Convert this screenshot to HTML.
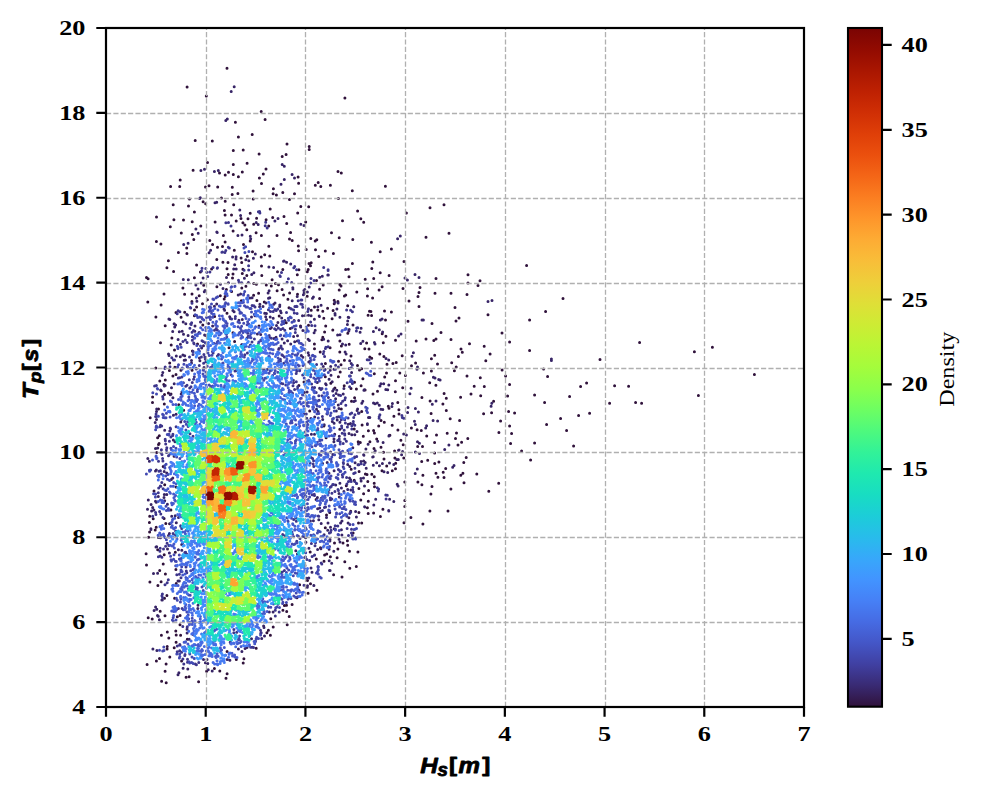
<!DOCTYPE html><html><head><meta charset="utf-8"><style>html,body{margin:0;padding:0;background:#fff;width:1000px;height:800px;overflow:hidden}</style></head><body><svg width="1000" height="800" viewBox="0 0 1000 800" style="position:absolute;left:0;top:0"><rect width="1000" height="800" fill="#fff"/><path d="M227 68.2h0M754.4 374.6h0" stroke="#30123b" stroke-width="3.0" stroke-linecap="round" fill="none"/><path d="M147.1 664.6h0M148.2 617.8h0M149.9 582h0M146.5 565h0M146.1 553.7h0M148.6 537.3h0M149.6 532.1h0M149.4 522.5h0M149.7 516.2h0M150.2 417.7h0M147.8 302.1h0M148.1 278.7h0M146.5 277.4h0M156.4 661h0M152.2 619.1h0M157.9 585.4h0M157.7 549.7h0M155.2 529.9h0M156.2 527.2h0M153.2 518.8h0M154 491h0M157.9 475.7h0M156.7 452.5h0M157.6 437.7h0M152.5 402.4h0M152.6 397.1h0M155.8 368.1h0M155.9 316.9h0M156.4 241.4h0M156.5 216.9h0M161.6 681.3h0M159.5 658.6h0M161.4 635.2h0M160.2 611.2h0M161.1 581.7h0M159.7 570.5h0M163.2 564.1h0M164.1 518.6h0M163.2 466.6h0M158.5 444.6h0M159.1 443.5h0M159.3 435.7h0M158.5 409.1h0M163.8 384.6h0M159.8 381h0M160.5 342.7h0M161.1 305h0M164 294h0M160.9 244.1h0M166.2 682.7h0M165.1 671.2h0M166.1 664h0M169.8 657h0M167.1 649h0M167.2 646.6h0M168.8 637.9h0M167.3 632h0M165 615.7h0M164.5 598.2h0M166.9 595.5h0M165.4 574.1h0M164.2 554.8h0M169.6 523.7h0M165.8 523.6h0M164.7 484.8h0M164.3 404h0M164.5 394.5h0M168.4 393h0M165.3 380.1h0M169.4 370.6h0M169.7 363h0M165.2 325.7h0M166.9 267.8h0M168.4 260.8h0M174.2 647.7h0M176.1 642.2h0M176.2 634.9h0M175.8 631h0M174.6 598.3h0M176.2 583.6h0M175.9 569.5h0M175.3 552.2h0M170.9 510.1h0M176.1 487.1h0M174.1 456.3h0M171 394.1h0M172.9 376.1h0M176 374.6h0M174.9 367.2h0M174.5 349.9h0M171.2 345.1h0M171.9 338h0M176 312.5h0M173.6 271.5h0M170.3 226.8h0M173.9 219.7h0M173.2 204.8h0M170.6 186.5h0M181.6 660.9h0M180.6 635.2h0M180 624.7h0M177.3 616.7h0M180.1 615.6h0M178.8 404.7h0M180.9 370.3h0M181.1 317.2h0M178.4 252.5h0M181.3 233.1h0M179.7 186.4h0M186.1 677.3h0M187.3 639.3h0M183.7 410.2h0M184.7 312.3h0M184.6 294.2h0M182.9 288.1h0M186.9 253.5h0M186.7 247.9h0M183.5 220h0M189.1 676.8h0M192.1 370.3h0M192.4 351.1h0M194.4 315.8h0M194.5 310.1h0M191.9 301.4h0M192 294.1h0M194.4 277.8h0M193.8 239.4h0M192.3 234.4h0M192.2 221.8h0M194.4 212h0M188.5 206.1h0M189.5 198.9h0M198.6 681.7h0M197.5 344.1h0M196.6 306.9h0M199.2 295.7h0M200.4 272h0M196.6 265h0M206.6 671.3h0M202.8 324.9h0M202.5 303.8h0M203.7 285.3h0M200.8 226h0M205.7 203.7h0M203.1 201.8h0M205.5 186.9h0M207.4 299.7h0M211.6 268.9h0M212.6 244.4h0M209.8 240.5h0M209 185.7h0M214.4 668.4h0M214.6 316.6h0M216.9 286.7h0M216.8 259.4h0M217.5 247.2h0M215.1 222h0M217.7 187h0M219.8 671.1h0M224.2 299.1h0M220.3 295.7h0M222.9 262.2h0M222.5 246.6h0M223.4 235.5h0M224.4 210.6h0M221.4 198.1h0M226 678.3h0M227.1 673.8h0M227.1 651.6h0M229 347.7h0M227 313.2h0M225.1 296.6h0M226.4 289.5h0M228.2 274.5h0M227 268.7h0M228 262.6h0M225.1 242h0M225.1 215.1h0M225.2 201.2h0M236.3 659.5h0M234.6 341.4h0M233 332.8h0M231.6 291.4h0M232.5 278.1h0M233 273.9h0M234.3 250.3h0M233.1 231h0M236.2 221.1h0M231.5 215.1h0M233.7 204.7h0M232.2 194.6h0M232.3 187.3h0M241.3 300.7h0M241.8 287.9h0M242.3 273.6h0M242.9 269.3h0M241.7 262.6h0M241.1 258.1h0M242.9 222.8h0M241 218.5h0M237.9 193.5h0M243.2 663.1h0M243.9 658.8h0M245.9 286.2h0M246.8 275.4h0M247.3 256.3h0M243.5 244.6h0M246.8 229.7h0M244.9 224.9h0M248 218.7h0M253.6 295.2h0M253.8 283.4h0M252.5 251.7h0M250.2 240.9h0M253.7 224.2h0M250.2 213.3h0M253.2 199.1h0M253.1 191.1h0M256.2 648.2h0M255.4 641.3h0M259 326h0M256.9 300.4h0M258.6 293.2h0M256.4 284.2h0M261.2 257.1h0M261.4 235.6h0M256.1 232.7h0M256.6 218.2h0M266.9 632.8h0M264.3 302.1h0M266.3 285.1h0M261.8 275.5h0M261.5 265.9h0M264.7 254.8h0M266.1 219.7h0M261.5 183.5h0M270.4 635.2h0M268.4 630.3h0M273.2 627.1h0M270.8 618.8h0M271.3 286.1h0M272.1 279.7h0M269.8 256h0M268.8 246.3h0M268.7 226h0M272.7 217.4h0M270.2 209h0M273.1 193.7h0M273.4 188.8h0M279.2 316h0M277.1 290.8h0M278.5 284.8h0M275.5 283.5h0M277.5 271.8h0M277 235.5h0M276.4 195h0M282.9 610.3h0M284.4 605.6h0M283.6 295h0M282.1 289.4h0M282.8 269.4h0M284 216.5h0M282.8 192.6h0M287.2 624.8h0M289.2 616.6h0M286.7 611.5h0M286.5 605.2h0M290.3 328.4h0M286.2 322.7h0M289 307.7h0M287.9 299.3h0M289.6 293.1h0M289.5 239h0M290.6 232.6h0M286.7 223.4h0M289.5 199.4h0M292.1 604.6h0M296.9 597.7h0M294.1 320.5h0M297.5 294.3h0M297.3 274.8h0M292.2 240.4h0M297.7 213h0M294.5 193.7h0M299.6 584.7h0M298.9 385.6h0M304 381.9h0M300.5 326.1h0M298.9 269.7h0M298.6 250.7h0M298.3 245.9h0M300.8 206.6h0M298.6 183.3h0M308.1 593.3h0M307.5 580.5h0M309.7 411h0M304.8 349.4h0M308.5 325.2h0M307.2 296.3h0M307.3 271.8h0M308.2 269.4h0M309 263.5h0M306.2 249.5h0M305.7 222.1h0M308.7 206.7h0M310.5 583.8h0M310.2 552h0M316.1 499.6h0M314.5 348.8h0M314.4 344h0M311.2 310.3h0M314.5 307.1h0M310.5 265.8h0M311.2 262.8h0M315.5 249.7h0M315.2 241h0M310.8 238.6h0M315.3 185.2h0M316.9 590.2h0M316.3 558.9h0M320.5 547.7h0M320.2 352.1h0M321.9 339.8h0M317.8 309.9h0M319.6 298.5h0M319.6 289.3h0M316.5 280.6h0M318.7 256.4h0M316.8 239.8h0M320.8 186.4h0M318.2 182.5h0M324 561.3h0M324.6 555.1h0M326.7 553.9h0M325.3 527.7h0M326.5 515.1h0M326.1 437.7h0M323.9 426.1h0M325.3 376.8h0M325.4 363.5h0M322.8 337.2h0M324.6 332h0M325.7 326.1h0M323.8 318.3h0M322.8 311.2h0M327.6 308.2h0M323.2 285.1h0M325.3 250.9h0M333.6 574.7h0M330.4 556.8h0M329.7 512.5h0M330.8 383.3h0M330.1 347.7h0M332.8 330.1h0M332.1 318.8h0M333.1 310.4h0M334.2 303.7h0M334.2 300.3h0M333.4 253.5h0M331.5 232.8h0M330.4 185.2h0M337.1 557.7h0M337.9 549h0M334.5 543h0M340.1 457.5h0M339.8 429.3h0M334.9 387.9h0M338.4 376.7h0M340.2 371.9h0M338.5 361.3h0M339.8 352h0M339.9 341.1h0M337.9 301.5h0M339.2 290.1h0M339.9 284.4h0M339.2 237.7h0M338.4 198.5h0M342 577h0M344.8 561.8h0M343 543.1h0M346.3 485.7h0M341.3 408.9h0M344.2 385.7h0M341 364.7h0M344.4 360.3h0M341.4 346h0M344.4 296.1h0M345.7 294.9h0M341 286.1h0M345.7 269.4h0M342.5 220.8h0M349.8 568.2h0M349.5 551.3h0M347.7 545.3h0M347.4 540.7h0M350.7 511.2h0M351.2 469.2h0M351.5 401.2h0M351 388.5h0M351 355.9h0M349.2 344.2h0M347.8 333.3h0M347.7 305.7h0M349 276.7h0M348.3 269.3h0M352.4 263.5h0M352.3 190.8h0M356.3 566.4h0M357.9 552h0M353.1 533.1h0M358.5 523h0M354.2 480.2h0M358.2 441.8h0M354.2 429h0M354.6 397.8h0M356.4 389.1h0M354.5 382.3h0M357.5 365.5h0M353 325h0M356.8 291.9h0M352.8 239.4h0M357.6 211h0M361.7 522.9h0M358.9 512.5h0M360.8 500h0M363.6 493.8h0M358.9 488.4h0M359.1 471.4h0M360.3 442.6h0M363.3 436.3h0M362.1 424.9h0M359 413h0M361.7 411.4h0M361.1 385.7h0M362.9 378.8h0M359.5 369.9h0M361.6 368.7h0M364.8 348.8h0M363.7 222.3h0M360.8 218.7h0M368.2 513.6h0M367.4 507.8h0M368.3 501.2h0M368.6 490.4h0M367.8 481.6h0M367 474.5h0M365.4 473.9h0M369.9 441.7h0M368.4 430.8h0M365.1 389.9h0M369.8 357h0M369 349h0M366.6 342.9h0M368.1 315.2h0M369.5 311.2h0M367.4 296.1h0M367.6 288.8h0M365.2 279.3h0M373.6 512.9h0M374.5 486.8h0M374.2 483.3h0M374.3 476.8h0M371.8 474.3h0M374 448.6h0M376.7 438.9h0M374.4 433.1h0M373.6 430.5h0M373 394.1h0M374.3 373.8h0M371.7 358.2h0M371.6 315.6h0M370.9 311.5h0M372.6 297.9h0M373.7 278.4h0M371.8 268.5h0M372.8 261.9h0M371.4 242.2h0M380.4 516.6h0M382.9 509.3h0M382 470.7h0M381 447.3h0M378.7 425.9h0M381 420.4h0M377.5 391.2h0M379.8 354h0M382.2 333.8h0M379.1 290.1h0M382.1 286.7h0M380.2 272.7h0M380.2 251.8h0M386.7 465.9h0M384 459h0M383.5 452.2h0M384.3 422.3h0M389 408.2h0M388.3 406.2h0M384.7 377h0M386.5 373h0M387 364.2h0M383.9 356.6h0M383.3 342.7h0M385.9 336.3h0M385.5 320.1h0M384.5 310.9h0M389.1 275.6h0M385.4 186.3h0M392.3 470.7h0M394.9 458.1h0M394.6 450.9h0M389.9 435.2h0M392.2 425.3h0M393.9 416.3h0M395.3 391.8h0M392.9 363.5h0M391.4 312h0M391.4 248.9h0M395.5 468.8h0M395.7 463.3h0M400.9 440.3h0M397.9 430h0M399 413.9h0M398.9 409.7h0M397.8 402.4h0M395.5 380.7h0M399.8 373h0M396.2 362.5h0M395.5 340.2h0M403.8 458.1h0M403.2 444.7h0M402.7 387.8h0M405.4 375.4h0M402.2 355.8h0M411.4 427.9h0M411.5 365.7h0M417.7 446.5h0M417.1 429.7h0M415.6 362.9h0M416.2 340.9h0M421.7 461.5h0M422.5 446.4h0M421.3 430.5h0M421.9 397.4h0M423.4 373.1h0M427.7 460.2h0M426.7 436h0M431.1 413.5h0M430.1 401.1h0M429.7 382.8h0M431.4 371.1h0M431.4 358.8h0M434.7 463.4h0M434.6 453.1h0M434.6 442.6h0M436.5 434.9h0M435.9 385.2h0M437.5 364.1h0M434.7 355.2h0M433.8 340.4h0M438.9 462h0M442.9 404h0M445.7 468.6h0M447.2 433.2h0M446.3 410.4h0M446.3 398.2h0M444.1 393.5h0M455.5 438.5h0M450.2 418.8h0M454.4 370.7h0M451.7 362.7h0M458 445.1h0M461.6 442.3h0M456.5 432.9h0M459.6 420.4h0M460.6 397.2h0M456.2 367h0M458.4 356.4h0M461 349h0M463.8 462.4h0M466.2 457.5h0M467.8 438.6h0M467 375.9h0M462.3 352.3h0M471 393.9h0M474.2 386.3h0M469.5 343.8h0M480.3 377.7h0M483.6 413.8h0M480.7 395.8h0M484.3 386.4h0M485.8 360.8h0M484.2 346.2h0M491.6 412.8h0M490.1 353.9h0M493.6 401.2h0M498.9 432.6h0M500.6 421.1h0M502.1 370.1h0M187.1 87.1h0M206.3 96.1h0M344.9 97.9h0M261.2 111.4h0M265.1 119.5h0M235.4 122.2h0M195.2 140.5h0M212.3 141.1h0M238.4 136.9h0M252.2 134.5h0M287 144.1h0M309.2 146.5h0M309.2 149.5h0M233.3 150.4h0M243.2 150.1h0M259.1 154h0M282.2 156.4h0M286.1 154.6h0M207.5 162.4h0M233.3 164.5h0M247.1 163.3h0M266 169h0M193.1 170.2h0M219.5 172.9h0M228.5 172.3h0M225.2 175h0M233.3 174.4h0M238.4 176.8h0M242.3 172h0M259.4 178h0M263.3 174.1h0M298.1 177.1h0M338 171.4h0M341.3 172.9h0M180.2 180.1h0M430 207.8h0M444 204.8h0M406.4 213h0M426 237.2h0M449 233.2h0M404 261.6h0M526.6 265.6h0M436 278.6h0M468 274.8h0M480 280.8h0M478 285.4h0M468 283h0M403 288.4h0M420 287.6h0M419 292.4h0M418 296.4h0M435 293.2h0M451 293.2h0M467 294.4h0M409 301h0M419 306.6h0M455 307.4h0M563 298.6h0M545.6 311.4h0M488 314.8h0M459 318h0M456 321h0M408 321.2h0M432 323.6h0M529.6 320h0M441 332.6h0M502 333h0M426 339h0M436 339h0M451 339.6h0M509.6 342h0M529.6 350.4h0M600 359.4h0M543.6 369h0M547.6 376.4h0M505.6 376h0M509.6 384.4h0M580.6 386.4h0M586.6 383h0M534.6 395h0M507.6 396h0M569.6 396.6h0M544.6 402.6h0M508.6 411.4h0M514.6 413h0M578.6 415.6h0M589.6 413.2h0M560.6 418.4h0M546.6 424.6h0M509.6 426h0M511.6 433.6h0M566.6 430.6h0M510.6 443.4h0M534.6 443h0M573.6 446h0M521.6 451h0M530.6 460h0M639.6 342.4h0M694.4 351.8h0M712.4 347.2h0M614.6 385.8h0M628.6 386.2h0M609.6 403.2h0M635.6 402.4h0M641.6 403.2h0M698.4 395.4h0M422.9 475.3h0M436 473.2h0M437.9 477.2h0M443.2 472.2h0M444 477.4h0M460.8 475.3h0M462.9 473.2h0M476.8 474h0M417.9 482h0M421.9 484.7h0M432 486.6h0M464 482.8h0M498.7 483.3h0M450.9 488.9h0M488.8 491.3h0M430.9 494h0M404.8 482h0M404.8 500.4h0M404.8 506.5h0M429.9 511h0M448 511h0M410.9 517.4h0M404 522.8h0M422.9 524.1h0" stroke="#30123b" stroke-width="3.0" stroke-linecap="round" fill="none"/><path d="M150.9 528.7h0M151 529.6h0M147.5 509.3h0M151.6 511h0M148.3 499.9h0M151.1 504.5h0M147.8 458.4h0M149.4 461.3h0M152.9 649.1h0M156.9 650.5h0M154.1 610.5h0M157.5 615.6h0M156.8 609.3h0M155.6 607h0M153.5 573.6h0M157.6 573.3h0M156.7 546.7h0M156 547.1h0M153.9 510.1h0M152.7 507.6h0M156.3 502.3h0M155.5 501.2h0M155.5 470.9h0M156.3 470h0M155.5 448.4h0M157.7 447.9h0M155.2 422.6h0M156.5 419.4h0M156.5 411.5h0M156.7 409.1h0M159.4 619.8h0M158.3 616.3h0M161.9 600.1h0M162.3 599.9h0M160.5 537.7h0M158.4 537.5h0M158.3 496.6h0M164 497.5h0M160.6 390h0M161.2 390.7h0M162.1 375.2h0M162.8 372.5h0M169.4 553.1h0M167.5 549h0M168.5 535.6h0M169.4 533.5h0M164.7 500.8h0M167.4 504.3h0M166.8 494.4h0M164.3 494.4h0M166.8 473.1h0M164.2 471.6h0M164.7 430.3h0M169.8 430.9h0M164.4 386h0M165.2 385.6h0M169 355.5h0M168.5 353.9h0M168.9 318.9h0M169.8 319.4h0M171.7 516.3h0M175.2 515.8h0M172.8 478.1h0M171.3 479.5h0M175 441.7h0M173.3 439.9h0M176.1 414.3h0M173.4 415.3h0M172.9 397.7h0M170.2 394.8h0M171.5 387.8h0M174.2 383.8h0M172.7 331.5h0M174.7 327.1h0M175.6 325h0M174.1 323.8h0M178 674.8h0M178.9 672.8h0M178 581.1h0M179.3 580.9h0M178.4 549.8h0M181.8 550.2h0M182.4 543.4h0M181.7 544.5h0M176.3 522.8h0M178.5 517.6h0M180.8 422h0M181.7 419.3h0M181.2 394h0M181.9 391.9h0M176.3 356h0M180.3 356.8h0M178.1 339.6h0M180.4 344.3h0M179.3 331.8h0M182.2 331.2h0M183.1 668.2h0M187.8 668.9h0M187.1 633.1h0M187 629.3h0M184.2 360.3h0M185.5 359.9h0M182.9 354.9h0M184.7 355.8h0M183.5 334.3h0M188.1 335.4h0M183.2 322h0M185.8 323.8h0M187.4 315.1h0M186.9 314.6h0M183.3 279.6h0M188.3 279.8h0M183.7 244.4h0M188.1 243.3h0M189.2 639.3h0M193.3 634.4h0M191.5 363h0M191.5 360.4h0M197.8 608.6h0M198 605.3h0M199.9 360.8h0M199.4 357.9h0M194.8 331.3h0M199.1 332.5h0M195 326.1h0M200.5 321.9h0M196.9 301.3h0M196.4 298.1h0M195.9 285.1h0M198 289h0M195.9 229h0M198.2 233.2h0M200.3 197.7h0M199.7 198.6h0M203.5 659.5h0M205.4 662.7h0M203.4 369h0M204 367.4h0M203.5 345.7h0M201.6 348.1h0M205.6 335.5h0M204.6 335.1h0M204.3 291.7h0M205 290.5h0M201.2 282.9h0M203.1 277.9h0M208.2 669.7h0M212.2 671.1h0M207.8 663.5h0M207 659.5h0M208.6 323.5h0M212.6 326h0M209.1 252.7h0M210.6 250.3h0M214.4 306.3h0M216.7 303.9h0M217.2 232.5h0M216.8 232.1h0M215 202.7h0M216.7 202.2h0M224.6 310.2h0M224 309.1h0M220.4 284.2h0M223 288.4h0M227.2 659.4h0M229.9 660.3h0M230.3 318.6h0M229.7 316.8h0M226.5 277.6h0M228.4 282.7h0M232.9 310.5h0M234.1 311.8h0M233.7 269.1h0M236.2 268.9h0M234.7 264.8h0M236 259.1h0M232.6 256.9h0M236.1 256.7h0M238.4 649h0M241.9 651.5h0M241.6 344.7h0M242 344.5h0M238.9 320.2h0M242.3 319.5h0M238.2 295h0M240.6 294.1h0M237.9 235.5h0M242 235.1h0M239.8 209.9h0M240.6 215.5h0M245.1 648.4h0M247 647.6h0M244.4 278.2h0M248.4 282.4h0M245.8 259.8h0M248.8 260.7h0M251.5 638.7h0M249.8 635.3h0M251.5 317.1h0M255 315.7h0M249.8 298h0M252.1 297.7h0M251.7 274.5h0M253.9 272.7h0M253.4 258.2h0M255.3 254h0M250.7 238.7h0M250.3 236.3h0M257.4 334.1h0M260.7 334.6h0M259.6 306.7h0M259.9 304.2h0M258.2 224.5h0M256.2 222.6h0M261.7 638.5h0M264.5 636h0M263.6 626.1h0M264 627.4h0M263.6 369.4h0M267.3 369.4h0M266.5 319.6h0M265.7 316.7h0M264.7 313.3h0M266.4 313.4h0M263 306.6h0M266 302.9h0M269.3 611.9h0M273.1 611.9h0M270.4 328.6h0M271.4 327.4h0M270.2 317.1h0M273.2 318.2h0M268.5 298.3h0M269.8 297.7h0M268.1 293.1h0M269.1 290.8h0M268.9 267.1h0M273.6 267.4h0M279 348.4h0M278.7 349.2h0M276.1 337.3h0M274 338.5h0M276.5 325.4h0M277.9 322.4h0M273.7 304.3h0M275 303.1h0M274.9 221.1h0M278 218.6h0M282.1 339.1h0M284.3 343h0M281.7 317.9h0M284.9 320.5h0M281.1 312.7h0M280.5 311h0M279.7 306.5h0M279.8 304.9h0M284.1 261h0M283.5 261.2h0M281 184.2h0M287.6 340.7h0M290.7 344.1h0M286.6 262.3h0M290.7 264.1h0M297.4 554h0M295.8 550.7h0M294.7 341.7h0M297.4 341.1h0M293.6 336.5h0M297.5 335.7h0M292.2 300.7h0M297.2 296.6h0M292.8 287.8h0M292.9 288.9h0M301.3 355.5h0M302.9 357.2h0M300.7 327h0M302.9 330.5h0M298.7 320.4h0M302.5 315.8h0M303.4 294.8h0M303.9 290.5h0M300.8 224.2h0M304 225.4h0M307.5 585.7h0M307.3 587.2h0M306.8 578.3h0M308.8 578.1h0M305.9 542.2h0M308.9 548.2h0M304.9 536.4h0M305.6 537.7h0M304.4 392.4h0M307.1 392h0M308.8 361.9h0M309.8 361.2h0M308.8 355.2h0M308.2 352.7h0M309.4 340.5h0M308.1 339.2h0M305.2 315.6h0M308.5 315.3h0M304.1 292.9h0M307.4 291.9h0M304.8 289.6h0M309.2 287h0M313.8 585.6h0M313.9 585.4h0M312 572.3h0M311 568.1h0M310.4 521h0M313.4 520.7h0M311.4 434.2h0M314.5 434.2h0M310.9 418.4h0M314.7 417.1h0M314.1 332.8h0M315.2 330.2h0M311.1 315.7h0M314.4 319.2h0M312.5 298.3h0M313.4 296.9h0M317.6 549.4h0M320.9 548.8h0M318.8 519.8h0M321.2 523.5h0M317.6 508.7h0M319.7 508h0M317.4 497.5h0M321.3 498.3h0M318.1 411.4h0M316.5 409.2h0M317.3 382.5h0M319.6 388.3h0M319.2 315.9h0M319.4 316.4h0M317.8 306.8h0M321.1 305.3h0M319.7 277.3h0M322.3 276.3h0M324.1 534.7h0M327.7 530.3h0M328 523.1h0M326.5 517.6h0M322.6 463.6h0M327.2 462.4h0M324.2 424.8h0M322.7 419.4h0M325.6 383.7h0M326.2 384.8h0M325.1 369.4h0M323.3 366.6h0M323.7 339.3h0M328.2 341h0M328.3 275h0M327.8 274.9h0M330.1 570.5h0M329.5 570.6h0M329.2 560.8h0M331.7 563.3h0M329.1 549.3h0M333.8 551.3h0M330 539.6h0M329.9 541.1h0M330.5 527.3h0M334.2 528.7h0M330.5 499.7h0M330.8 499.6h0M329 473.2h0M334.1 470.8h0M330.6 452h0M332.9 454.6h0M333.9 441.7h0M334 439.1h0M334.1 423.3h0M332.3 421.4h0M333.7 389.2h0M332.7 391.1h0M329.1 379.2h0M332.2 381.8h0M331 375.3h0M330.2 370.2h0M330.7 366.4h0M334 369.3h0M340 542h0M339 539.2h0M339.3 497.1h0M339 493.4h0M335.7 484.9h0M339.9 483.3h0M334.7 434.2h0M339.3 436.3h0M337.2 420.1h0M339.9 422.3h0M336.3 410.9h0M338.9 408.5h0M335.2 401.4h0M338.3 405.1h0M335.6 398.8h0M338.7 394.9h0M336.1 393.5h0M336.8 390.3h0M337.6 335h0M340 334.8h0M335.1 315.1h0M339.9 317.2h0M335 313.4h0M336.9 309h0M334.9 302.2h0M338.1 303h0M341.9 534.9h0M341.4 529.8h0M342 521.1h0M340.6 523h0M341.4 487.9h0M343.9 491.4h0M343.2 393.9h0M343.9 388.6h0M346.1 354h0M345.1 352.1h0M342.5 344.1h0M345.7 344.9h0M348.1 522.9h0M348.9 517.8h0M347.7 489.6h0M350.9 490h0M349.5 478h0M350.6 479.8h0M347.7 464.6h0M349.8 466.6h0M349 433.6h0M351.8 434.8h0M348.2 424.3h0M350.5 423.6h0M350.3 375.9h0M351.6 372.4h0M349.7 360.7h0M351.2 363.5h0M348.8 331h0M349.2 329.5h0M347.4 324.5h0M347.7 320.9h0M348.8 317.4h0M348.2 317.3h0M355.6 511.4h0M356.4 517h0M355.1 462.7h0M358 464.8h0M352.8 447.7h0M358.5 444h0M354.8 434.7h0M357 431.4h0M357.1 410.5h0M357.6 409.1h0M355.3 400.7h0M353.8 401.6h0M353.7 306.8h0M353.8 306.8h0M364.6 506.7h0M364.7 507.1h0M361.1 481h0M364.5 485.9h0M360.9 478.6h0M363.5 478h0M361 461.5h0M363.7 461h0M363.9 455.2h0M363.6 454.8h0M361.8 403.2h0M362.8 401.2h0M364.3 389.8h0M363.9 390.3h0M360.7 343.6h0M362.9 341.3h0M360.1 332.2h0M361.1 328.2h0M366.2 468.2h0M365.2 462.6h0M365.9 449h0M368.1 444.2h0M367.4 424.6h0M367.4 423.8h0M368.5 417.6h0M369.8 417.6h0M373.8 505.1h0M375.7 499.2h0M373.3 465.3h0M376.7 462.8h0M373.2 456.8h0M372.7 457h0M375.2 450.7h0M374.8 452.1h0M373.5 403h0M375 403.7h0M374.4 342.5h0M375 344h0M373.4 331.5h0M376.1 327.8h0M379.4 465.8h0M382.4 463.4h0M377.7 441.3h0M383.1 442.6h0M382.8 409.4h0M380.9 409.3h0M379.3 405.3h0M377.3 403h0M380 386.1h0M380.9 383.7h0M379.3 329.8h0M382.6 332.1h0M380.4 319.9h0M382.1 319h0M388.7 510.5h0M388.8 511.1h0M384 471.7h0M387.7 472.5h0M389.1 435.6h0M388.9 435.9h0M385.8 389.5h0M387.7 389.8h0M383.7 383.7h0M388.8 385.1h0M386 358.6h0M388.7 360h0M389.6 499.3h0M393.8 501.6h0M389.5 463h0M393.8 464.5h0M391.9 406.4h0M392.4 403.4h0M397.2 484.3h0M398.1 486.1h0M398.3 459.5h0M396.8 459.5h0M398.5 450.3h0M399 450.1h0M398.6 335.9h0M397.6 238.8h0M400.3 236.1h0M401.6 454.8h0M402.6 451.5h0M403.7 434h0M406.4 435.1h0M407.6 412.4h0M408 407.4h0M409.9 393.7h0M411.1 388.3h0M412 356.2h0M413.4 352.7h0M417.3 469h0M415.4 451.9h0M419.5 453.4h0M417.5 441.8h0M419.4 443.3h0M415.3 424.5h0M414.5 421.2h0M415.4 408.6h0M418.4 412h0M417.5 366.9h0M417 369.2h0M426.6 425.8h0M425.7 427.9h0M433.1 420.6h0M437.6 420.9h0M432.3 404.3h0M436 401h0M433.4 377.2h0M435 377.9h0M440.1 380h0M438.7 379.5h0M444.7 449.4h0M448.9 445.1h0M452.7 467.3h0M454 465.4h0M491.1 406.3h0M491.8 403.3h0M234.2 86.8h0M231.2 91.6h0M225.8 120.4h0M227.3 119h0M282.2 164.5h0M284.3 166.3h0M200.9 170.5h0M204.5 169.3h0M214.4 171.4h0M218.3 170.5h0M292.1 174.4h0M294.5 178h0M284.3 179.5h0M415 274.4h0M419 277.4h0M405 278h0M407.4 280h0M488 301.4h0M492 300.4h0M422 320h0M423.4 320h0M401 334h0M551.4 359h0M551.4 360.6h0M415.2 473.5h0" stroke="#372466" stroke-width="3.0" stroke-linecap="round" fill="none"/><path d="M152.7 516.3h0M155.6 512.5h0M155.9 514.4h0M156.3 416.4h0M155.6 416.5h0M156.1 413.9h0M154.6 385.9h0M156.4 385.5h0M156.4 385.6h0M161.9 595.8h0M162.5 597.4h0M162.4 594.1h0M160.2 555.9h0M158.4 556.8h0M161.9 557.3h0M159.9 551.2h0M160.2 548.3h0M163.5 549.1h0M159.6 511.5h0M160.8 514.1h0M162.9 517.5h0M158.3 492.8h0M158.7 488.1h0M163.1 488.7h0M160.8 486.3h0M160.4 486h0M161.8 482.6h0M159 471.3h0M160.4 470.8h0M161.4 474.1h0M158.5 461.2h0M162.9 460.9h0M162.6 458.6h0M162 454.6h0M161.1 452.9h0M161.4 449.8h0M160 426.7h0M160.5 425.3h0M161.7 426.1h0M163 398.9h0M162.8 397.1h0M162.7 396.6h0M165 584.8h0M167.2 582.8h0M168.3 579.7h0M165.6 546.3h0M167.1 543.3h0M168.8 545.5h0M166.6 452.5h0M168.5 455.8h0M170 454h0M166.5 449.7h0M166.8 447.8h0M165.7 444.1h0M165.4 440.8h0M165.2 439.2h0M169.4 441.3h0M165.2 367h0M164.9 368.6h0M170 366.8h0M173.1 533.6h0M175.5 535.1h0M175.6 531.1h0M170.9 437.1h0M172.7 435.4h0M172.9 434.3h0M170.6 428.9h0M170.2 427.9h0M176.1 426.8h0M171.8 357.7h0M174.5 359.9h0M173.4 359.9h0M177.2 651.8h0M181.6 652.2h0M179.7 650.7h0M177.3 646.1h0M180.1 645.2h0M179.8 644.4h0M176.8 609.2h0M178.4 608.6h0M182.1 608.5h0M176.8 574.8h0M181 577.8h0M179.4 574.3h0M181.7 528.5h0M180.7 526.2h0M180.7 525.8h0M178.3 378h0M179.6 377.8h0M181.9 377.1h0M177.2 313.7h0M178.1 310.8h0M179.9 311.8h0M183.8 664.1h0M187.5 662.2h0M187.5 659.3h0M182.9 658.9h0M184.8 655.6h0M185 654.6h0M182.8 626.6h0M187.2 627.2h0M187.3 626.7h0M186.8 572.7h0M186.3 571h0M186 567h0M184.8 552.6h0M186.6 554h0M185.6 552.3h0M183.4 382.7h0M187 385.3h0M185.7 386.2h0M182.9 341.6h0M187.1 342.6h0M185.4 340.1h0M189 436.9h0M190 433.8h0M193 436.3h0M191 386.7h0M189.7 388h0M192.3 382.5h0M189.3 379.7h0M193.6 379.3h0M194.3 376.7h0M189.5 357.1h0M193 354.6h0M193.1 351.4h0M194 343.8h0M193.7 343.1h0M192.3 340.3h0M192.4 336.8h0M194.2 338h0M192.6 336.8h0M189.9 328.3h0M193.5 330.4h0M192.1 332.2h0M190.7 324.1h0M191.2 324.4h0M191.6 322.7h0M190.3 307.4h0M190.7 307.9h0M192 303.3h0M196.4 664.7h0M195.4 664h0M198.8 662.5h0M196.1 368.2h0M196.3 369h0M199.3 365.5h0M203.6 363.3h0M205.9 361.7h0M205.3 359h0M201.4 356.9h0M204.8 356.9h0M203.9 354.5h0M202 340.8h0M203.2 341.4h0M205.4 342.8h0M202 268.3h0M201.5 270.9h0M205.8 268.4h0M207.7 276.5h0M206.8 272.2h0M209.9 272h0M213.1 353h0M217.4 355.9h0M218.5 354.4h0M214.5 330.3h0M217.3 330.1h0M216.2 328.6h0M213 267.6h0M217.5 267.8h0M217.3 268.2h0M221.9 252.3h0M224.9 252.4h0M222.4 251.9h0M230.4 642.1h0M230.8 643.5h0M230.2 642.2h0M225.8 250.5h0M229.3 248h0M228.3 247.2h0M225.9 222.7h0M231 225.9h0M228.5 222.4h0M233.8 632.8h0M233.9 629.4h0M236.8 632.2h0M231.1 374.7h0M236.3 370.6h0M235 371.1h0M231.6 319.1h0M235.2 318.4h0M235.4 316.4h0M239.1 282.3h0M238.5 280.2h0M241.7 282.7h0M244.8 354.7h0M244.3 356.9h0M247.4 353h0M248.2 336.2h0M247.1 338h0M247.7 333.2h0M244.1 270.2h0M248.7 270.1h0M248.6 265.8h0M250.7 647.3h0M253.5 647.5h0M252.4 647.3h0M250.4 345h0M252 341.9h0M254.4 339.1h0M252.1 305.6h0M255 307.1h0M253.9 305.8h0M260.7 633.2h0M261.2 632.7h0M260.5 630.3h0M259.9 213h0M258.4 211.7h0M259.6 211.4h0M265.2 225.7h0M267.2 228.1h0M265.7 222.3h0M269.5 337.3h0M269.2 335.6h0M271.4 338.2h0M270.5 311.4h0M268.4 309.8h0M273.2 311.5h0M275.3 615.9h0M275.3 610.3h0M279.2 611.9h0M274.6 328.8h0M276 329.8h0M278.3 328.1h0M276.2 310.4h0M274.9 309.5h0M277.8 309.1h0M282.2 572h0M281 572.7h0M284.4 570.5h0M282.7 534.6h0M285 535.7h0M284.2 529.9h0M280.9 383.2h0M285.8 385.1h0M282.8 383.7h0M280.5 360.9h0M280.4 359.2h0M283.8 363.3h0M281.9 354.7h0M282.7 355.6h0M284.4 357.1h0M282.4 349h0M281.1 347.5h0M281 346h0M280.7 329.6h0M284.8 330.3h0M282.9 328.6h0M279.9 275.7h0M280.3 276.6h0M281.5 272.5h0M286.5 312.5h0M290.7 308.4h0M291.4 309.1h0M287.1 282.3h0M288.4 278.8h0M291.7 282.4h0M293.7 536.8h0M296.8 541.2h0M296.7 541.8h0M293.7 519.6h0M296.3 521.3h0M296.1 517.9h0M292.5 393.3h0M294.6 389.6h0M297.6 388.9h0M293 385.7h0M293.6 382.8h0M297.7 386.8h0M292.3 379.7h0M293.4 380.3h0M296.3 381.7h0M296.2 373.4h0M296.3 370.1h0M296.7 371.3h0M292.1 327.7h0M295.3 332.4h0M295.4 329.2h0M294.3 313h0M293.6 310.1h0M297.1 313.6h0M297 306.4h0M294.9 306.5h0M296.3 306.2h0M294.7 266.5h0M293.8 267.8h0M296.6 269.8h0M299.2 590.7h0M298.7 590h0M304 585.3h0M300 538.5h0M298.4 536.3h0M302.8 536.5h0M299.7 370.1h0M299.6 370.8h0M302.7 375h0M300.8 303.9h0M302.7 307.2h0M302.3 304.5h0M298.2 300.8h0M301.8 300h0M301 300h0M304.5 564.5h0M305 565.6h0M309.7 560.6h0M304.7 557.6h0M306.9 559.5h0M305.5 557h0M306.8 418.2h0M304 414h0M306.3 414.1h0M308.5 308.7h0M307.8 311.4h0M308.3 309.2h0M312.1 556.6h0M314.4 555.3h0M314.6 555.1h0M311.4 543.5h0M315 545.7h0M315.5 542.7h0M312.1 494.8h0M314.3 494.2h0M314.5 495.4h0M313.1 463.9h0M310.1 462.9h0M313.8 466.4h0M311 457.6h0M312.6 458.6h0M313.6 460.8h0M312.4 387.5h0M311.6 384h0M314.6 387.4h0M311.7 325.6h0M310.6 321.9h0M315 325.7h0M310.6 283.1h0M311 278.5h0M314.1 280.6h0M318 566.5h0M321.8 563.9h0M321.2 562.9h0M318.3 515.9h0M318.8 516.2h0M320.5 511.4h0M319.1 400.2h0M318.8 395.7h0M322 395.8h0M316.2 392.4h0M321 389.6h0M322 388.6h0M316.6 364.5h0M321 369h0M321.7 364.1h0M322.5 510.5h0M324.4 507.5h0M325.6 507h0M322.4 416.6h0M326.9 413.8h0M327.2 414.1h0M324.6 356.4h0M323.3 353.8h0M323.8 351.5h0M325.4 348.6h0M328.1 346.7h0M325.9 347.2h0M323.7 267.4h0M328.1 270.4h0M328.1 269.8h0M329.4 533h0M330.6 532.3h0M331.1 530.2h0M330.3 498h0M331.8 499h0M331.9 493.2h0M328.4 492.8h0M328.9 490.1h0M330.3 487.3h0M331.2 486.6h0M333.5 484.5h0M332.7 484.5h0M330.5 400.3h0M328.4 397.6h0M333.6 395.5h0M335.4 529.2h0M335.2 525.8h0M337.8 525.9h0M334.9 491.4h0M338.4 490.4h0M338 489.5h0M340 471.4h0M338.4 469.6h0M340.2 471h0M340.2 441.8h0M339.2 438.9h0M337.7 440.4h0M336.9 417.3h0M340.2 417.1h0M338.5 416.7h0M335.4 369.3h0M335.6 365.3h0M338.4 366.9h0M342.6 477h0M342.3 474.7h0M346.6 477.5h0M343.2 466.7h0M343.3 462.6h0M343.5 463.4h0M343.2 443.6h0M346.4 441.2h0M344.8 439.1h0M342.2 433.2h0M344.8 434.9h0M344.7 433.8h0M341.7 428h0M341.6 426.1h0M344.2 430.3h0M341.3 419.7h0M345.4 423h0M344.7 419.8h0M341 403.6h0M342.6 401.2h0M345.8 405.2h0M340.6 395.4h0M345.3 397.7h0M344.8 399.7h0M348.5 535.5h0M351.4 533.1h0M352.3 535.6h0M347.1 528.4h0M351.5 529.3h0M349.9 524.4h0M346.8 516.2h0M349.7 513.6h0M350.7 512.2h0M346.9 484h0M348.5 481.6h0M351.2 481.5h0M347.4 426.9h0M351.8 428.9h0M351.8 425.7h0M348.1 418.1h0M351.7 413h0M350.2 413.9h0M349.6 386.7h0M347.2 382.8h0M352.4 383.4h0M349.2 368.6h0M351.3 367.7h0M352.4 365h0M346.6 310h0M352.4 311.8h0M350.6 310.2h0M352.7 490.1h0M353.3 492h0M352.8 487.4h0M354.8 481.4h0M356.4 483.5h0M356.7 483.4h0M355.2 472.7h0M353.7 473.5h0M354.9 468.3h0M354.6 457h0M354.4 457.7h0M356.7 456.4h0M353.3 423.7h0M354.8 425.2h0M353.3 421.4h0M353.7 417.4h0M354.9 414.8h0M358.4 413.3h0M356.4 331h0M357.7 327.8h0M356.7 327.9h0M361.1 463.8h0M358.8 464.8h0M364.1 464.4h0M367.2 359.7h0M370.6 363.3h0M369.2 359.8h0M378.3 490.9h0M377.3 487.8h0M378.6 489.1h0M379.2 416.6h0M379.1 418.3h0M379.9 414.7h0M386.1 498.9h0M385.8 495h0M387.3 495.3h0M402.3 417.6h0M403.8 418.3h0M401.9 415.4h0" stroke="#3d358b" stroke-width="3.0" stroke-linecap="round" fill="none"/><path d="M146.4 474h0M150.7 470h0M149.6 471.2h0M149.4 470.3h0M153.6 493.8h0M154.1 493.8h0M155.4 496.9h0M155.6 494h0M155.6 429.8h0M157.3 427.3h0M156.1 426.9h0M156.4 425.9h0M152.8 392.7h0M156.5 394h0M157.3 388.4h0M157.6 388.9h0M159.5 650.2h0M164 650.5h0M162.7 651h0M163.8 646.9h0M158.4 416.2h0M163.2 417.5h0M162.6 414.2h0M163.4 414.9h0M166.4 539.8h0M164.9 537.4h0M169.1 536.9h0M169.2 536.6h0M166.4 510.6h0M166 506.3h0M168.8 510.2h0M168.4 508.6h0M165.7 475.9h0M169.6 480.4h0M167.4 479.3h0M168.1 474.5h0M164.8 465.4h0M164.9 468h0M166.1 464.3h0M169.7 467.5h0M167.3 434.6h0M168.7 434.5h0M169 435.1h0M169 434.3h0M164.7 417.7h0M166 417.7h0M166.4 413.3h0M170.1 417h0M172.4 620h0M173.2 621h0M173.2 617.6h0M176 619.9h0M171.4 560.9h0M175.7 565.7h0M176.2 561.5h0M175.4 561.2h0M171 559.7h0M170.6 556.3h0M173.6 559.2h0M174 554.7h0M170.9 448.2h0M171.5 449.8h0M176 448.3h0M173.5 446.5h0M176.8 654.1h0M179.9 656.6h0M179.4 658.1h0M179.7 653.9h0M177.3 600.2h0M176.4 598.2h0M180.4 602h0M181 599h0M181 570.1h0M182.1 571.6h0M181 571.7h0M181.7 566.8h0M179.3 555.1h0M181.5 558.2h0M180.9 560.5h0M179.4 559.1h0M176.7 457h0M181.8 461.8h0M179.9 458.5h0M182 456.2h0M177.6 366.9h0M178.5 364.7h0M182.3 368.1h0M182.1 369h0M177.9 348.4h0M178.1 347.3h0M177.3 346.2h0M181.2 347.2h0M183.4 609.8h0M188.2 615h0M186.9 612.1h0M187.5 612h0M183.1 426.2h0M185.9 429.9h0M188.1 426.5h0M188.3 425.7h0M184.7 421.4h0M186.2 424.3h0M188.1 421.7h0M187.7 421.8h0M183.9 364.3h0M187.2 366.8h0M187.6 366.9h0M186.9 365.6h0M189.7 662.9h0M189 661.7h0M193.2 663.5h0M191.7 662.6h0M189.7 653.5h0M189.8 653.9h0M194.3 658.4h0M192 657h0M188.6 618.8h0M192.4 622h0M191.9 621.2h0M192.2 618.3h0M188.7 595.1h0M190.2 595.3h0M193.5 591.6h0M191.5 591.8h0M190.7 570.8h0M193.9 572.8h0M193 569.4h0M194.2 569h0M189.1 399.8h0M188.8 397h0M188.8 396.9h0M191.9 400.5h0M196 589.6h0M197.3 590.4h0M195.1 586.7h0M197.4 588h0M197.3 391.5h0M197.4 389.9h0M197.4 391.4h0M197.8 388.9h0M196.8 345.6h0M198.5 349.2h0M199.5 351.2h0M200.5 345.9h0M195.2 314.8h0M196.8 315.6h0M197.7 317.6h0M199.8 317h0M203.2 590.5h0M202 587h0M206.5 588h0M203.7 585.4h0M203 374h0M203.4 370.2h0M205.6 375.9h0M205.9 372.1h0M201.7 317.6h0M202.4 319.1h0M203.8 320.1h0M206.5 317.4h0M209.2 384.9h0M212.7 386h0M210.9 387.6h0M210.8 386.5h0M207.3 366.3h0M210.5 367.5h0M211.6 367.3h0M212.7 365.3h0M209.3 355.5h0M208 353h0M212 355.3h0M212.4 351.6h0M209 317.2h0M210.4 319.4h0M210 316.7h0M212.7 317.3h0M209.1 311.3h0M211.6 313.3h0M210 309.1h0M210.8 310.8h0M209.3 306.9h0M209.8 306.7h0M210.9 307.4h0M211.5 303.9h0M213.9 343.3h0M216.7 343.4h0M217.3 341.9h0M218.1 341.3h0M213.7 299.6h0M212.9 298.9h0M216.1 297.7h0M217.6 296.8h0M219.1 363.6h0M221.6 358.9h0M222.6 363.3h0M223.1 362.9h0M226.5 338.9h0M226.8 337h0M226.5 334.2h0M226 333.9h0M226.9 325.9h0M227.1 323.6h0M225.8 322.5h0M225.8 321.4h0M225.6 302.8h0M225 304.3h0M228.2 304.3h0M228.1 303.8h0M231.1 287.2h0M231.6 286.7h0M234.8 286.4h0M235 286.2h0M238.7 638.5h0M238.5 639.8h0M239.4 639.4h0M239.6 635.9h0M239.7 332.6h0M243 332.5h0M241.5 330.5h0M240.5 328.3h0M238.1 326.7h0M238 322.1h0M239.5 322.8h0M241.6 326.3h0M240 313.2h0M240 311.8h0M238.8 309.6h0M241.5 312.9h0M243.7 323.3h0M248.7 324h0M247.1 324.8h0M247.6 321.7h0M244.5 305.7h0M246 306.9h0M243.4 302.3h0M247.5 307.1h0M243.5 294.9h0M243.7 294h0M244.7 291.5h0M248.1 295.4h0M244.9 252.5h0M245.6 246.8h0M244 247.9h0M248.9 251.6h0M251 337.7h0M249.4 337.3h0M250.8 333.7h0M250.1 335.8h0M251.5 312h0M251.1 308.5h0M249.9 308.5h0M254.3 314.3h0M256.1 638.9h0M256.6 637.2h0M258.5 638.4h0M260.6 635h0M258.5 343.4h0M260.8 340.8h0M258.8 341.9h0M260.8 340.1h0M263.8 380.2h0M262 378h0M266.2 378.1h0M265 378.2h0M268.3 607.2h0M268.2 606.6h0M270.8 607.3h0M273.5 603.9h0M269 373.2h0M270.1 371.1h0M272.6 375.6h0M271.4 370.2h0M275.7 607.8h0M276.8 607h0M279.5 607.4h0M278.1 604.3h0M274.7 373.5h0M274.4 373.1h0M275.2 370.5h0M277.8 372.2h0M278.8 360.8h0M277.4 363.1h0M278.5 362h0M278.1 357.9h0M282.6 603.6h0M280.3 597.9h0M282 599.2h0M282.9 602.2h0M280.3 335.8h0M280.7 335h0M284.2 335.7h0M285.6 335.8h0M281.5 324.6h0M282.1 321.5h0M283.8 323.5h0M283.8 321.5h0M286.4 602.5h0M288.1 598.9h0M288.5 597.6h0M290.9 598.6h0M286.4 572.6h0M288.7 569.9h0M286.9 567.9h0M291.7 572h0M288 555.1h0M285.9 557h0M290.1 559.2h0M289.7 557.5h0M288.1 521.5h0M287.8 520.7h0M286.8 517.8h0M291.5 518.3h0M286.3 423.9h0M290.5 423h0M291 421.3h0M291.8 420.4h0M288.9 392.6h0M291.1 391.4h0M290.1 391.3h0M289.2 390.2h0M288.6 320.2h0M288.3 318.3h0M291.2 317.8h0M290.2 317h0M293.8 596.1h0M295.6 597.2h0M297.7 596.7h0M296.2 592.9h0M293.3 575.8h0M297.6 573.4h0M295.3 573h0M297.8 575.8h0M294.9 544h0M293.8 544.5h0M292.1 543.9h0M297.1 542.7h0M292.6 534.3h0M294.8 530h0M292 532h0M297.2 535.4h0M295.4 441.1h0M295.3 443.3h0M295.7 441h0M296.3 439.8h0M292 422.8h0M294.8 419.2h0M295.8 424.7h0M295.5 419.9h0M292.4 353.9h0M295.2 354.9h0M296.9 355.5h0M297.9 353.4h0M294 326.3h0M292 322.3h0M294.2 321.3h0M296.1 325.7h0M300.5 398.4h0M301.3 398.2h0M302.5 394.7h0M302.9 395h0M298 364.9h0M299.2 365.7h0M303 365.6h0M303.8 364.6h0M299.4 343h0M298.7 340.7h0M303 345.1h0M301.3 343.5h0M305.7 552.7h0M304.8 551.9h0M304.7 548.5h0M304.9 548.7h0M306.3 529.3h0M305.6 527.7h0M310.1 527h0M309.8 525.5h0M306.5 510.7h0M305.2 507.9h0M308.4 508.9h0M308.1 507.6h0M304.4 504.7h0M305.3 500h0M307.4 503.8h0M308.1 499.4h0M306.1 496.5h0M305.1 495.4h0M309.6 497h0M309.1 493.5h0M306.3 435.1h0M305.2 436h0M305 431.9h0M307.6 435.2h0M304.4 425.2h0M306.8 421.9h0M307.9 424.5h0M308.6 420.8h0M306.9 403h0M307.1 405.6h0M308.5 406.2h0M308 402.4h0M306.6 381.4h0M304.2 378.1h0M308.7 380.3h0M309.4 381.7h0M310.9 535.3h0M312.8 535.8h0M314.4 535.4h0M313.6 534.8h0M312 446.8h0M310.2 444.7h0M315.2 445.4h0M315.6 445.8h0M310.6 376.7h0M315.6 381.7h0M315.5 379.3h0M313.8 377.9h0M310.8 374.6h0M315.3 374.1h0M313.3 370.3h0M315.4 371.6h0M310.4 363.6h0M310.4 357.9h0M311 360.2h0M314.1 359.5h0M312.8 355.2h0M312.3 355.4h0M315.1 356.5h0M313.7 356.1h0M316.4 573h0M318.3 574h0M321.2 578.1h0M319.8 577.1h0M317.4 571.7h0M318.3 570.1h0M318.3 566.9h0M318.2 567.4h0M317.4 532.9h0M318.1 530.8h0M319.1 531.2h0M320.2 531.8h0M319.1 454h0M321 455.2h0M319.4 455.3h0M321.7 451.3h0M317.2 442.3h0M319.7 440.8h0M321.8 440.1h0M319.7 439.7h0M317.9 430.6h0M316.6 430.2h0M317.8 428.5h0M321.7 426.8h0M318.3 418h0M317.5 413.4h0M317 413.7h0M318.8 413.5h0M317.3 406h0M316.5 404.4h0M317.6 401.1h0M319.7 406.6h0M319 378.4h0M317.7 378h0M319.4 380.9h0M321.2 377.1h0M324.4 374.8h0M322.3 374.8h0M324.2 370.5h0M328.3 372.5h0M329.2 547h0M329.6 546.4h0M328.8 547.1h0M328.7 547h0M329.6 510.8h0M328.7 510h0M328.8 511.1h0M329.2 506.1h0M330.3 478.7h0M328.7 477.9h0M331 476.1h0M330.4 476.4h0M331 459.5h0M329.9 459.3h0M331.4 461.8h0M331.8 457.1h0M330.4 415.5h0M333.5 418.2h0M332.5 419h0M333.3 418.8h0M331 412.9h0M329 408.9h0M334.3 410.9h0M334.2 407.6h0M335.3 530h0M338.6 534.7h0M338 534.5h0M339.2 530.4h0M335.6 516.9h0M336.5 514h0M336.5 513.1h0M339.7 513.7h0M335.1 509h0M334.6 505.6h0M339.6 507.1h0M339.6 506.2h0M336.2 477.4h0M337.5 477.9h0M338 479.1h0M338.1 474.5h0M334.6 454.8h0M339.6 452.9h0M339.1 453h0M340 452.6h0M335 445.6h0M334.6 446.3h0M339 449.8h0M340.2 444h0M342.1 508.5h0M345.9 509.5h0M344.1 508.5h0M344.3 506.7h0M343.4 474h0M340.8 471.2h0M345.1 472.3h0M343.9 468.4h0M340.5 454.8h0M342.2 451.7h0M340.8 452.7h0M342.6 451.2h0M349.5 499.2h0M349.3 499.6h0M350.2 501.1h0M350.2 499.1h0M349 453.3h0M347.8 450.6h0M351.4 453.8h0M349.8 449.9h0M349.4 376.1h0M351 379.5h0M350.2 381.5h0M352.4 381.6h0M353 539.1h0M355.6 539.1h0M352.8 538.8h0M355.7 538.1h0M355 529.2h0M354.1 529.6h0M353.1 524.5h0M356.5 528.5h0M355.6 504.5h0M354.5 503.9h0M355.4 501.9h0M353.1 501.3h0M366.5 410.6h0M367.5 412.5h0M365.7 407.3h0M367.2 408.3h0" stroke="#4249b1" stroke-width="3.0" stroke-linecap="round" fill="none"/><path d="M152.5 460h0M156 456.6h0M156.7 458.8h0M156.1 456.1h0M157 457.9h0M158.1 535.2h0M159.7 533h0M163.5 533.9h0M161.1 535.1h0M164 535.7h0M158.2 501.5h0M160.4 500.1h0M163.8 502.4h0M162 502.6h0M162.4 500.5h0M166.4 490.6h0M164.8 490h0M165.3 490.3h0M169.5 492.1h0M167.9 488.7h0M171.7 611.1h0M173.6 615.5h0M175.5 611.3h0M175.9 610.3h0M173.8 611.6h0M172.3 545.9h0M173.1 545.6h0M170.3 545.3h0M174.4 547.9h0M173.9 544.1h0M171.3 527.2h0M172.3 525.8h0M175.6 527.6h0M173.8 528.8h0M173.5 528.4h0M171 523h0M172.1 521.7h0M173 518.9h0M172.5 519.7h0M174.7 518.2h0M171.6 503.1h0M172.1 504.7h0M173.4 503.5h0M175.4 500.9h0M174.7 500h0M170.4 493.2h0M173.9 497.7h0M174.2 497.5h0M175.6 495.6h0M173.6 494.1h0M173.1 486.2h0M170.7 486.3h0M173.4 486.3h0M176 483.7h0M173.7 482.4h0M173 404.6h0M171.5 401.8h0M170.4 401.1h0M175.9 404.6h0M175.9 404.7h0M178.1 585.6h0M180.7 588.8h0M182.2 590h0M181.5 589.6h0M181.9 587.1h0M177 539.1h0M176.5 537.1h0M181.2 540.2h0M181.7 538.5h0M182.3 536.7h0M178.5 399.6h0M181.2 400.3h0M182.2 395.9h0M180.7 397.3h0M181.1 397.5h0M184.5 646.7h0M184.1 642.2h0M185.2 642.3h0M187.9 643.9h0M185.6 641.7h0M185.1 606.8h0M185.1 609.8h0M185.4 608.6h0M185.8 608.3h0M185.8 604.6h0M182.5 587.1h0M184 587.2h0M188.3 588.7h0M187.3 585.7h0M185.7 586.1h0M185.1 574h0M182.7 575h0M185.9 577.6h0M186.7 578.7h0M187.4 578.5h0M185.4 533.7h0M182.5 532h0M184.7 531.8h0M187.8 531.1h0M186.5 530.1h0M189.4 624.8h0M189.7 622.5h0M191.5 622.5h0M188.9 622.2h0M192.3 624.4h0M189.6 581.3h0M192.8 582.7h0M193.9 582.8h0M192.2 579.3h0M192.2 579.7h0M189.2 393.9h0M189.3 392h0M191.9 392.3h0M194.4 393.3h0M193 389.7h0M195 644.7h0M199.5 646h0M197.7 645.3h0M198.2 645.9h0M198.3 644.5h0M194.6 620.4h0M195.1 620.9h0M200.3 619.1h0M200.2 621.9h0M200.4 616.6h0M195.6 576.5h0M196 577.5h0M197.9 578.1h0M199 578.8h0M198.9 575.1h0M197.3 559.9h0M194.9 556.9h0M195.3 557.3h0M199.4 558.9h0M198 559.5h0M195.5 422.9h0M196.3 422.2h0M195.3 424.9h0M195.6 419.5h0M199.9 424.3h0M194.6 405.7h0M194.7 400.8h0M196.6 401.4h0M199.1 404.2h0M198.3 405.9h0M197 399.2h0M195.9 400.3h0M197.5 399.8h0M195.1 396.1h0M195.6 397.4h0M194.8 338h0M197.3 335.7h0M195.3 334.7h0M200.1 333.3h0M197.7 333.9h0M202.5 650.4h0M200.9 651.1h0M201.3 651.6h0M201.9 649.6h0M206.3 651h0M205.2 380.1h0M205.6 381.6h0M206.7 376.2h0M205.3 377.6h0M203.8 376.3h0M202.7 329.7h0M200.7 327.7h0M205.9 330.4h0M206.5 328.1h0M205.7 327.5h0M215.5 656.4h0M216.1 657.4h0M218.2 656.3h0M217.1 653.8h0M216.4 655.8h0M214 630.9h0M213.3 630.9h0M214.9 630.2h0M218.5 633.9h0M216.6 629.2h0M215.6 325.3h0M215.7 324.1h0M212.9 322.3h0M217.4 326.3h0M216.5 321.4h0M213.2 314.4h0M214.1 314.2h0M214.9 308.5h0M212.9 310.5h0M217.9 310h0M221.6 650.1h0M220.5 651.9h0M220.3 647.7h0M220.6 649.7h0M224.3 647.6h0M221.1 386.5h0M221 385.2h0M224.9 386.6h0M224.7 385.4h0M223.9 387.4h0M221.2 333.2h0M219 334.9h0M220 334.5h0M220.2 333.5h0M224.6 338.4h0M219 331.5h0M219.3 332.5h0M224 330.5h0M224.2 331.5h0M224.6 327.7h0M223 326.1h0M223.7 326.1h0M224.8 325.6h0M224.3 326.5h0M224.6 320.8h0M219.9 318.9h0M219.4 315.8h0M223.2 318.7h0M223.4 319.8h0M222.3 316.1h0M220.8 306.8h0M219.3 306h0M224.8 306.3h0M224.8 305.9h0M223.1 306.4h0M225.8 379.1h0M226.4 380.1h0M226.6 380.5h0M226.3 377h0M229.1 380.7h0M228 366.8h0M229.6 367.5h0M229.4 368.9h0M228.3 367h0M228.1 364.7h0M225.1 293.6h0M226.8 293.8h0M227.2 295.4h0M225.8 291.3h0M230.8 290.7h0M232.5 656.1h0M232 653.2h0M235 657h0M237 657.4h0M234.6 654.9h0M237.4 643.7h0M239.9 642.8h0M237.6 642.7h0M241.1 646.4h0M241.1 641.5h0M240.4 356.8h0M241.8 354.6h0M243.1 356.5h0M240.8 353.9h0M241 351.7h0M238.3 335.1h0M239 333.6h0M241 338.2h0M242.7 337.3h0M241.5 335.4h0M237.6 306.2h0M240.1 305.8h0M238.3 302.8h0M241.8 302.7h0M240.2 302.6h0M244.3 349.5h0M244.7 346.5h0M243.5 346.7h0M246.2 346.3h0M249.1 346.8h0M245.9 330.5h0M246.2 332.1h0M244.3 331.1h0M247.8 330.7h0M248.8 329.9h0M246 318.6h0M245 316h0M243.5 315.3h0M244.8 315.8h0M249.1 319.4h0M249.5 645.9h0M249.4 644.8h0M254.7 643.8h0M255.2 641.5h0M254.1 641.5h0M252 361h0M250.4 363.1h0M254.6 363.3h0M252.5 358.8h0M253.3 359.6h0M255.6 326.8h0M261.2 329.9h0M259.3 332.6h0M261.3 329.6h0M258.8 327.5h0M264.5 613.4h0M262.1 614h0M264 611.7h0M263.9 610.8h0M267.1 611.5h0M262.3 601.1h0M263.1 602.6h0M262.8 598.7h0M264.7 601.8h0M267.5 601.8h0M270.3 422.7h0M268.2 425h0M269 421.3h0M271.2 423.2h0M272.7 423.7h0M269.7 357.2h0M268.9 356.1h0M268.3 357.5h0M270.1 353.1h0M272.8 353.7h0M269.5 349h0M268.7 348.2h0M269.3 345.4h0M271.2 349.3h0M273.1 349.7h0M276.3 343.9h0M273.9 344.6h0M275.6 339.4h0M278.1 342.4h0M276.9 339.2h0M280.8 590h0M281.5 587.1h0M283.2 590h0M283.4 587.4h0M283.2 586.3h0M280.6 577.2h0M281.4 577.5h0M282.1 574.7h0M284.9 577.2h0M282.9 577.3h0M281.3 559.6h0M283.5 560.5h0M284.7 558.4h0M282.8 560.4h0M282.8 556.8h0M281.4 450.7h0M280.7 451.3h0M281 450.7h0M285.3 453.1h0M283.5 455.2h0M282.6 399.3h0M280.4 397.6h0M284.7 399.8h0M284.5 395.5h0M285.7 395.8h0M287.7 590.3h0M286.5 587h0M290.5 590.3h0M290.8 591.3h0M291.8 589.8h0M287.4 442.6h0M287.7 439.8h0M290.6 442.3h0M291.6 443.1h0M290.1 438.8h0M288.2 387.8h0M288.5 384h0M287.2 385h0M288.7 382.7h0M290.9 382.2h0M285.8 361.5h0M286.7 361.1h0M287.6 363.3h0M286.9 359h0M290.1 360.9h0M292.7 523.8h0M292.9 524.5h0M294.9 526.3h0M297.9 529.4h0M295 529.5h0M292.2 495.4h0M294.8 495.5h0M297.3 498.1h0M297.6 496.7h0M296.5 494.5h0M298.8 508.5h0M299 506.7h0M301.3 510.2h0M302 505.3h0M301.6 507.7h0M300.7 494.7h0M302.5 496.2h0M303.2 497.4h0M301.9 494.1h0M303.3 493.4h0M300.1 430.8h0M299.7 426h0M298.7 427.6h0M303.5 425.2h0M303.8 425.7h0M299.9 401.7h0M298.2 403h0M301.3 403.9h0M303.6 406.3h0M303.5 402.6h0M306.3 515.8h0M304.8 511.7h0M306.6 514.4h0M307.8 515.8h0M308.4 514.3h0M305.6 492.7h0M304.5 489.8h0M307.9 491.1h0M309.9 490.9h0M307.2 488.5h0M306.7 429.7h0M307.1 428h0M306 425.6h0M308 431.1h0M307.5 427.6h0M305.7 332.2h0M305.8 330.4h0M306.3 327.1h0M307 329.6h0M308.3 331.3h0M310.2 516.9h0M312.8 515.4h0M311.7 515.4h0M313.8 517.3h0M315.3 515.7h0M313.1 485.3h0M310.5 486.6h0M310.1 485.4h0M310.6 481.3h0M314 485.7h0M310.7 472.6h0M310.5 474.4h0M310.6 470.2h0M313.2 473.5h0M316.1 470.7h0M312.9 409.1h0M312.7 407.1h0M314.7 411.2h0M314.6 411.7h0M313.6 407.3h0M312.9 398.4h0M315.4 399.9h0M313.6 399.9h0M313.5 397h0M314.1 397.2h0M312.5 389.6h0M312.1 389.2h0M314.5 392.8h0M313.8 391.4h0M314.2 390.7h0M317.6 539.1h0M316.3 539.4h0M320.2 541.5h0M321.8 540.9h0M321 536.6h0M317.1 500.6h0M319.8 504.8h0M320.5 502.9h0M321 499.1h0M319.8 500.7h0M317.6 478.8h0M317.2 477.7h0M317.8 478h0M319.2 477.3h0M322.2 477h0M317.1 444.2h0M319.7 444.2h0M321.9 445.9h0M320.6 443.8h0M320.3 445.5h0M323.8 542h0M323.1 536.1h0M328.3 541.1h0M325.4 539.5h0M327 536.8h0M325.3 503.9h0M322.7 500.6h0M325.6 502.1h0M326.1 502h0M326.8 500.5h0M322.6 496.6h0M324.5 498.3h0M324.9 496h0M325.2 497.4h0M327.9 494.9h0M324.5 485.2h0M324.6 482.8h0M326.4 485.5h0M326.1 485.5h0M328 482.1h0M327.6 472h0M326.2 472.7h0M326.3 471.7h0M326 470.4h0M326.4 468.7h0M323.3 451.9h0M328 455.5h0M325.7 454.1h0M327.6 453.9h0M325.5 452.7h0M325.3 409.1h0M327.7 412h0M327.5 410.9h0M327.6 412.9h0M328 408.6h0M323.9 392.8h0M324.2 392.9h0M327.5 394h0M327.3 392.5h0M326.1 389h0M329 436.1h0M330 431.4h0M331.7 435.6h0M334.1 435.7h0M333.3 435.9h0M329 429.9h0M331.1 430.3h0M329.2 425.9h0M330.5 427.9h0M334 427.8h0M330.6 360.9h0M330.5 360.3h0M332.7 362.3h0M332.6 361.2h0M333.9 361.6h0M336.9 466h0M336.5 462.6h0M336.5 463.4h0M337.6 465.8h0M338 464.7h0M341.4 517.3h0M343.4 515.4h0M341.9 512.5h0M346.5 514.7h0M345.4 514.1h0M340.6 457.3h0M343 456.3h0M340.9 456.7h0M343.7 460h0M344.3 456.2h0M342.2 330.4h0M341.9 331.3h0M346.3 329.1h0M344.9 329.6h0M345.9 328.6h0M367.5 373.8h0M366.2 373h0M370.9 375.4h0M369.3 375.2h0M370.7 371.3h0" stroke="#4559cb" stroke-width="3.0" stroke-linecap="round" fill="none"/><path d="M159.9 526.8h0M160.1 526.4h0M161.3 529.2h0M161.3 527.5h0M163.8 528.4h0M162.4 525.5h0M158.3 479.9h0M158.1 475.7h0M158.9 477.1h0M159 475.3h0M163 478.8h0M163.2 475.5h0M164.7 410h0M169.7 411.2h0M168.3 411.6h0M170 411.9h0M167.5 407.2h0M167.4 406.9h0M173 607.2h0M176.1 608.6h0M173.7 609.6h0M175.4 608.2h0M174.9 609.1h0M174.7 606.4h0M172.9 591.2h0M171.8 589.2h0M172.7 588.4h0M172.6 585.5h0M175.9 585.6h0M173.6 585.3h0M171.1 471.8h0M170.6 473.7h0M171.2 470.9h0M170.4 469.3h0M176 471.4h0M174.4 473.7h0M177.3 593.5h0M178.9 591.7h0M180.5 597.2h0M180.7 596.3h0M179.8 591.5h0M180.9 591.5h0M177.4 565.2h0M176.7 566h0M182.3 563.7h0M180.4 564.7h0M181.9 564.2h0M181 561.1h0M177.7 514.5h0M180.1 516.7h0M181.9 515.3h0M179.5 515h0M181.3 516.7h0M179.6 514.4h0M177.8 384h0M182.2 385.4h0M182.3 383h0M180.5 383.9h0M180 383.1h0M181.4 382.3h0M183.4 621.2h0M187.5 619.5h0M187.9 621.2h0M185.5 618h0M187.6 617.9h0M187.2 616.2h0M183.6 597.5h0M184.3 592.3h0M185.5 597.4h0M187.4 593.8h0M185.4 592h0M186.3 592h0M182.9 585h0M183.5 583.3h0M184.3 582.2h0M185.7 583.1h0M188.1 580.9h0M186.2 579.4h0M184.2 564.5h0M185.6 564.2h0M187.1 565h0M187 564.8h0M188.4 562.2h0M186.3 563.1h0M182.6 404.5h0M185.3 403.4h0M183.3 402.1h0M188.3 405.6h0M186.2 405.1h0M188 400.7h0M189.3 646.2h0M189 646.6h0M191.1 640.9h0M193.1 646.6h0M194 644.4h0M192.2 645.7h0M188.7 631.3h0M191.8 634.1h0M191.9 633.7h0M193.4 632.9h0M193.5 628.6h0M194 630.9h0M189.4 610.1h0M188.9 611.9h0M192.4 615.3h0M192.2 613h0M191.7 612.8h0M194.2 610.5h0M189.3 608.2h0M191 609.5h0M189.2 605h0M188.9 606.6h0M189.9 605.9h0M193.1 608.4h0M188.9 601.5h0M191.1 599.6h0M189.5 600.4h0M189.4 599.2h0M193.1 603.3h0M193.8 597.7h0M190.3 368.2h0M190.5 364.5h0M190.2 364.3h0M189.3 364.5h0M193.2 367.3h0M194.5 365.2h0M196.7 651.1h0M196 652h0M197.5 648.3h0M198.9 651.3h0M198.1 649h0M198.5 648.6h0M194.7 626.5h0M194.9 625.7h0M195 625.9h0M194.8 623.2h0M199.7 628.1h0M199.4 622.4h0M197.6 552.3h0M196.8 554h0M195.6 552.4h0M199.9 553.9h0M198.9 554.3h0M198.8 550.5h0M194.6 373.9h0M199 375.5h0M197.9 372.3h0M200 370.5h0M199.7 372.7h0M198.3 372.9h0M201.3 658h0M200.7 656.5h0M200.8 654.5h0M202.6 654.9h0M202.6 655.6h0M205.1 654.4h0M200.8 645h0M201.1 643.9h0M200.6 642.4h0M202.2 642.6h0M201.9 641.7h0M204.3 646.5h0M202 634.2h0M201.6 634h0M206.3 633.7h0M204.9 632.4h0M204.4 633.1h0M206.6 630.5h0M202.8 577.8h0M200.8 575.3h0M205.9 577.1h0M205.3 573.9h0M205 574.3h0M203.9 574.1h0M203 496.7h0M203.3 493.9h0M203.1 493.3h0M205.6 497h0M203.9 497.4h0M206 492.9h0M200.7 419.8h0M203.7 420h0M201.1 421.4h0M203.8 422.4h0M204.9 419.3h0M203.8 421.7h0M202.6 406.7h0M201 404.9h0M203.1 402.4h0M202.9 400.8h0M206.1 406.5h0M204.1 402h0M201.8 395.2h0M202.6 395.7h0M201.9 397.3h0M203 397.3h0M205 398.2h0M205 397h0M203.7 387.8h0M201 386h0M201.2 383.9h0M203.5 383.6h0M206.5 386.9h0M206.1 384.9h0M203.5 312.2h0M202.2 312.7h0M202.3 312.8h0M202.5 312.8h0M202.6 309.3h0M204.2 309.7h0M208.9 655.8h0M212.2 656.6h0M212.1 654.7h0M209.8 653.3h0M210 655.8h0M211 653.6h0M208.8 651.8h0M207.5 651.1h0M208.4 650.9h0M208.1 648h0M209 647h0M211.7 647.9h0M208.1 349.8h0M208.1 349.4h0M208.3 346.5h0M207.8 346.6h0M208.4 347.8h0M210.6 345.6h0M213.1 662.6h0M214.6 664.1h0M217 663.9h0M217.7 664h0M217.6 664.8h0M217 660.7h0M213.6 644.5h0M215.6 644.2h0M215.7 645h0M213.1 643.1h0M213.2 642.1h0M214.9 641h0M213.2 387.2h0M214.8 385.5h0M214.7 382.9h0M214.3 382.8h0M218.2 385.7h0M216.2 384.8h0M220.9 355.8h0M221.7 356.6h0M221.2 355.2h0M222.7 357.5h0M223.1 357h0M223 352.4h0M219 342.9h0M220.2 342.9h0M221 339.4h0M224.6 343.2h0M222 339.3h0M224 339.3h0M225.3 655.3h0M225.6 655.3h0M228.5 657.2h0M229 653.3h0M229.1 654.2h0M230.1 653.1h0M231.3 643.9h0M233.7 643h0M231.3 643.3h0M234.1 643.6h0M235.7 646.7h0M236.7 642.1h0M232.9 380.5h0M233.7 381.4h0M232.5 376.1h0M232.4 376.2h0M234.4 381.5h0M235.7 381.3h0M234.3 357.5h0M236.1 357.3h0M236.6 356h0M235.5 351.7h0M235.4 351.9h0M235.3 351.8h0M234 326.4h0M231.5 324.3h0M233.9 326.4h0M231.8 323.7h0M232.9 323.4h0M234.8 326.4h0M243.4 300.2h0M247.7 302h0M247.7 299.7h0M246.8 297.9h0M247.3 297.8h0M246.6 298.7h0M250.6 373.3h0M253.3 374.8h0M254.4 375.7h0M253 372.7h0M255.3 372.7h0M253.6 370.6h0M249.6 331h0M251.8 332.9h0M251 327.1h0M254.5 332.9h0M252.7 330.3h0M254.7 328.2h0M256.6 626.8h0M257.8 627.2h0M255.8 626.5h0M257.4 624.6h0M256.8 622.7h0M258.9 627.9h0M257.6 608.4h0M258.3 604h0M256.6 606.1h0M258.6 608.1h0M259 609.5h0M259.2 606.3h0M258.1 557.7h0M257.8 555.7h0M255.9 556.7h0M258.1 555h0M256.5 554.8h0M260.2 557.1h0M255.9 386.9h0M256.1 387.1h0M257.1 382.9h0M259.7 387.7h0M258.7 382.9h0M260.1 383h0M255.9 313h0M257.9 310.7h0M255.4 311.2h0M260.7 312.5h0M258.9 310.9h0M260.6 308.7h0M262.4 374.3h0M264 372.9h0M263.2 371.5h0M266.5 372.8h0M266.2 370.5h0M264.6 371.7h0M262.8 352.2h0M263.8 352.4h0M261.9 351.4h0M265.3 352.6h0M265.5 353.3h0M267.4 353.2h0M268.5 515.2h0M270.6 516.1h0M268.3 515.2h0M270.9 512.5h0M273.3 513.2h0M273.2 514.3h0M268.5 344.3h0M269.9 345.1h0M268.5 340h0M272.9 343h0M272.1 344.1h0M270.8 343.2h0M269.4 307.8h0M269.9 304.8h0M268.7 302.3h0M272.4 307.5h0M272.3 306.7h0M271.2 305.2h0M274.5 549.6h0M275.2 549.1h0M273.8 548.5h0M273.7 549.5h0M278.5 550.2h0M279.6 549.1h0M275.3 378h0M278.1 379.9h0M279.5 379.5h0M276.9 377.7h0M277 376.6h0M278.5 377.8h0M275.5 356.4h0M276.4 354.3h0M277.7 352.1h0M277.9 353.3h0M277.9 354.4h0M279.3 353.1h0M281.9 393.5h0M280.4 391h0M280.1 390.5h0M281 390.8h0M282.5 388.4h0M283.4 389.6h0M286.3 566.2h0M288.6 560.9h0M291.1 564.4h0M289.9 565h0M291.1 566.2h0M289 560.8h0M287 431.1h0M286.8 429.8h0M288 428.5h0M287.8 429.9h0M288.5 426.8h0M286.2 425.6h0M286.2 403.1h0M287.3 403.4h0M287.4 403.5h0M290.3 403.6h0M289.6 401.1h0M291.3 403.4h0M286.6 356.2h0M287.1 352.3h0M287.9 351.4h0M290.5 355.8h0M288.9 355.2h0M291.6 357.1h0M293.8 590.7h0M294.6 590h0M297.7 590.9h0M295.6 589.1h0M297.9 588h0M297.6 586.8h0M294.7 583.7h0M293.9 584.3h0M294.3 583h0M292.1 583.3h0M296.1 584.2h0M297.3 583.9h0M292.8 571.3h0M291.9 571.1h0M292.8 569.1h0M293 567.4h0M294.1 568.9h0M295 569.7h0M294.7 561h0M295.1 566.5h0M296.8 565.8h0M295.9 561.1h0M296.6 562.6h0M296.3 561.3h0M293.1 369.6h0M294.5 369.4h0M292.8 364.7h0M297.9 368.8h0M295.4 365.4h0M295.5 366.7h0M299.4 596.3h0M300 596.5h0M299.6 592.3h0M302.2 594.9h0M303.4 592.3h0M302.3 592.5h0M299 530.4h0M303.7 534.4h0M302 531.1h0M302.2 532.4h0M303.3 530.5h0M301.1 531.8h0M300.6 490.1h0M300.9 490h0M299.8 491.6h0M302.2 487.9h0M302.9 489.7h0M303.9 487.5h0M299 423.7h0M299.5 423.3h0M300.9 419.8h0M299.2 421.7h0M303 421.9h0M301 422.1h0M299.6 351.2h0M302.9 348.5h0M301.4 350.8h0M303.8 349h0M302.6 349.3h0M301.1 347.2h0M304.4 571.3h0M306.1 572.9h0M306.8 570.9h0M304.6 568.4h0M307.2 571.4h0M307.5 568.5h0M311.1 508h0M311.5 508.2h0M312.1 507h0M311 507.3h0M313 506.7h0M314.6 506.3h0M312.8 490.7h0M311 491.4h0M311.1 492.5h0M315.4 488.5h0M314.5 489.6h0M313.9 488.1h0M311.7 402.4h0M310.2 402.5h0M313.5 404.6h0M315.9 402.4h0M313.5 401.9h0M315.8 402.1h0M316.4 485.7h0M317.6 481.1h0M316.9 481.9h0M320.7 484.3h0M321.4 485.6h0M320 483.1h0M318.4 473.3h0M318 474.1h0M320.9 472.1h0M321.1 471.2h0M321 468.9h0M319.4 470.2h0M317.8 425h0M318.2 423.3h0M317.1 423.5h0M319.3 422.7h0M322.1 425.1h0M319.8 421.3h0M323.4 546.9h0M324 545.7h0M328.3 547.5h0M327.1 547.6h0M327.6 543.8h0M326.3 543.8h0M324.6 479.4h0M322.7 474.8h0M322.9 474.5h0M326.2 477.6h0M326.1 479.7h0M327.8 475.8h0M323.7 459.3h0M323.7 457.7h0M323.9 457.5h0M324.4 458.3h0M327.8 457h0M325.6 456.9h0M324.6 449h0M322.5 446.1h0M325.6 448.4h0M325.4 449.6h0M326.1 448.4h0M325.7 445.5h0M323.4 400.4h0M324.9 400.5h0M324.9 399.4h0M323.2 397.4h0M324.6 396.7h0M326.6 395.6h0M341.6 504.4h0M340.8 501.6h0M344.6 503.6h0M345.2 502.9h0M345.1 501.9h0M344.7 501.6h0M341 498.2h0M341.3 494.4h0M345.9 497.4h0M345.5 498.3h0M344.2 493h0M346.2 495.9h0M342 417.7h0M342.3 414.9h0M341 415.9h0M342.1 413h0M343.9 418.8h0M346.1 417.4h0M347.8 461h0M349.6 459.7h0M350.9 460.2h0M352.2 461.2h0M350.1 459.5h0M352.5 458.5h0" stroke="#466be3" stroke-width="3.0" stroke-linecap="round" fill="none"/><path d="M160.9 506.6h0M160.5 507.7h0M160.7 507.1h0M160.9 507.3h0M159.3 506.7h0M162.6 508.7h0M163.8 509.1h0M170.9 466.3h0M171.7 466h0M170.9 462.2h0M172.4 462.9h0M173 463.7h0M174.8 466.5h0M173.7 464.2h0M172.4 453.9h0M170.7 453.3h0M172.8 450.4h0M175.9 455.6h0M174.8 454.9h0M175.1 453h0M175.5 450.5h0M176.3 474.8h0M177.9 475.4h0M177.6 476.9h0M181.5 480.3h0M182 479.7h0M181.3 479.3h0M181.5 478.8h0M178.9 449.6h0M180.7 449.5h0M181 443.8h0M182.1 445.9h0M180.7 445.7h0M179.8 444h0M180.4 446.3h0M178.8 430.9h0M178.2 427.4h0M181.4 431.4h0M181 428.8h0M180.1 430.2h0M180.5 429.8h0M182 429h0M176.6 417.7h0M179 417.2h0M180.6 419h0M179.4 416.5h0M182.2 414.6h0M180.2 415.3h0M181.6 414.5h0M183.8 650.7h0M183.4 649.9h0M182.4 647.3h0M184.6 647.6h0M185.4 651.3h0M186.3 648.7h0M185.5 649.1h0M183.7 461.8h0M182.6 462.1h0M184.6 461.1h0M187.1 456.2h0M188.3 458.3h0M187.6 459h0M188.1 458.8h0M183.9 375.6h0M183.8 374.6h0M184.5 374.9h0M187.9 373.9h0M188.4 373.2h0M188.2 371.5h0M186.3 372.1h0M189.6 576.6h0M190.6 575.7h0M193.8 577.6h0M193.4 573.4h0M193.1 574.4h0M191.8 574h0M193.1 573.1h0M190.1 565.2h0M190.4 566.4h0M191.3 561.2h0M190.9 561.8h0M194.5 566.7h0M194.5 564.5h0M194.1 563.5h0M190.8 545.4h0M189 543.5h0M190.1 545.1h0M191.4 543.1h0M192.6 548.1h0M193.7 547.5h0M191.9 544.4h0M191.4 541h0M188.6 536.2h0M192.7 541.6h0M192 541.6h0M194 541.4h0M194.4 540.8h0M193.3 537.5h0M188.9 410.6h0M190.2 410.5h0M190.2 410.4h0M190.6 409.2h0M194.4 412.2h0M193.9 408.1h0M192.3 407.6h0M191.5 405.3h0M190.8 406.3h0M191.4 400.8h0M190.7 403.3h0M194.5 402.8h0M192.7 401.2h0M193.9 401.1h0M196.4 632.8h0M196.1 633.5h0M195.7 633.6h0M196.5 629.3h0M195.7 630.7h0M197.1 631.2h0M198.3 629.9h0M195 565.4h0M195 565h0M196 562.5h0M198.5 565.2h0M200.5 565h0M199.8 564.3h0M199.6 566.7h0M196.9 546.3h0M195.1 543h0M196.6 543.5h0M200 545.7h0M200.6 542.3h0M198.7 542.3h0M198.9 544.3h0M196.5 410.8h0M196.7 410.9h0M199.2 412.2h0M198.4 410h0M198.9 408.3h0M198.4 408.4h0M199.2 407.7h0M194.9 387.4h0M196.2 387h0M195.1 385.7h0M200.1 387.8h0M199.8 386.5h0M199.3 388.1h0M200.4 384.9h0M196.9 379.7h0M196.9 381.8h0M199.2 380.7h0M199.7 376.1h0M199.6 377.3h0M199 378.5h0M199.3 377.3h0M202.7 628.2h0M201.6 625.8h0M201.4 626.4h0M202.3 622.2h0M201.9 622.9h0M200.8 625h0M204.1 627.7h0M202.5 621.6h0M205.3 619.5h0M204.1 620.6h0M206.4 619.8h0M204.6 616.8h0M205.5 616.5h0M205.8 618.6h0M203.4 430h0M201.8 429.2h0M201.2 426.6h0M204.9 429.5h0M205.5 428.7h0M205.4 430.3h0M206.1 428.1h0M208.3 344.7h0M208.4 342.6h0M208.5 342.6h0M206.9 343.7h0M212.8 343.7h0M210.4 339.3h0M211.6 341.1h0M209.1 331.3h0M209.4 331.1h0M208.7 327.3h0M209.3 327.9h0M211.3 332.5h0M211.6 330.6h0M211.1 329.4h0M213.8 380h0M213.4 381.6h0M213.4 380.5h0M215 381.7h0M215 376.2h0M216.9 381.2h0M217.1 379h0M215.2 349.4h0M213.7 350.7h0M212.8 349h0M214.8 347.3h0M214.8 347.2h0M216 348.6h0M216 345.6h0M214.4 336.2h0M215 335.8h0M215.6 335.8h0M215.1 335.7h0M218.1 338h0M218.6 333.5h0M216.6 333.1h0M220.2 663.4h0M221.6 661h0M220.2 661.7h0M224.3 662.6h0M223.9 661.1h0M222.6 660.6h0M224 659.9h0M221.2 644.8h0M220.6 643.1h0M221.8 641.9h0M220.4 640.9h0M222.6 641.9h0M223.9 643.1h0M223.5 641.8h0M227.7 596h0M225.7 593.6h0M231 591.9h0M229.9 594.4h0M230.9 593.5h0M230.2 591.4h0M229.3 592.6h0M227.3 375.7h0M226.9 373.8h0M227.1 373.8h0M230.8 371.5h0M230.5 370.3h0M229.6 372.2h0M228.5 370.1h0M233.8 613.9h0M233.7 615.2h0M231.2 610.3h0M231.1 610.8h0M235.4 615.9h0M235.6 614.6h0M236.4 610.3h0M232.1 553.6h0M233.1 553.7h0M237 551.9h0M234.9 551.8h0M234.2 552.2h0M234.9 550.6h0M236.4 548.9h0M232.4 361.8h0M232.3 362.6h0M232.8 361.7h0M232.4 357.8h0M232.6 358.3h0M235.8 358.2h0M234.6 359h0M233.2 336.9h0M233.5 336h0M233.1 334.6h0M234 334.9h0M234.3 333.2h0M235.2 334.6h0M235.7 335.3h0M238.3 630.2h0M239.1 630.7h0M238.6 630h0M240.2 631.5h0M242.7 632.5h0M240.8 629.7h0M240.4 630h0M244.6 646h0M243.5 645.6h0M244.2 642h0M246.9 645.4h0M246.8 641.8h0M247.3 642.6h0M248.4 641.9h0M249.4 626.2h0M252 627.6h0M250.7 623h0M250.2 624.5h0M252 622.6h0M252.2 623.1h0M253 625.3h0M256 619.5h0M256.4 619.8h0M258.2 617.7h0M256 616.9h0M256.6 618.2h0M260 621.2h0M261.4 619.5h0M257.6 576.2h0M257.3 577.9h0M255.6 576.6h0M256.1 577.9h0M258 579h0M260.7 578.2h0M258.9 575.5h0M257.8 410.4h0M258.4 410.2h0M257.3 412.4h0M256 411.7h0M256.1 409.5h0M260 408.8h0M260 408.1h0M256 362.5h0M256.2 359h0M257.2 360.5h0M255.5 359.1h0M261.4 361.3h0M260.2 358.4h0M260.6 359.8h0M258.3 356.8h0M255.4 357.1h0M258 354.2h0M255.9 354.3h0M261.2 352.6h0M258.8 351.6h0M259.4 354.1h0M256.8 316.1h0M257.7 315.2h0M257.7 315.5h0M255.5 314.7h0M260.9 318.5h0M260.7 316.8h0M259.6 317.1h0M263.6 424h0M261.8 424h0M261.5 423.3h0M262.9 425h0M262.9 423.4h0M264.1 419.4h0M266.3 425h0M262.8 347.7h0M265.6 350.4h0M265.5 350.8h0M264.9 349.6h0M266 347h0M266.7 346.2h0M264.6 345.8h0M262.2 338.1h0M266.8 336.7h0M265.7 337.8h0M267.4 339.1h0M267.4 337.5h0M267 335.9h0M265.5 334.2h0M270.2 591.5h0M269.9 594h0M269.4 592.1h0M268 593.2h0M271.4 594.5h0M271.8 593.5h0M271.7 594h0M270.4 576.7h0M269.1 575.7h0M272.5 579h0M272.3 575h0M272.3 575.7h0M273.4 573.2h0M272.4 574.9h0M269.6 559.6h0M268 557.1h0M267.6 556.8h0M269.8 556.8h0M272.3 557.8h0M271.3 557.4h0M270.6 555h0M268.2 415.1h0M268.3 413.6h0M268.2 415h0M268.3 413.9h0M268.8 414.5h0M271.7 417.3h0M272.6 417.5h0M268.6 384.8h0M268.7 384.4h0M271.3 387.6h0M270.6 386.5h0M272.6 387.7h0M273.5 383.3h0M272.4 382.5h0M269.9 325.9h0M268.7 324.5h0M271.9 324.1h0M272.9 324.7h0M271.7 323.4h0M271.2 321.7h0M270.6 321.5h0M276.4 594.5h0M276.5 596.3h0M273.8 594.3h0M275.8 593.3h0M274.9 592.1h0M278.7 595.8h0M279.5 595.6h0M276.3 537.1h0M275.6 537.6h0M277.5 541.7h0M278.7 541.7h0M277.8 539h0M278.3 536.8h0M279.4 537.7h0M274.2 529h0M275.1 524.8h0M274.7 525.7h0M277.5 527.3h0M276.8 529.4h0M276.7 525.3h0M278.6 524.7h0M275.8 387.1h0M273.6 386h0M273.7 385.8h0M274.5 384.9h0M278.8 387.9h0M277.2 385.4h0M279.3 385.9h0M275.1 367.3h0M276.5 363.8h0M274.2 363.7h0M279 368.5h0M277.4 365h0M277.9 365.4h0M278.1 364.9h0M284.1 597.4h0M284 596.8h0M282.8 595h0M285.1 596.7h0M285.7 595.1h0M285.1 592.5h0M283.6 591.6h0M280.1 566.4h0M281 564.3h0M280.5 566.5h0M281.2 562.5h0M284.9 566h0M285.1 564.2h0M282.9 565h0M280.3 522.1h0M280 517.5h0M280.5 517.8h0M284.6 521.5h0M284.6 519.7h0M283.1 519.5h0M282.8 517.5h0M280 424.4h0M284.1 422.2h0M285.1 421h0M285.6 419.1h0M284.3 419.9h0M284.6 421.4h0M282.9 421.8h0M279.7 381.4h0M279.8 381.7h0M279.8 376.1h0M281.6 378.9h0M281.6 378.7h0M282 376.8h0M285.2 378.3h0M281.1 367h0M281.8 365.6h0M280.5 363.9h0M281.6 364.9h0M281.5 363.7h0M279.7 364.7h0M285.2 365h0M287.8 547.3h0M286.9 547.9h0M286.9 546.7h0M288.4 544.3h0M287.1 543.9h0M290.5 547.1h0M291 546.6h0M288.5 502.9h0M288 501.6h0M287.4 502h0M290.5 503.7h0M290.2 502.3h0M290.4 504.1h0M289.6 503.4h0M286.4 380.5h0M286.3 381.9h0M286.2 380.6h0M287 377.4h0M286.9 377.4h0M291.8 379.4h0M291.4 377.9h0M287.5 373.9h0M286.4 373.4h0M285.9 373.9h0M286.8 375.8h0M287.6 371.7h0M291.6 373.9h0M291.1 371.8h0M287.2 369h0M288.2 364.8h0M288.7 365.9h0M288.9 367.1h0M288.9 369.6h0M288.8 364.8h0M291 364h0M286.2 336.3h0M288.7 335.4h0M288.3 335.4h0M286 333h0M287.3 335h0M289.9 336h0M290.3 333.6h0M294.8 447.8h0M293 448.8h0M293.6 447.3h0M293.6 448.1h0M297.2 449.4h0M297.6 449.5h0M295.5 445.4h0M294.5 435h0M292.5 436.1h0M291.9 437.3h0M294 435.1h0M296.8 434.9h0M296.5 436.1h0M297.8 436.7h0M293.8 416.3h0M294 416.6h0M292.5 416.4h0M294.5 417.5h0M294 418.5h0M295.4 413.2h0M297.5 415.4h0M292.8 410.2h0M292.1 410.7h0M293.9 409.9h0M294.6 407h0M295.6 411.5h0M297.1 409.9h0M297.9 408.7h0M293 361.7h0M293.1 363.5h0M293.6 360.5h0M292.2 360.6h0M296.2 362.9h0M297 357.7h0M296.8 359.5h0M292.7 350.5h0M293.4 348.4h0M293.3 350.9h0M294.2 346.2h0M293.4 346.8h0M297.4 350.1h0M295.9 348.5h0M299 559.3h0M299.1 558.6h0M298 558.3h0M300.2 556h0M298.3 556.4h0M299.6 556h0M301.7 557.6h0M299 529.6h0M300.1 529.5h0M299.6 529.5h0M299.8 529.5h0M298 526.6h0M298.3 525.9h0M303.3 526h0M300.5 442.5h0M299.5 439.9h0M300.8 437.8h0M299.9 437.9h0M301 442h0M301.7 437.6h0M301.7 438h0M299.3 416.4h0M298.9 416.2h0M300.9 415h0M299.3 415.9h0M302.5 416.1h0M301.1 413.7h0M302.8 414.9h0M299.2 358.1h0M298.2 358.9h0M299.8 358.9h0M302.4 362h0M303 363.6h0M303 362.5h0M301.7 360.3h0M306.8 534.3h0M305.2 535.2h0M307 535.4h0M305 530.5h0M307.9 534h0M307.1 534.8h0M308.8 531.4h0M304.4 484.4h0M304.2 480.7h0M306.1 481.3h0M309.2 484.9h0M307.4 485h0M309.6 482.2h0M308.5 481.2h0M306.1 471.5h0M304.7 472.7h0M304.2 471.1h0M306.1 468.3h0M307.3 471.7h0M309 473.2h0M309.4 472h0M307 444.1h0M306.1 444.7h0M309.6 449.1h0M309.2 445.2h0M309.5 445.7h0M308.3 445.1h0M309.9 446h0M311.1 528.5h0M311.6 527.8h0M310.7 526.1h0M310.8 523.9h0M311.1 524.3h0M311.6 524.2h0M313.2 529.4h0M322.4 404.5h0M324.8 402h0M328.2 406.6h0M327.6 405h0M327.1 404h0M328.3 401.1h0M328 401.7h0M328.7 447.7h0M331.3 445.2h0M330.9 445.4h0M331.1 446.5h0M329.4 445.9h0M333.9 449.4h0M333 446.9h0M329.2 406.7h0M329.7 404.6h0M331.3 401.3h0M330.4 402.6h0M333.6 404h0M331.9 405h0M334.3 401h0M337.2 504.7h0M335.1 504.4h0M334.7 500.6h0M335.9 499.3h0M338.8 503.8h0M337.7 503.6h0M337.8 502.1h0M349.3 495h0M347 494.5h0M349.5 494.7h0M347.8 493.5h0M349.9 497.5h0M352.2 498.4h0M351.3 495.3h0M349.3 449.2h0M350.1 449.8h0M350.8 449.1h0M350.4 449.7h0M350.8 443.8h0M351.2 444.4h0M351.9 444.2h0" stroke="#477bf2" stroke-width="3.0" stroke-linecap="round" fill="none"/><path d="M170.4 541.2h0M173 536.4h0M170.8 536.2h0M172.2 538.4h0M172.8 538.9h0M172.1 537.7h0M175.6 541.7h0M176.2 540.8h0M176.3 436.2h0M176.6 435.5h0M180.5 432.6h0M181.1 434.3h0M182 433.8h0M179.5 432.4h0M181 433h0M181.2 431.5h0M184.6 603.3h0M184.7 600.1h0M183.9 600.4h0M183.8 600.1h0M184.4 599.5h0M187.6 600.8h0M186.7 598.6h0M185.8 598.9h0M183.3 466.5h0M182.8 464h0M182.9 462.5h0M186.3 467h0M187.9 465.5h0M187.4 468.1h0M187.9 463.6h0M186.9 464.9h0M183.4 453.8h0M183.3 453.2h0M182.5 455.1h0M183.9 452h0M187.4 453.5h0M187.6 453.8h0M187 453.3h0M188.1 455.7h0M190.9 552.5h0M191.3 553.4h0M189.6 552.7h0M189.6 550.4h0M189.4 551h0M194.5 552.6h0M194.1 549h0M192.4 551.1h0M189 534.3h0M188.9 533.4h0M190.2 530.2h0M192.5 532.9h0M193.8 535.7h0M193.4 533.4h0M192.5 533.3h0M193.9 531.6h0M189 440.9h0M190.7 441.6h0M191.4 440.6h0M190 438h0M192.4 443.4h0M191.7 439.8h0M191.7 438.3h0M192.4 439.1h0M197.1 639.7h0M195.6 639.9h0M196.3 637.7h0M194.7 634.9h0M194.6 635.7h0M198.8 638h0M200.1 639.2h0M199.3 638.4h0M196.2 612.8h0M198.2 615.7h0M199.5 614.4h0M198.4 612.9h0M198.4 615.9h0M197.7 611.4h0M198.6 611.6h0M197.8 612h0M194.6 453.2h0M195.1 453.9h0M197.4 451.4h0M195.3 452.6h0M194.7 451.5h0M199.4 451.8h0M199.5 452.7h0M198 450h0M196.2 357h0M196.9 355.5h0M196.5 353.1h0M195.8 352.8h0M197.7 352.1h0M198.5 353.2h0M199.4 353.6h0M198.4 352.4h0M201.6 609.8h0M201.1 608.2h0M201.4 608.5h0M202.7 606.5h0M203 603.7h0M205.6 609.6h0M205 604.9h0M205.2 605.6h0M201.7 603.5h0M202.9 601.1h0M201.2 600.2h0M201.8 599.5h0M206.6 601.1h0M206 601.7h0M204.5 601.5h0M204.5 599.8h0M201.3 597h0M201.1 593.1h0M203.2 593.7h0M202.1 593.6h0M205.3 597.2h0M205.3 596.9h0M205.1 593.6h0M205 591.9h0M202.7 543.4h0M203.3 542.1h0M203.6 542.9h0M204.3 547.7h0M205.2 543.9h0M206.6 543.2h0M206.5 542.2h0M203.7 544.4h0M201.5 418.9h0M201.6 413.8h0M202 413.7h0M205.3 417.1h0M204.3 418.1h0M203.7 415.9h0M206.5 415h0M205.4 415.8h0M209.7 627.3h0M207 623.6h0M207.8 622.4h0M211.9 626.2h0M211.2 626.5h0M211.9 622.4h0M211.5 622.4h0M212.2 622.3h0M208.5 398.5h0M210.6 399.6h0M210.6 399.2h0M210.3 397.8h0M211.1 395.6h0M212.6 396.8h0M210.2 396.5h0M211.2 395.1h0M220.7 658.3h0M221.4 658.1h0M221.3 653h0M224 658.8h0M222.5 655h0M222.4 655.2h0M224.9 655.5h0M222 654.3h0M219.6 638.6h0M221.3 639.8h0M219.4 635.1h0M221.3 637.2h0M220.2 637.3h0M220.9 636.3h0M222.4 638.7h0M224.3 639.1h0M220.8 374.5h0M220.4 375h0M220.7 374h0M221.7 374.2h0M221.5 374h0M219.7 371.8h0M222.9 371.7h0M223.7 370.8h0M220.5 368.1h0M220.3 368.6h0M219.6 364.5h0M221.6 366.5h0M221.2 364.9h0M222.3 368h0M223.5 368.6h0M223.1 365.2h0M226.1 630.1h0M225.2 630.6h0M230.4 633.7h0M229.2 633.7h0M229.3 632.6h0M228.7 629.2h0M229.4 629.4h0M229.6 631h0M233.3 625.7h0M232.1 627.1h0M233.1 623.6h0M234 623.4h0M231.5 624.1h0M236.7 627.9h0M235 623.1h0M236.9 624.5h0M244 387.2h0M245.2 386.7h0M244.8 387.4h0M244.8 383.4h0M243.5 383.8h0M245.7 384h0M247.3 385.7h0M248.5 386.9h0M244.3 361.3h0M244.4 361.8h0M245 363.6h0M244.5 361.8h0M247.8 362.9h0M248.1 358.4h0M248.7 360.5h0M247 360.4h0M245.6 344.5h0M244.4 344.8h0M243.4 344.6h0M244.3 344.9h0M244.9 344.3h0M246.1 339.2h0M247.3 342.7h0M248.3 341.6h0M250.4 619.8h0M250.8 620.8h0M249.4 620.2h0M251.8 621.8h0M254.5 616.2h0M253.4 617.1h0M252.9 616h0M253.6 618.1h0M251.6 366.9h0M249.5 364.8h0M253.1 367.3h0M254.2 368.6h0M254.7 368.4h0M254.8 364.1h0M254.3 364.2h0M255 364.2h0M251.3 326.4h0M249.3 326.3h0M251.6 326.3h0M251.8 326.2h0M250.2 325.5h0M252.1 322.9h0M255.3 321.1h0M253.5 322.5h0M256.7 404.3h0M256.3 406.4h0M257.2 402.6h0M256.2 403.4h0M257.8 400.6h0M261 406.6h0M259.2 404.3h0M259 401.8h0M264.4 622h0M262.5 617.7h0M263.6 616.5h0M266.5 621.9h0M264.9 621.7h0M264.8 619.7h0M266 620.7h0M266 620.5h0M262.9 585.1h0M263.1 581h0M262.1 580.7h0M265.8 584.9h0M265.7 584h0M266 585.1h0M265.2 583.1h0M266.9 580h0M262.6 387.7h0M262.3 385.3h0M261.5 385.7h0M262.3 382.7h0M261.7 384.7h0M266.4 388.1h0M267.1 382.5h0M267.1 382.4h0M263 343.5h0M263.3 342.3h0M263.1 340.3h0M263.4 341.9h0M267 341.4h0M267.4 341.7h0M266.3 340.4h0M265.1 342h0M262.2 331.4h0M263.4 330.8h0M264.5 330.1h0M262.5 326.9h0M262.8 328.4h0M263.1 327h0M267.1 330.4h0M267.1 329h0M263.8 326.4h0M264 324.4h0M262.3 325.2h0M262.2 321.7h0M266.9 324.7h0M264.7 325.4h0M265.9 326h0M265.1 322.1h0M270.2 582.5h0M269.4 582.1h0M267.6 580.7h0M267.6 580h0M272.7 583.9h0M271.5 583.5h0M270.7 580.5h0M272.5 580.6h0M269.4 368.3h0M270.2 368.5h0M268.9 366.9h0M272.3 369.2h0M270.7 367.8h0M271.1 365.1h0M270.8 366.7h0M270.7 364.9h0M275 574.9h0M279.4 579h0M277.9 576.4h0M278.5 578.4h0M278.8 577.2h0M278.9 576.8h0M279.3 572.9h0M279.3 573.9h0M279.8 516.7h0M281.7 516.2h0M280.2 517.3h0M281.2 517.4h0M279.9 514.5h0M280.9 514.4h0M280.9 514h0M284.1 516.4h0M280.1 416h0M282 416.1h0M282 415.3h0M281.2 414.3h0M282.7 415.8h0M279.8 413.9h0M284.4 417.4h0M283.6 415.4h0M280.6 410.6h0M282 410h0M282.4 410.1h0M280.9 409.4h0M282.6 409h0M284.7 411h0M283.1 409.5h0M284.4 408.7h0M288.4 541.6h0M285.9 541.7h0M287.2 537.8h0M288.1 536.9h0M289.9 541.3h0M290.6 538.1h0M290.7 537.3h0M289.8 539h0M288.6 517.2h0M287.3 513.4h0M288.9 516.5h0M290.7 514.8h0M289.7 517.3h0M289.2 516.2h0M291 512.3h0M289.9 512.4h0M287.8 435.4h0M288 436.6h0M286.3 431.4h0M288.7 432.8h0M290 436.1h0M289.5 434.6h0M290.3 436h0M291.4 432.7h0M285.8 412.2h0M287.6 410.2h0M288.3 408.1h0M290.4 409.9h0M290 412.8h0M289.9 410.2h0M290.6 412.5h0M290 408.9h0M292.2 515.8h0M293.1 514h0M295.7 515.9h0M296.4 515.2h0M295.2 516.8h0M297 514.6h0M296.5 512.5h0M297 512.5h0M292.8 511.2h0M293.1 509h0M294.9 505.3h0M292.8 505.6h0M296 509.1h0M296.3 510.1h0M295.3 509.9h0M295.5 508.6h0M291.9 468.3h0M293.8 468.8h0M295.8 473.8h0M297.8 472.5h0M297.5 472.2h0M297 473.7h0M294.9 470.6h0M297.7 470.1h0M294.1 466.3h0M293.2 465.8h0M292.1 464.6h0M292.1 462.4h0M292.4 464.6h0M293.1 462.7h0M294.9 466.2h0M296.1 464.4h0M292.6 396.1h0M292.5 395h0M292.3 397.1h0M295.1 399h0M295.6 399.9h0M297.7 396.1h0M296.2 394.6h0M296.9 396.1h0M300.6 570.8h0M298.8 571.1h0M300.1 571.3h0M298.2 570.4h0M303.1 571.6h0M301.4 567h0M301.1 567.4h0M303.5 566.9h0M299.2 411.8h0M300.4 411.7h0M298.4 411.1h0M299.6 411.4h0M301 409.9h0M301.5 411.6h0M303.7 411.6h0M303.9 408.9h0M299.3 393.1h0M298.4 390.5h0M300.6 390h0M301.7 391.9h0M302.4 392.6h0M302.8 390.5h0M301.6 390.4h0M301.6 389.9h0M305.8 522.6h0M306.3 522.5h0M306.7 520.6h0M308.7 521.1h0M307.8 522.6h0M308.6 521.9h0M308 519.7h0M308.1 520.6h0M305.1 466.5h0M306.1 466.3h0M305.7 462.3h0M306.4 464.7h0M306.8 463.6h0M306.2 462.8h0M304.1 465.1h0M309.5 465.2h0M306.9 399.4h0M306.4 397h0M305.9 396h0M309.6 398.7h0M309.2 398.5h0M309.7 398.3h0M309.3 395.4h0M309.3 395.2h0M306.4 387h0M305.6 386.5h0M304.6 384.5h0M306 382.2h0M305.8 383.1h0M307.7 388.1h0M308.8 383.9h0M309.6 383.6h0M310.8 440.8h0M311.8 443.2h0M310.6 441.6h0M315.6 442.4h0M313.5 441.1h0M314.1 439h0M313.3 438.3h0M314.1 440.6h0M312.1 423.2h0M312.8 421.6h0M311.1 419.9h0M312.3 419.2h0M310.3 421.7h0M311.2 421.3h0M313.2 425.2h0M313.9 419.2h0M316.3 465.7h0M318.6 467h0M316.6 463h0M319.7 466.6h0M320.5 467.8h0M320.3 465.5h0M320.6 464.4h0M322.2 464.7h0M316.2 461h0M316.5 460.3h0M317.2 459.2h0M318.1 460.8h0M318.7 457.2h0M320.6 459.7h0M321.2 460h0M321.5 461.5h0M325.2 436h0M323.4 431.6h0M323.8 433.4h0M325.1 433.3h0M324.9 433.2h0M326.9 436.3h0M326.4 433.7h0M326.8 432.3h0M328.6 466.9h0M328.6 464.4h0M331.1 464.2h0M330.8 464.9h0M332.9 466.8h0M331.4 466.9h0M332.8 466.7h0M332.7 465.3h0" stroke="#458afc" stroke-width="3.0" stroke-linecap="round" fill="none"/><path d="M184.2 545.4h0M183.1 546.1h0M182.5 542.2h0M187.8 547.3h0M188.2 544.2h0M187.9 542.7h0M187.3 542.6h0M187.7 544.6h0M188.1 542.7h0M183.8 392.5h0M183.3 393.3h0M184.5 392.3h0M182.7 390.4h0M183.4 389.1h0M187.7 392.7h0M187.8 393.5h0M188.2 393.4h0M186.6 391.2h0M190 558.2h0M190.9 559.9h0M189.2 558h0M189.5 555.1h0M189.8 556.1h0M192.9 559.8h0M192 557.1h0M192.4 557.4h0M193.1 554.4h0M196.8 658.1h0M195.6 653.1h0M195.6 654.3h0M195.6 654.6h0M197.4 653.3h0M198.3 658.9h0M200.5 658h0M200 658h0M198.9 654.2h0M194.9 572h0M195.2 572.8h0M195.7 570h0M198.2 571.7h0M199.2 570.4h0M198.7 570.3h0M200.4 567.4h0M199.2 569.7h0M200.1 567.9h0M195.8 528.1h0M196.8 527.2h0M194.7 529.7h0M195.6 527.7h0M195.3 526.1h0M198.1 529.5h0M198.1 527.1h0M200.1 526.7h0M200.2 525.2h0M195.3 515.2h0M196 515.4h0M194.9 514.5h0M195.8 514.9h0M197.5 511.9h0M196.8 512.9h0M199.1 517.4h0M199.1 513.4h0M197.8 511.6h0M195.3 430.7h0M196.2 429.5h0M196 426.3h0M194.9 426.9h0M196.9 428h0M197.3 425.3h0M196.8 427h0M198.1 426.5h0M200.6 426h0M202 612.8h0M206.1 615.4h0M204.7 614.2h0M204.1 615h0M206.1 612.9h0M204.2 614.5h0M205.1 612.8h0M206.1 612.3h0M206.1 612.3h0M201.4 572h0M202.4 569.6h0M202.1 566.8h0M205.2 570.1h0M203.9 571.2h0M206.2 570.7h0M206.3 570.4h0M203.7 570.3h0M206.3 568.6h0M201.1 553.9h0M202.3 551.5h0M201.6 552.2h0M201.9 553.4h0M203 553.4h0M202.1 552.1h0M203.4 551.1h0M202.6 550.9h0M206.6 552.4h0M201.8 534.1h0M201.5 534.2h0M201.4 533h0M203.9 533.3h0M204.4 533.5h0M205.3 531.8h0M204.5 531.6h0M206.1 531.7h0M205.1 532h0M202.6 503.8h0M202.9 502.9h0M202.6 500.8h0M201.5 500.9h0M203.5 501.7h0M204.6 505.1h0M203.9 503.5h0M206.4 501.9h0M205.2 501.6h0M203.7 393.7h0M200.9 394.2h0M201 388.7h0M205.3 390.1h0M205.9 388.4h0M205.4 389.3h0M205 391.2h0M204.7 390.7h0M204.5 389h0M208 644.9h0M207.9 644.6h0M209.5 644.6h0M208.6 641.8h0M207.5 642.1h0M210.9 641.5h0M210.8 643.3h0M210.5 642.4h0M210.8 642.2h0M207 639.5h0M207.7 639.6h0M207 638.5h0M209.6 638.9h0M209 635.5h0M209.5 636.5h0M210.2 638.5h0M212.1 634.6h0M210.1 634.8h0M207.9 570.1h0M208 571.8h0M209 570.7h0M209 571.6h0M209.7 567.2h0M208.7 567.5h0M210.4 572.3h0M211.1 568.4h0M211.2 569h0M207.9 443.6h0M207.3 438.1h0M209.4 438.7h0M212.3 442.1h0M211.1 440.9h0M210.5 442.6h0M210.8 442.2h0M210.9 438.5h0M211.5 438.6h0M209.5 409.3h0M208 407.9h0M209.7 407.1h0M207.4 409.1h0M206.8 406.9h0M210.2 411h0M211.7 410.3h0M210.8 410.4h0M212.8 407.9h0M214.3 373.3h0M213 372.7h0M214.9 369.9h0M215.6 371h0M213.2 370.6h0M215.2 370.2h0M217.8 374.7h0M218.4 371.7h0M216 370.6h0M221.5 563.8h0M219 565.1h0M221.8 563.6h0M223.9 565.7h0M224.9 564.3h0M224.1 560.7h0M224.8 562.8h0M223.4 562.2h0M223.6 561.2h0M226.9 391.9h0M225.8 392.4h0M225.6 389.7h0M226.4 388.5h0M226.7 390.6h0M227.8 390.5h0M228.4 394.3h0M228.6 391.3h0M228 391.1h0M227.2 388h0M226.9 386.4h0M227.8 388.3h0M226.5 383.1h0M228 383.8h0M225.6 383.7h0M229.1 385.5h0M228.1 386h0M229.5 386.7h0M227.6 362.3h0M227 361.6h0M226.2 361.5h0M227.5 361.7h0M225.3 360.5h0M229.4 363.3h0M229.6 362.2h0M228.1 360.5h0M228.3 360.5h0M227.9 355.6h0M226.2 356.4h0M226.3 356.5h0M226.4 355.2h0M230.4 355.5h0M230.1 354.7h0M229.4 355.1h0M229.2 352.8h0M230.4 351.4h0M231.9 307.5h0M233.3 307.7h0M236.1 305.3h0M236.2 306.7h0M236.9 306.8h0M236 307.7h0M236.9 306.9h0M235.6 307.3h0M235.9 302.7h0M239.7 380.3h0M238.9 379.2h0M241.9 382.1h0M240.4 380.4h0M242 379.4h0M241.4 377.1h0M242.4 376.6h0M240.8 378.6h0M241.6 378.1h0M238.3 375.8h0M238.9 375.9h0M240 373.7h0M239.9 372h0M239.2 371.2h0M238.1 372.7h0M242.6 374.1h0M240.2 374.5h0M241.3 370h0M245.4 626.7h0M244.6 627.3h0M245 626.1h0M247.3 627h0M247.9 628.2h0M249.1 622.8h0M247.3 624.1h0M246.9 624.8h0M248.3 622.2h0M243.8 368.5h0M244.1 368h0M245.1 363.9h0M244.7 366.4h0M247.6 369.4h0M246.3 368.1h0M246.9 365.5h0M248.6 366.6h0M247.9 365h0M250.9 392.9h0M250.3 391.4h0M249.7 392.7h0M251.9 389.1h0M254.7 392.4h0M254.7 391.7h0M252.5 390.3h0M254.8 388.8h0M253.1 389h0M249.8 351.3h0M251.6 346h0M251.2 346.5h0M252.4 349.3h0M254.3 349.5h0M255.2 348.4h0M255.1 346.3h0M253.9 345.6h0M254.2 346h0M256.8 416.2h0M257.7 415.3h0M257.8 413.5h0M257.3 413.4h0M258.8 416.3h0M258.7 412.9h0M259.5 414.4h0M261.1 414.3h0M259.3 414.6h0M269.8 600.2h0M271.4 603.5h0M272.5 603h0M272.3 599.3h0M273.6 600.6h0M271.6 599.3h0M272.4 598.7h0M273.3 599h0M272.2 597.8h0M269.6 540.9h0M268.1 540.6h0M269.1 536.6h0M271.3 539.2h0M272 542h0M272.4 539h0M271.3 538.5h0M273.6 536.8h0M270.9 536h0M269.1 529.6h0M267.8 529h0M267.8 526.4h0M272.4 529.7h0M272.2 529.1h0M271.4 524.3h0M270.9 525.7h0M271.9 526h0M272.6 526.4h0M269.5 362h0M269.2 361.1h0M269.5 363.2h0M268.3 359.1h0M267.9 358.4h0M268.2 359h0M269.6 358.5h0M271.5 361.1h0M272.2 359.4h0M276.1 591.2h0M274.4 589.6h0M275.5 589.6h0M278.7 590.9h0M279.6 588.6h0M278.3 589.1h0M276.8 587.5h0M277.1 585.9h0M279.3 586.9h0M273.9 533.2h0M275.9 533h0M276.5 533.4h0M276.5 531.8h0M278.1 533.8h0M278.9 532.7h0M278.3 530.3h0M279.6 530.9h0M279.1 530.2h0M274.2 399.7h0M275 398.4h0M276.3 395h0M276.6 395h0M275.2 397.3h0M275.9 397.4h0M278.1 397.9h0M278.3 395h0M278.5 397.3h0M281.2 584.3h0M279.9 583.7h0M281.4 580h0M280 580.5h0M279.8 582.1h0M281.2 580.5h0M282 581.2h0M282.9 583.2h0M285.6 582.6h0M280.4 483.7h0M280.6 486.5h0M281.4 481.1h0M285.4 484.1h0M284.9 486.6h0M283.3 482.8h0M285.6 482.7h0M283.2 482.2h0M285.2 481h0M280.3 448h0M281.6 449.4h0M280 447h0M280.9 446.1h0M283.1 446.8h0M284.8 448.9h0M283.6 448.4h0M285.1 445.1h0M285.3 443.7h0M286.2 596.9h0M287.2 597h0M286.1 597.1h0M285.8 592.9h0M285.9 592.2h0M286.4 594h0M289 594.8h0M290.4 596.7h0M289.5 593.9h0M285.8 528.7h0M286.2 529.5h0M286.2 529.8h0M286.3 529h0M288.2 523.9h0M290.4 529.5h0M291.5 529.1h0M288.9 526.4h0M289.3 525.4h0M288.2 483.8h0M286.3 485.2h0M288.1 486.6h0M288.1 482.1h0M286.8 482.1h0M290 485.5h0M291.5 480.9h0M289.7 482.1h0M289.3 481.1h0M287.7 398h0M286 394.9h0M288.6 394.9h0M286.9 394.5h0M291.8 400.1h0M290.5 398.9h0M291.4 398.5h0M290.8 396.4h0M291.2 394.5h0M294.1 558.2h0M293.1 555.4h0M291.9 554.7h0M296.9 558.9h0M296.9 560.5h0M296.6 557h0M297.2 555.9h0M297.3 557.3h0M296.9 557h0M292.1 430h0M294.6 426.3h0M292.6 426.9h0M293.6 428.1h0M295.9 429.1h0M294.9 428.5h0M296.8 430.5h0M297.1 430.2h0M297.5 427.8h0M300.3 515.9h0M298.3 512.2h0M298.7 512.6h0M300.1 514h0M301.4 514.6h0M302.4 516h0M301.1 514.1h0M303.2 512.3h0M301.2 513.5h0M300.4 467.9h0M298.5 465.9h0M300.5 464.6h0M298.2 464.3h0M298.1 463.9h0M302 467.1h0M301.1 467.4h0M303.8 462.4h0M302.9 462.6h0M304.6 480.1h0M305.3 480.2h0M306.3 480h0M308.3 478h0M309.2 478.3h0M309.7 477.8h0M308.8 478.6h0M307.8 474.7h0M307.2 475.3h0M305.3 441.4h0M306.1 442.6h0M306.6 438.1h0M309.2 442.9h0M309.5 440.3h0M309.1 438.3h0M308.8 439.9h0M307.6 440.5h0M310.1 439.7h0M311.5 540.5h0M312.5 538.4h0M314.1 541.5h0M314 540.7h0M313.6 540.7h0M315.1 541.2h0M313.8 538.1h0M315.1 537.9h0M313.5 536.2h0M318.5 373.1h0M316.7 375.5h0M318.9 375.5h0M318.1 373.8h0M318.2 371.6h0M316.6 370.9h0M321.1 375.7h0M321.9 373.7h0M319.6 370.2h0" stroke="#3e9bfe" stroke-width="3.0" stroke-linecap="round" fill="none"/><path d="M176.4 492.4h0M178.2 490.5h0M177.3 492.5h0M178.9 488.5h0M177.7 487.4h0M179.9 490.3h0M179.6 489.2h0M179.5 487.5h0M179.6 487.6h0M181.9 488.9h0M177.6 454h0M178.4 453.5h0M179.1 452.6h0M182.3 455.2h0M182.1 455.8h0M181.5 453.5h0M179.9 452.9h0M182.1 455.4h0M179.4 453.9h0M180.2 452.1h0M184.2 556.4h0M183.2 554.6h0M182.5 555.5h0M183.6 555.1h0M184.6 555.5h0M183.3 557.4h0M188.1 557.6h0M187.6 555.5h0M186.1 555.5h0M188.3 557.3h0M190 528.8h0M188.5 524h0M189.6 525.8h0M190.6 524.6h0M190.3 524.9h0M190.5 526.5h0M191 526.1h0M194.2 524.8h0M193.7 524.6h0M192.4 526.1h0M194.6 534.8h0M195.4 530.9h0M198.2 535.9h0M198.5 534.9h0M197.9 534h0M197.6 535.4h0M198.8 534.7h0M198.1 535.8h0M198.1 531.5h0M200.2 531.8h0M197.1 473.8h0M196.2 472.3h0M195.9 468.5h0M195.5 468.4h0M195.4 470h0M197.4 471.1h0M195.8 470h0M198.9 474.1h0M197.8 473.7h0M199.8 470.4h0M196.4 448.1h0M196.3 447.3h0M194.6 445.1h0M198.9 448.6h0M199.5 448.2h0M197.8 449h0M197.7 444.3h0M198.2 446.3h0M200.3 445.9h0M198.2 446.5h0M197.3 437.4h0M196.4 435.3h0M196.8 432h0M195.7 431.6h0M198.7 435.8h0M200.6 437.4h0M199.6 437.5h0M199.5 432h0M200.4 431.4h0M199.6 432.4h0M200.9 639.6h0M203.6 635.3h0M202.8 634.5h0M202.7 637h0M204.5 637.8h0M204.8 639.9h0M204.7 638.4h0M204.2 637.2h0M205.6 635.6h0M206.3 634.5h0M200.8 485.1h0M202.4 484h0M202.9 486.4h0M201.2 484.6h0M203.3 483.2h0M202.5 482.6h0M202.9 482.1h0M205.4 486.4h0M204.6 482h0M206.3 482h0M201.9 441.6h0M203 440.9h0M202.2 442.7h0M202.7 438.6h0M203 438.5h0M201.9 438h0M204.7 442h0M206 438.5h0M205.4 440.1h0M206.5 440.1h0M201.7 412.8h0M203.2 412.1h0M201.1 411.5h0M203.6 409.7h0M204.9 411.4h0M206.5 411.5h0M206.3 410.5h0M205.1 408h0M203.8 409.5h0M206 407.9h0M208.8 552.9h0M209.5 553.7h0M206.9 548.4h0M208.2 550.4h0M207.6 548.3h0M208.3 551h0M209.2 551.3h0M208 549.6h0M210.3 551.1h0M209.9 549h0M209.5 338.8h0M207.7 336.5h0M207.6 338.5h0M207.9 335.4h0M208.2 335.4h0M208.4 333.8h0M209.9 334.4h0M210.7 336h0M212 333.8h0M209.9 335.8h0M214.5 442h0M214.2 441.2h0M215.3 440.9h0M214.8 438.6h0M216.6 442.3h0M216.4 442.2h0M217.7 442.1h0M217.6 440.4h0M218.2 438.3h0M217.6 439.8h0M214.3 417.7h0M213.4 417.3h0M214.4 417.2h0M213.8 416h0M215.6 413.9h0M214.9 414.9h0M217 417.6h0M216 413.7h0M218.8 414.8h0M218.2 413.5h0M214.4 363.4h0M214.9 361.9h0M214.4 363h0M215.3 363.4h0M213.1 358.9h0M214 359.3h0M215.5 360.5h0M218.7 363.1h0M218.3 357.8h0M218.7 358.8h0M220.2 392.9h0M220.6 394.3h0M220 392.2h0M219.5 391.6h0M220.7 393.6h0M220.5 389h0M219.3 390.6h0M220.8 388.4h0M224.5 393.9h0M222.6 389.2h0M221.7 347.3h0M219.3 347.7h0M220 348.2h0M221.5 347.7h0M222.2 350.2h0M224.5 349.1h0M223.8 348.6h0M224.2 351.3h0M222.2 345.7h0M223.9 348.1h0M225.2 428.7h0M227 429.6h0M227.1 426.2h0M230.9 431.1h0M229.1 430h0M228.1 430.6h0M230.6 427.8h0M228.2 428.2h0M231 426.7h0M228.2 428h0M225.6 344.6h0M226.5 344.3h0M227.1 341.6h0M227.9 341.5h0M227.3 340h0M229.3 343.7h0M229.8 344.7h0M228.7 344.8h0M228.5 339.6h0M229.6 341.3h0M225.5 331.8h0M225.6 330.8h0M227 330h0M226.5 332.7h0M225.2 332.7h0M229.6 330.7h0M229 329.9h0M228.1 332.6h0M229 328.4h0M229.4 328.8h0M231.3 546.7h0M232.2 547.5h0M233.7 545.4h0M233.8 542.2h0M233.8 544.5h0M236.7 547.3h0M236.2 545.7h0M235.9 545.6h0M236.2 545.9h0M236.5 543.1h0M232.7 349h0M231.5 350.2h0M231.6 350.6h0M232.9 346.8h0M232.5 346.7h0M235.3 351h0M234.9 350.5h0M235.5 345.4h0M236.2 348.1h0M237 347.5h0M239 560.6h0M240.1 558.7h0M238.9 560.3h0M237.1 558.6h0M238.3 559.4h0M238 558.4h0M237.8 555.9h0M240.6 559.2h0M243 557h0M242.2 556.4h0M238 368.4h0M237.2 369.3h0M237.7 367.8h0M239.2 368.8h0M237.5 365.4h0M239 364h0M238.5 363.9h0M242 368h0M242.9 367.2h0M242.5 364.3h0M243.4 589.2h0M245.1 588.4h0M243.5 589.3h0M243.7 589h0M245.6 588.3h0M245.9 590.7h0M243.9 587.3h0M244.6 586.2h0M249.3 588.4h0M246.8 587.4h0M244.8 379.2h0M245.3 378.3h0M244.9 378.5h0M243.9 376.8h0M243.5 378.9h0M245.3 376.2h0M243.2 376.6h0M245 377.2h0M248.5 379.4h0M246.5 378.4h0M250.7 632.5h0M250.8 633.9h0M251.8 634.1h0M251.9 633.1h0M252.3 632.3h0M252.3 629.3h0M252.8 629.2h0M252.8 629.5h0M254.4 629.7h0M254.3 629.3h0M250.4 422.3h0M251.6 420.5h0M249.8 419.3h0M250.9 419.9h0M252.3 420.3h0M253.4 423.9h0M252.4 422.8h0M255.1 424.8h0M255.2 420h0M254.5 419.4h0M255.5 603.4h0M257.4 599.2h0M260.2 602.1h0M260 603.6h0M259.2 601.6h0M259.5 601h0M259.4 598.1h0M260.4 598.3h0M261.1 598.4h0M259.1 598.3h0M255.9 381.4h0M257 380.4h0M257.3 377.4h0M255.7 378.2h0M256.7 377.9h0M260.3 379.4h0M259.1 380.6h0M259.6 381.3h0M260.7 376.9h0M258.7 378h0M263.6 520.7h0M263.2 519.9h0M263.6 519.8h0M262.3 518.1h0M261.8 519h0M264.1 519h0M264.8 519.8h0M266 520.3h0M267.5 517.8h0M264.5 520.4h0M262.9 363.1h0M262 357.8h0M262.3 360h0M266.2 359.4h0M266.3 358.6h0M266.9 358.4h0M267.4 360.1h0M266.2 359.7h0M266.7 360.6h0M267.2 358h0M269.5 436h0M268.6 436.3h0M268.3 437.1h0M267.9 437.3h0M269.7 433.2h0M268.8 433.3h0M272.4 436.8h0M271.9 436.4h0M271.8 437.4h0M271.3 434.1h0M269.6 398.1h0M269.8 397.9h0M270.2 397.6h0M269.3 395.3h0M273.3 397.7h0M272.3 397.6h0M272.6 397.1h0M272.9 396.2h0M271.2 396.7h0M272.2 394.5h0M270.5 379.2h0M269.7 380.4h0M267.8 377h0M272.5 381.3h0M272 377.5h0M271.9 376.6h0M272 376.8h0M272.6 377.8h0M273.2 377.8h0M272.1 378h0M274.7 582.2h0M275 582.2h0M273.7 584.5h0M276 581.3h0M274.2 579.7h0M277.1 582.1h0M278.9 584.2h0M277.4 584.5h0M276.7 582.6h0M279.3 582h0M273.7 411.6h0M274.3 408.4h0M275.2 406.9h0M274.5 409.1h0M278 410.2h0M279.5 410.2h0M278.2 412.8h0M278.8 409.1h0M278.8 406.8h0M279.1 408.1h0M281.2 529.6h0M279.8 527.6h0M280.8 529.2h0M281.3 529.8h0M282.6 524.8h0M282.2 524h0M281.4 524.4h0M283.9 529.2h0M285.1 529.5h0M284.2 527.2h0M282.3 472.3h0M281.4 472.2h0M280.9 469.7h0M281.2 468.6h0M281.8 468.3h0M281.5 468.7h0M280.3 470.7h0M279.7 471h0M285.7 471.5h0M285.5 472.1h0M279.9 429.3h0M281.9 425.3h0M281.6 426h0M281.7 425.4h0M280.5 427.6h0M281.4 425.9h0M285.2 430.4h0M283.9 430.2h0M284.9 430.6h0M285.1 426.7h0M280.5 404h0M281.1 405h0M280.3 405.7h0M279.9 401.1h0M280.9 400.9h0M280.6 402.1h0M285.3 406.6h0M282.9 405.9h0M285 401.6h0M285.3 403.3h0M286.6 583h0M287.1 583.1h0M288.8 583.6h0M287.3 579.9h0M286 580.9h0M287.7 581.3h0M291.6 582.3h0M290.1 584.1h0M290.6 584.2h0M290.4 580h0M287.1 576.6h0M287.8 577.7h0M288 576.7h0M286.4 578.2h0M287.5 575.5h0M285.9 574.3h0M285.9 575.3h0M289.8 578.6h0M290.5 574.8h0M290.1 573.9h0M286.2 496.7h0M286.8 496.9h0M287.3 498.9h0M287.1 494h0M287.8 493.4h0M290.1 499h0M289.6 499h0M289.5 497.3h0M290.8 495h0M291.4 493.3h0M288.2 478.3h0M286.2 480.2h0M287.8 477.9h0M288 477.2h0M288.3 476.8h0M288.7 476.7h0M289.5 480.5h0M291.1 480.1h0M289.2 477.2h0M289.2 475.1h0M287.5 461.3h0M288.1 459.2h0M286.1 459.5h0M287.9 458.4h0M290.7 459.6h0M291.5 459.9h0M290.5 460.5h0M289.9 461.9h0M290.3 457.3h0M289.4 457h0M285.9 417.2h0M287.7 418.2h0M288.6 413.6h0M288.8 415.2h0M288.3 413.7h0M287.9 415.2h0M287.4 414.5h0M290.2 418.2h0M291.2 414.2h0M290.7 413h0M294.1 405.7h0M292.9 403.8h0M292.6 404h0M294.1 401.9h0M293.1 400.8h0M295.4 404.1h0M296.8 404.8h0M296.2 406.3h0M295.1 405.1h0M295.1 400.7h0M298.6 576h0M298.1 575.9h0M300.9 573.3h0M299.2 573.9h0M300.1 574.5h0M303.2 577.9h0M301.8 576.1h0M301.2 577.4h0M303.7 575.5h0M302.7 573.8h0M300.4 564.8h0M298.9 565.4h0M298.9 564.6h0M303 565.7h0M301.8 566.7h0M301.3 564.4h0M303.5 564.8h0M303 562.5h0M303.3 560.9h0M304 563h0M298.1 546.1h0M299.1 546.8h0M300.2 545.7h0M300.1 542.2h0M300.8 543.7h0M300.4 543.6h0M300.5 545.1h0M303.9 547.9h0M302.4 548.2h0M301.6 543.6h0M304.9 460.2h0M304.3 460.7h0M304.3 460h0M306.9 458.8h0M306.1 457.8h0M308.5 461h0M309.2 461.3h0M307.2 458.4h0M309.3 457.8h0M308.4 456.6h0M305 454.8h0M305.5 451.7h0M304.8 452.5h0M305.3 450.6h0M309.9 455.6h0M307.2 452.5h0M308.4 452h0M307.8 452.3h0M310 450.7h0M308.1 452h0M304.3 373.4h0M306.2 374.5h0M305 374.1h0M305.4 370.7h0M305.5 372.9h0M308 375h0M307.5 370.9h0M308.6 370.4h0M309.6 371.9h0M307.7 372.8h0M312.2 478.1h0M310.9 478.4h0M310.6 478.1h0M312.8 477.5h0M310.4 480.3h0M310.7 475h0M312.1 477.1h0M315.5 479.6h0M313.4 479.6h0M314.5 475.6h0M311.2 454h0M310.3 454.5h0M313 452.7h0M310.9 452.2h0M315.6 454.2h0M313.7 454h0M313.8 450.2h0M313.5 450h0M315.4 450.9h0M314.8 451h0M312.3 430.3h0M310.3 428.5h0M310.6 427.6h0M312.4 427.6h0M310.9 425.9h0M310.9 427.7h0M314.8 429.4h0M314.1 426.1h0M314.5 426.7h0M314.3 426.4h0M310.3 369.8h0M311.2 368.5h0M310.6 369.6h0M313 364.5h0M312.5 365.4h0M311.4 364.2h0M313.9 367.1h0M314.8 367.3h0M314.6 367.6h0M314.4 366.3h0M318.5 490.9h0M316.5 491.1h0M317.9 489.6h0M316.7 488.4h0M316.3 486.9h0M321.7 491.6h0M321.2 489.8h0M319.3 488.9h0M321.6 489.2h0M320.3 486.9h0M323 491.9h0M322.9 491.3h0M322.9 491.9h0M325.2 487.6h0M323.6 489.8h0M325.9 492.5h0M326.5 491.1h0M325.7 490.3h0M327 492.9h0M328 489.5h0" stroke="#35abf8" stroke-width="3.0" stroke-linecap="round" fill="none"/><path d="M177.5 535.8h0M176.3 533.3h0M178.3 531.1h0M177.5 531.9h0M176.4 532.1h0M181.3 535.9h0M179.6 533.3h0M180.7 534.5h0M180.4 533.8h0M180.7 532h0M180 532.5h0M176.5 509.2h0M177.5 506.7h0M179.4 511.1h0M181.3 511h0M180.8 509.7h0M180.6 508.4h0M182 510.4h0M179.6 510.3h0M180 509.9h0M180.6 506.7h0M182.3 507.8h0M178.1 466.5h0M176.5 466.6h0M177.7 464.9h0M179.2 462.5h0M179.3 465.2h0M177 462.5h0M181.4 466.1h0M179.6 467.8h0M179.6 465h0M180.7 462.8h0M182.3 463h0M184 526.9h0M183.5 527.2h0M183.8 524.3h0M182.8 526.2h0M182.4 526.3h0M187.3 528.9h0M188.4 527.3h0M187.4 524.5h0M187.3 524h0M186.5 526.5h0M186.3 524h0M184.5 496.7h0M183.6 496.6h0M183.2 494.7h0M184.3 492.9h0M184.2 495.3h0M186.5 498h0M187.5 498h0M187.4 493.3h0M186.8 493.6h0M186.4 495h0M186.7 495.7h0M182.7 418.3h0M184.7 417.8h0M184.6 414.5h0M183.6 415.2h0M187.8 419h0M186.2 419h0M186.5 417.6h0M185.8 416.2h0M188.1 414.8h0M188.2 413.6h0M185.5 416h0M190.5 502.5h0M189 503.8h0M189.6 502.8h0M191.3 502.2h0M190.4 499.3h0M192.6 502.7h0M193.6 503.6h0M192.2 503.7h0M193 502.1h0M191.7 500.1h0M194.4 499.3h0M196.8 582.3h0M194.6 584h0M195.6 583.6h0M197 581.3h0M195.1 582h0M195.8 579.4h0M198 583.6h0M198.4 582h0M198.5 579.8h0M198.1 581.5h0M199.3 579.8h0M197 416.7h0M197.2 414.1h0M194.6 413.5h0M197 413.6h0M200.1 417.3h0M199.5 419h0M199.6 416.5h0M200.5 415.2h0M200.5 413h0M198.7 413.1h0M197.8 414.3h0M202.4 459.2h0M205.9 459.6h0M206.3 461.1h0M206.2 459.7h0M205.9 460.8h0M206.5 460.6h0M206.5 456.8h0M205.5 457.7h0M204.5 457.6h0M204.9 457.6h0M206.5 459h0M203.6 435.5h0M201.8 434.9h0M202.2 435.1h0M202.8 432.4h0M201.1 434.4h0M204.4 437.4h0M204.2 434.9h0M205.1 436.7h0M205.6 433.9h0M203.9 432.9h0M205.5 432.2h0M206.8 566.6h0M209.3 566.6h0M207.1 563.6h0M207.8 563.6h0M212.5 564.1h0M210.5 565.8h0M210.1 566h0M211.4 562.5h0M212.7 562h0M212.8 563.4h0M211.5 560.8h0M209.5 374.5h0M207.3 375.1h0M209.4 370.1h0M208.2 372.5h0M210.6 373.7h0M210.4 373.2h0M209.8 374h0M210.4 373h0M210.1 370.8h0M210.5 370h0M211 371.6h0M214.9 650h0M213.6 650.2h0M214.6 652.9h0M215.6 647.9h0M214.7 648.4h0M213.1 647.9h0M213.1 648.3h0M218.5 651.1h0M217.2 650.7h0M217.3 647.9h0M217.6 648.8h0M213.5 539.4h0M213.4 540.6h0M215 540.4h0M214.7 537.2h0M214.2 538.1h0M216.2 542.1h0M217.4 540h0M218.5 537.4h0M217.8 537.5h0M216.2 537.5h0M216 538.3h0M215 516.3h0M215.2 513.9h0M212.9 514.1h0M213.1 514.3h0M216 517.3h0M218.6 514.6h0M217.3 516.2h0M216.7 514.6h0M216.5 514.2h0M217.3 512.4h0M217.1 513.8h0M214.4 431.3h0M213.9 429.7h0M212.8 431.2h0M213.1 429.3h0M214.7 427.2h0M217.5 429.4h0M216.5 430.4h0M217.1 431.3h0M216.4 425.7h0M217.9 426.6h0M216.2 426h0M215.4 411h0M213.4 410.9h0M214.8 410.8h0M213.3 412.6h0M215 409.7h0M214.5 407h0M216.1 412.7h0M217.3 411.7h0M216.6 409.2h0M216.5 407.3h0M216.8 408.4h0M213.7 369.3h0M215.4 368.7h0M213.9 368.2h0M214.1 365.1h0M215.4 366.4h0M218.4 366.8h0M216.3 369h0M217.5 368.5h0M217.9 368.6h0M217.2 364.9h0M218.9 364.3h0M227.8 434.4h0M225.4 434h0M226.3 432.6h0M226 432.9h0M229.6 437.2h0M230.9 437.3h0M229.8 436.1h0M230.3 433.2h0M229.4 434.2h0M229.8 433.8h0M230.5 432.2h0M227.5 408h0M225.9 407.2h0M225.3 408h0M227.7 406.9h0M226.5 407.9h0M230.9 412.3h0M230.2 411.8h0M229.5 412.1h0M228.9 408.5h0M228.3 409.6h0M230.1 407.8h0M231.6 640.1h0M231.8 636.1h0M231.2 637.4h0M235.4 638.9h0M234.7 637.7h0M235.8 637.6h0M236.4 637.3h0M235.9 635.4h0M236.2 636.1h0M236.9 636.4h0M235.4 635.1h0M231.7 386.6h0M231.1 388.3h0M232.9 382.5h0M233.8 385.2h0M232.5 384.5h0M233.9 383.5h0M236 385.5h0M234.8 385.7h0M235.8 386.6h0M235 386.8h0M236.9 385.2h0M237.2 428.7h0M239 430.3h0M239.5 429.4h0M239.6 426.4h0M237.8 428h0M239.4 426.6h0M237.2 426h0M241.3 429.7h0M240.8 431.1h0M242.2 430h0M241.2 426h0M237.5 422.5h0M238.3 422.1h0M237.6 419.9h0M238.5 419.4h0M241.4 422.7h0M241 424.7h0M242 423.6h0M240.4 421.7h0M241.7 420.4h0M241.8 420.2h0M240.3 421.4h0M239.8 397.6h0M239.2 397.9h0M239.3 399.4h0M238 397.2h0M238.3 395.3h0M238 396.9h0M239.5 395.9h0M238.2 394.8h0M242 400.3h0M241.7 395.9h0M240.9 395.6h0M237.7 386.3h0M239 386.7h0M239.8 385.6h0M239.9 384.2h0M237.8 383h0M241.4 385.5h0M241.1 385.8h0M243 386.1h0M241.2 385.6h0M240.6 385h0M242.1 383.9h0M238.7 363h0M239.3 362.6h0M238.1 362.6h0M238.2 358.8h0M239.4 360.4h0M237.7 360.1h0M240.7 363.6h0M241.8 362.2h0M241.6 362.7h0M242.4 363.6h0M241.1 359.6h0M238.7 350h0M238.7 350h0M237.8 348.5h0M237.8 347.7h0M237.5 347.9h0M243.1 350h0M242.6 347.5h0M242 347.4h0M242.6 346.6h0M240.9 346.2h0M242.5 346.8h0M245.5 533.8h0M244.4 532.4h0M243.9 531.2h0M249.2 533.8h0M248.5 535.3h0M249 535h0M248 531.4h0M248.4 529.9h0M246.6 532.6h0M248.2 532.2h0M248 530.5h0M251.6 356.1h0M252.1 355.6h0M251 355.5h0M250.1 355.1h0M251.5 351.6h0M251.6 353.1h0M251.1 352.2h0M254.9 354.7h0M253.4 356h0M253.9 357.3h0M254.8 353.5h0M258.4 615.9h0M255.9 614.7h0M256.7 612.4h0M257.8 611.8h0M261.1 615.4h0M261.3 615.8h0M259.8 613.1h0M260.3 609.8h0M259 610h0M260.4 610.1h0M259 611.3h0M256.7 553.6h0M257.7 552.6h0M255.7 550.7h0M257.3 550.4h0M257 550.5h0M259.1 552.7h0M258.8 552.9h0M260.6 551.8h0M258.9 551.9h0M260 550.3h0M259.6 548.6h0M257.8 546h0M257.7 545.6h0M257.2 546.8h0M255.6 547.2h0M255.7 545.1h0M258.7 546.8h0M258.7 547.6h0M261.4 543.8h0M260 544.2h0M259.6 542.9h0M261.4 543.4h0M258.2 375.4h0M258.2 375.6h0M256 372.8h0M257.2 370.1h0M256 372.5h0M259.5 374.4h0M258.5 375.8h0M259.4 371.8h0M260.5 372.7h0M260.6 372.5h0M258.8 372.7h0M258.2 369h0M258.4 369h0M256.9 366.4h0M258.4 367.7h0M260.6 369.2h0M260.2 367.7h0M260.8 363.8h0M258.5 363.8h0M260.6 365.6h0M259.6 365.5h0M260.7 364.2h0M262.9 607.9h0M263.3 609.1h0M263.6 609.2h0M262.6 609.4h0M262.3 607.6h0M262.1 605.5h0M263.9 605.5h0M261.7 604.7h0M264.8 603.8h0M266.1 605.5h0M265.1 605.8h0M261.9 571.6h0M261.7 572.8h0M263.5 572.3h0M264.3 569.8h0M261.6 567.9h0M263.2 568.1h0M263.1 569.3h0M263.5 568.8h0M265.6 572.4h0M265 569h0M265.6 568.9h0M270.2 572.2h0M269.2 570.9h0M269.9 572.8h0M270.2 567.7h0M269.4 569.7h0M268.1 567.6h0M268 568.7h0M272.1 570.9h0M271.6 568.8h0M271.3 568.3h0M273.6 568.2h0M268.7 565h0M268.5 561.3h0M269.1 562.9h0M273 564.9h0M272.9 565.4h0M273.5 565.2h0M272.8 566.7h0M273 560.8h0M272 560.7h0M272.7 561.2h0M271.4 563.5h0M268.1 502.6h0M268.4 499.2h0M268 502.1h0M268.7 499.6h0M269.6 500h0M270.5 501.3h0M269 501.4h0M273.2 502.9h0M270.7 503.8h0M272.6 500.9h0M273.5 499.6h0M267.9 404.8h0M268 404.1h0M268.8 403.8h0M269.7 400.7h0M272.1 404.6h0M271 400.8h0M271.7 401h0M270.7 402.3h0M272.8 402.6h0M271.1 402.2h0M272.2 401.9h0M276.1 558.1h0M274.8 556.4h0M274.9 556h0M275.3 555.3h0M274.2 556.1h0M274.7 556.1h0M274.3 556.7h0M274.7 556.5h0M274.8 555.3h0M279.5 558.4h0M278.6 557.3h0M275.6 393h0M275.3 391.5h0M275.6 391.4h0M273.6 390.3h0M274.1 390.5h0M278 392.3h0M279 391.7h0M279.5 392.6h0M277.2 393.4h0M279.1 390.1h0M278.3 390.6h0M282.4 502.8h0M279.9 504.7h0M281 504.3h0M280.1 499.9h0M281.6 501h0M284.7 502.6h0M285.4 503.1h0M283.6 503.4h0M283.8 502.7h0M285.2 501.8h0M285.1 501.1h0M280.8 467.4h0M281.9 468.2h0M282.3 464.7h0M281 464.2h0M285.6 466h0M285.7 466.3h0M285.3 467.7h0M283.6 465.9h0M283.4 462.7h0M283.8 462.9h0M284 463.1h0M281.5 461h0M281.7 461.2h0M281.8 460.7h0M281.8 456.6h0M281.9 459h0M281.5 457.7h0M281 456.4h0M285.7 460h0M284.4 458.7h0M284.7 458.6h0M283.9 457.8h0M286.8 535.1h0M286.7 535.2h0M288.4 533.7h0M286.2 531.1h0M288.3 530.3h0M288.5 530h0M286.6 532.9h0M286.6 531.3h0M287.3 532.6h0M291.1 533.6h0M290.6 531.5h0M286.2 449.3h0M288.2 448.4h0M286.9 447.4h0M286.6 446.4h0M288.2 446.7h0M287.2 445.7h0M288 445.2h0M287.8 443.8h0M290.6 447.8h0M289.5 444.9h0M290.1 446.2h0M292 503.5h0M292.2 503.8h0M292.8 503.2h0M292.7 504.9h0M293.6 499.6h0M292.5 499.4h0M293.7 499.7h0M296.2 502.9h0M295 500.9h0M297.4 500.5h0M295.4 500.5h0M291.9 477.7h0M294.9 477.6h0M292.6 477.4h0M293 475h0M293.6 476.3h0M294.3 475.4h0M294.8 476.1h0M296.7 479.5h0M297 478.5h0M296.6 474.9h0M297.5 475.1h0M300.9 520.8h0M300.3 523.2h0M298.1 519h0M298.7 519.8h0M300.5 518.9h0M298.8 520.2h0M301 521.2h0M303.7 522.8h0M303.5 519.6h0M301.2 519.3h0M301.8 519.4h0M300.7 505.2h0M299.1 502.3h0M298.2 503.3h0M299 501.7h0M299.9 501.1h0M303.2 503.9h0M302.2 504h0M303.8 502.5h0M303.7 503.9h0M301.9 500.1h0M303.9 501.2h0M299.9 471h0M300 468.7h0M301.3 473.8h0M302.2 471.5h0M303.1 472.2h0M303.3 470.9h0M301.8 469.4h0M303.3 469.3h0M301.5 471.2h0M301.8 470.2h0M301.6 470.6h0M300.6 455.8h0M299.1 450.6h0M302.5 454.5h0M303.6 454.8h0M301.3 455.6h0M302.3 455.9h0M301.7 451.8h0M303.6 451.9h0M302.3 452.4h0M301.8 450.9h0M301 449.8h0M318.5 436.1h0M318.4 434h0M318.2 432.2h0M317.1 433h0M317.8 432.9h0M321.5 435.3h0M321.2 436.6h0M319.4 436.9h0M321.7 434.5h0M321.7 432.9h0M321 431.7h0" stroke="#28bceb" stroke-width="3.0" stroke-linecap="round" fill="none"/><path d="M179 471.8h0M176.5 472.6h0M178.6 469.8h0M180 471.7h0M181.6 473.8h0M181.9 472.4h0M179.9 469.4h0M180.5 471.2h0M180.7 471h0M180.4 471.1h0M180.5 469.5h0M179.5 469.9h0M184.1 482.3h0M184.3 481.2h0M183.1 482.3h0M183.5 481.7h0M184.5 483.6h0M185.1 481.3h0M188.3 484.4h0M186.7 483.9h0M185.6 486.6h0M185.6 482.2h0M186 482h0M185.6 483.7h0M184.8 472h0M183.3 472.8h0M184.6 471.8h0M184.5 471.9h0M185.2 473.8h0M183.7 473.5h0M182.8 474.4h0M183.4 470.1h0M183.7 471.2h0M187.5 473h0M186.7 469.1h0M185.9 470.6h0M184.4 437h0M184.2 435.4h0M183 436.8h0M185.4 432.9h0M182.8 432h0M185.8 437.3h0M186.6 435.7h0M185.7 436.9h0M188.1 436.5h0M187.9 432.8h0M186.6 433h0M186 432.3h0M189.6 651.9h0M190.8 650.5h0M190.3 651.1h0M189.3 650.1h0M189.8 650.1h0M190.7 648.1h0M189 646.9h0M193.4 652.4h0M194.3 651.3h0M194.2 652h0M192.9 649.9h0M194.2 648h0M191 480.3h0M191.5 479.1h0M189.3 479.9h0M189.4 475.5h0M188.8 476.3h0M189.6 477.3h0M189.2 477.1h0M191.9 477.7h0M194.4 476.9h0M193.9 476.6h0M193.3 477h0M191.8 476.3h0M189.1 454.6h0M190.1 453.1h0M190.7 454.5h0M191.1 453.8h0M188.6 454.7h0M191 454h0M189.1 454.6h0M188.5 450.8h0M194 455.1h0M192.6 452.6h0M192.7 450.4h0M194.2 452.2h0M194.6 538h0M195.8 537.7h0M199 541h0M198.3 541.1h0M198.4 542h0M198.6 540.2h0M200.1 540.3h0M199 541.6h0M199.7 536.9h0M199.9 538h0M199.6 538.5h0M200.5 538.1h0M196.7 523.5h0M195.6 523.4h0M196.2 522.2h0M197.5 522.6h0M195 519h0M196.7 517.7h0M197.2 520.6h0M197.1 517.9h0M197.9 521.6h0M198.3 520.5h0M198.5 518.4h0M200.4 518.1h0M195.5 443.4h0M196.8 442.3h0M197.4 439.7h0M195.8 438.1h0M198 441.9h0M200.2 443h0M197.6 441.2h0M198.7 442.5h0M197.9 437.9h0M198.7 437.7h0M199.4 440.6h0M198.1 439.6h0M201.4 582h0M202.9 581.3h0M203.1 580.1h0M202.9 580.7h0M202.6 580.2h0M201.5 581.1h0M203.4 579.5h0M204.2 585.2h0M206.7 583.4h0M204.4 584.2h0M206.3 582h0M205.5 581.9h0M201.3 558.1h0M201.3 557.6h0M202.1 558h0M200.7 556h0M201 556.5h0M202.6 557.4h0M204.6 559.9h0M206.3 559.1h0M204.9 557.2h0M204.3 556.6h0M204.7 556.7h0M204.3 556.9h0M208.5 539.1h0M207.2 541.7h0M206.8 540.8h0M207.2 541h0M207.7 541.4h0M206.8 536.9h0M207.2 537.5h0M210.3 541.9h0M212.3 540.3h0M211.2 541.7h0M210.8 539.9h0M210.3 539h0M207 535.2h0M208.7 534.2h0M209.2 533.7h0M209.5 533.4h0M207.5 535.3h0M208.3 531.1h0M207 531.2h0M210.9 533.4h0M211.6 533.1h0M210.1 534.9h0M209.9 531.6h0M211.5 532.3h0M209.3 379.6h0M207.1 380.5h0M208 379.2h0M208.3 377.2h0M212.7 379.3h0M210.8 380.4h0M212 379.3h0M211.9 381.7h0M210.6 379.7h0M211.7 381.7h0M210.3 376.2h0M211.1 377.8h0M208.1 360.9h0M208 362h0M208.3 363.1h0M209.4 361h0M207.4 360.7h0M209.6 360.8h0M211.6 360.7h0M212.4 361.8h0M212.1 358.9h0M211.2 359.4h0M211.2 358.7h0M210.7 359h0M219 633h0M219.1 632.9h0M221.5 632.8h0M218.9 632.5h0M219.6 632.7h0M220.3 630.6h0M220.7 630.5h0M219.2 629h0M224.2 630h0M223.7 629.2h0M223.6 630.5h0M223.6 631.1h0M219.3 447.9h0M221.8 449.5h0M221.4 445.6h0M220.1 443.7h0M219.5 446.7h0M221 445.5h0M222.5 447.1h0M223.4 446.5h0M223.9 444.3h0M224.7 446.2h0M223.8 444.1h0M223.9 444h0M221.5 437.3h0M219.5 435.9h0M220.1 434.6h0M220.1 433.8h0M219 432h0M221.6 434.4h0M219.4 433.7h0M222.1 437.2h0M222.5 435.9h0M222.8 436.4h0M222.8 433.4h0M223.7 432.3h0M227.8 576.9h0M227.6 577.2h0M226.5 575.2h0M226.1 574.2h0M227.2 574.4h0M225.8 573.8h0M225.5 574.8h0M229.3 576.8h0M229.6 573.6h0M230.4 575.1h0M230.5 573.5h0M228.3 573.8h0M225.4 570.8h0M227.3 572.7h0M226.3 572.5h0M225.2 571.3h0M225.3 567.5h0M227 568.1h0M229.6 571.3h0M230.3 571.3h0M229.9 569.9h0M228.8 567.1h0M230.3 569h0M228.1 569.4h0M225.7 465.2h0M225.6 466.8h0M226.3 463.1h0M226.3 462.9h0M226.6 464.1h0M228.6 467.2h0M228.9 466.7h0M231 466.6h0M228.7 462.2h0M229.2 462.9h0M228.1 462.4h0M228.2 464.3h0M227.7 405.9h0M227.1 403.6h0M225.6 402.9h0M228.1 404.4h0M230.5 403.9h0M229.2 405h0M229 404.2h0M228.1 403.5h0M230.6 401.2h0M228.5 403.1h0M230.3 403.5h0M228.3 401.3h0M233.7 593.6h0M232.4 591.5h0M231.7 593.8h0M236.6 596h0M235.8 595.8h0M234.7 594.8h0M235.2 596.6h0M236.1 593.4h0M236.2 591.7h0M236.6 593.2h0M236.7 592.9h0M237 592.8h0M232.9 572.4h0M233.3 572.6h0M232.3 567.8h0M233.8 569.4h0M233.5 568.8h0M231.6 569.6h0M232.5 568.4h0M236.5 572.6h0M234.7 571.1h0M235.2 569.9h0M235.1 572.5h0M236.7 568.8h0M232.2 368h0M233.3 367.2h0M233.4 367.2h0M232.6 369.1h0M233.2 363.9h0M231.9 364.3h0M232 366.6h0M235.9 366.8h0M236 364.6h0M234.8 365.3h0M234.5 365h0M235.1 364.9h0M239.5 613.2h0M238.9 614.7h0M239 614.2h0M240 614.4h0M237.2 615.6h0M238.7 612.5h0M238.4 610h0M238.7 610.7h0M242.3 615.8h0M240.5 611.1h0M242.7 612.7h0M242.3 610h0M240 406.6h0M238.5 406.7h0M239.1 404.1h0M239.6 401.5h0M242.3 406.3h0M242.8 401.5h0M242.1 401.4h0M242 402.2h0M240.7 401.1h0M241.4 401.4h0M241.7 403h0M241.5 402.3h0M246.2 613.2h0M244.1 615.5h0M244.3 614.7h0M244.8 614.8h0M245.7 611.3h0M244.1 612.7h0M243.8 611.8h0M245.3 612.8h0M248.7 614.6h0M246.4 613.7h0M248 611h0M249.2 610.8h0M244 570.5h0M246.2 572.7h0M245.2 570.8h0M245.1 570.5h0M243.8 569.2h0M245.3 568h0M247.7 572.9h0M248.9 571.4h0M249.1 568.5h0M247.1 568.1h0M247 568.5h0M248.9 567h0M244 442.3h0M244.6 441.9h0M246.2 443.5h0M243.6 440.7h0M243.4 440.9h0M244.3 438.6h0M245.1 437.8h0M248.1 441.5h0M246.6 441.2h0M248.6 439.9h0M248.9 439.9h0M246.7 440.4h0M251.6 570.4h0M251.4 571.7h0M250.6 570.5h0M250 571.2h0M251.1 570.6h0M251.2 568.5h0M250.7 567.6h0M251.4 567.1h0M255.3 572.5h0M254.4 572.6h0M253.1 569.7h0M253.9 568.8h0M258.2 440.9h0M257.6 440h0M256 437.6h0M256.4 438.1h0M257.8 438.1h0M258.4 443h0M261.4 442.7h0M258.8 441.1h0M261.3 441.2h0M260.4 438.1h0M259.1 437.7h0M260.6 439.7h0M256.8 398h0M256.6 397.8h0M255.6 397.9h0M257.6 397.8h0M255.5 395.8h0M255.4 397.2h0M260.2 400.6h0M259.4 399.4h0M258.8 397.7h0M260.6 399.4h0M259.4 395.6h0M258.8 397h0M262.5 594.5h0M262.2 596h0M263.6 592.6h0M261.6 592.3h0M265.3 594.9h0M266.6 595.1h0M266.1 595h0M265.3 594.6h0M265.8 595.7h0M265.6 592.4h0M265.6 594.1h0M266.5 592.7h0M262.6 565.6h0M263.3 565.3h0M261.6 562.5h0M264 563.4h0M264.2 563.2h0M264.3 561.7h0M262.6 560.7h0M263.8 562.9h0M265.1 565.2h0M265.5 566h0M266.8 560.8h0M266.6 562.8h0M261.6 554h0M264.4 553h0M262.1 551.9h0M264.2 552.9h0M263.7 550.3h0M262.4 548.5h0M262.4 550.9h0M263.6 550.9h0M267.2 553.3h0M265.5 548.7h0M265 551.3h0M267.4 550.3h0M262.1 541.1h0M261.6 539.6h0M261.7 540.1h0M262.2 541.6h0M262.2 538.8h0M262.8 536h0M264.6 541.3h0M266.5 540.9h0M267.5 538.6h0M265.4 538.1h0M266.9 538.1h0M267.3 537.4h0M264.1 528.2h0M262.4 529.6h0M262.6 527.9h0M262.8 528h0M264.3 526.5h0M263.4 524.5h0M265 529.1h0M266.6 527.9h0M267.5 526.5h0M264.8 525.3h0M267.4 526.5h0M266.3 524.3h0M263.7 516h0M261.8 514.7h0M263 511.6h0M261.5 513.1h0M263.6 512.8h0M262.9 514.1h0M263.1 513.9h0M267.2 515.7h0M265.5 516h0M266.5 517.4h0M265.5 514.1h0M266.8 513.8h0M263.6 433.1h0M264.1 434.1h0M263.5 432.4h0M261.8 432.3h0M266.1 436.2h0M267.4 436.9h0M267.2 435.1h0M267.4 437.5h0M267.2 431.7h0M267.4 432.2h0M266.3 434.2h0M267 433.2h0M261.8 399.6h0M262.5 400.2h0M263.5 400.5h0M262.3 399.1h0M264.1 400.3h0M264.1 398.8h0M261.9 400h0M261.7 400.3h0M265.1 398.9h0M265.7 400.2h0M266.9 396.2h0M266.3 396h0M270.3 428.7h0M270.4 428.4h0M268.8 429.3h0M268.3 429.7h0M270.3 430.6h0M267.9 426.8h0M269.6 426.2h0M268.9 427.3h0M273 430.5h0M272.4 427.4h0M273.2 425.9h0M272.1 425.9h0M269.9 393.8h0M268.8 391.7h0M268 393.3h0M268.6 392.3h0M268.5 393h0M269.2 389.1h0M270.3 389.1h0M273.3 394h0M273 390.9h0M272.6 390.8h0M270.9 390.6h0M270.6 388.6h0M276.5 547.8h0M276.2 544.5h0M274.1 543.7h0M278.4 545.3h0M277.2 548.2h0M277 545.8h0M277.5 546.3h0M277.7 545.5h0M276.9 547h0M277.7 544h0M279.1 543.5h0M279 544.7h0M274.1 461.3h0M274.2 461.9h0M273.7 459.4h0M275.9 461.8h0M274.7 459.8h0M273.9 461.7h0M275.4 457.6h0M273.7 456.3h0M275.6 456.3h0M274.6 456.7h0M275.3 458.1h0M277.1 460.9h0M276.5 423.9h0M276.6 422.4h0M276.5 422.8h0M276.3 423.9h0M276 421.1h0M274.7 419.3h0M274 420.3h0M278.6 423.4h0M278.9 419.3h0M277.2 419.2h0M277.1 422h0M279.6 420.8h0M274.9 406h0M275.5 404.2h0M275.2 403.6h0M274.3 403.2h0M274.3 401.2h0M274.3 401.8h0M278.6 405.7h0M276.8 406.1h0M277 403.9h0M277.6 404.4h0M278.8 405.5h0M276.8 402.9h0M280 496.8h0M280.3 498h0M281 495.9h0M281.5 493.8h0M282.6 494.6h0M282.4 493.1h0M284.1 497h0M285.2 497.8h0M285.3 497.7h0M284.7 498.7h0M285.8 494.1h0M283.9 493.1h0M286.1 466.9h0M287 463.6h0M286.8 464.9h0M288.2 463.9h0M289.8 466.3h0M289.3 466.7h0M289.6 467.8h0M291.4 465.3h0M290.9 463.2h0M289.4 463.6h0M290.9 463.7h0M290.3 463.3h0M292 490.9h0M292.7 490.7h0M293.5 492.7h0M293.6 489.2h0M294.1 487.2h0M295.1 492.1h0M294.9 491.6h0M295.4 490.2h0M296.9 486.9h0M295.8 487.5h0M295.6 489.1h0M295.2 488.2h0M299.2 554.2h0M298.4 552.7h0M298.6 552.1h0M300 551h0M303 553.1h0M301.1 550.2h0M303.2 549.6h0M302.5 550.6h0M303.6 550.7h0M303.3 550h0M302.8 549h0M301.2 548.4h0M300.1 449.6h0M300 447.9h0M298.8 447.9h0M300.1 444h0M300.7 446.2h0M303 447.5h0M302.5 447.5h0M302.7 447.7h0M302.4 449.8h0M303.3 444.4h0M301.7 444.6h0M303 446.7h0M300.6 436.4h0M300.6 434.7h0M298.7 436.1h0M298 435h0M301 436.8h0M299.1 432.5h0M299.9 434.4h0M300.2 431.5h0M298.7 433.2h0M302.4 434.9h0M304 436.9h0M302.8 433h0" stroke="#1fc9dd" stroke-width="3.0" stroke-linecap="round" fill="none"/><path d="M178.4 496.6h0M180.8 496.4h0M181.8 498.2h0M179.5 498.4h0M182.3 498.4h0M179.7 495.2h0M180.2 494.8h0M179.9 495.5h0M181.8 494.5h0M181 493.4h0M179.7 494.1h0M180.9 493.9h0M179.6 493.3h0M177.4 481.1h0M178.3 483.2h0M178.2 482.2h0M180.3 484.1h0M180.7 485.5h0M180.6 485.6h0M179.6 485.6h0M179.7 484.3h0M181.8 481.8h0M181 481.1h0M180.9 481.6h0M181.6 483.6h0M180.1 483.4h0M185.2 541.4h0M182.7 538.4h0M184.8 538.3h0M183.6 536.6h0M182.7 537.1h0M184.4 538.5h0M187.1 539.3h0M188.3 541.8h0M187.6 541.5h0M187.4 539.4h0M186.5 536h0M188.1 536.8h0M187.3 536.4h0M183.6 504.7h0M183.7 504.6h0M183.4 504.1h0M185 502.3h0M183.9 499.6h0M182.6 501.8h0M186 503.8h0M186.6 504.6h0M188.4 504.3h0M185.6 504.2h0M186.1 501.1h0M185.5 499.1h0M188.1 500.3h0M185.3 441.4h0M182.7 442.8h0M185 442.5h0M185.1 442.9h0M184.5 439.7h0M184.9 439.9h0M184.4 438.3h0M186 441.2h0M185.8 441.1h0M185.5 442h0M187.7 443.1h0M185.7 438.1h0M187.6 438.1h0M189.5 496.3h0M189.4 497.9h0M189.9 497.1h0M190.2 497.1h0M189.7 492.9h0M189.5 494.8h0M192.4 496.9h0M193.8 496.5h0M193.2 498.5h0M191.7 498.4h0M193.6 498.1h0M194.2 497h0M192.9 493h0M188.6 431.2h0M189.2 425.5h0M189.4 425.6h0M194.5 430.8h0M193.4 429.3h0M192 430h0M192.6 428.6h0M194.5 429.5h0M193.1 429.3h0M193.3 429.1h0M194.4 425.9h0M193 428.2h0M194.5 426.3h0M190 416.2h0M188.6 417.9h0M191.4 417.3h0M191.4 418.7h0M191 416h0M192.6 416.1h0M193.7 417.3h0M192 417.5h0M194.4 417.8h0M193.6 418.7h0M194 418.8h0M192.8 415.3h0M194.1 413.9h0M195.2 596h0M195.3 595.4h0M197.1 595.3h0M194.8 596.3h0M196.5 593.5h0M196.6 591.8h0M194.8 594.1h0M195.7 591.4h0M195.9 592h0M198.5 597.2h0M198.6 593.9h0M200.1 591.6h0M197.8 592.3h0M195.5 478.3h0M196 478.8h0M195.9 478h0M195.3 478h0M194.7 475.2h0M195.6 476.4h0M196.3 476.9h0M194.9 477h0M195.9 474.8h0M198.8 480h0M199.3 480.1h0M198.8 476.5h0M200.4 475h0M200.8 566.3h0M200.9 563h0M201.6 562.7h0M203.5 563.3h0M204.2 564.9h0M205.7 564.8h0M205 565.1h0M205.3 561.8h0M203.8 561.7h0M204.8 561.2h0M203.8 562.8h0M206.6 563.6h0M204.5 563h0M202 541.7h0M201 539.3h0M201.6 540.6h0M202 537.1h0M202.8 538h0M202.6 537.1h0M204.5 539.8h0M205.8 540.1h0M204.5 539.9h0M205.3 541.5h0M205 537h0M205.5 536.1h0M204.8 538.6h0M207.9 620.6h0M209.7 620.5h0M206.9 617.3h0M209.1 618.7h0M206.8 616.8h0M209.3 617.4h0M210.2 621.7h0M209.9 620.2h0M211.1 621.9h0M210.9 618.9h0M211.3 616.7h0M210.1 617h0M210 618.2h0M213.8 640.3h0M213 638.5h0M215.5 640.1h0M215.6 639.2h0M212.8 635.6h0M213.8 637.4h0M215.5 635.6h0M215.6 635.1h0M216.2 638.8h0M218.9 640.2h0M216.1 638.3h0M216.2 636.8h0M217.9 635.2h0M214.3 614.3h0M213 613.3h0M215.7 614.2h0M214 612.9h0M213.3 610.2h0M215 610.7h0M217.6 615.9h0M217.4 614.2h0M217.1 614.1h0M218.8 613.1h0M217.5 615.9h0M218.4 610.8h0M218.1 611.9h0M213.5 404.2h0M213.2 405.9h0M214.6 404h0M215.3 406.5h0M213.7 406.5h0M214.6 401h0M215.6 401.3h0M214.3 403.5h0M215 402.8h0M217.2 404h0M218.7 400.9h0M218 400.6h0M217.2 400.7h0M213.8 392h0M215.3 390.2h0M214.9 388.8h0M218.3 393.8h0M216.1 393.8h0M216.7 393.2h0M217 393.4h0M216 393.8h0M217.5 389.7h0M218 389.3h0M216.4 390.1h0M216.9 389.3h0M218.5 391.2h0M219.5 627.2h0M220.5 627.2h0M220.1 626.5h0M220.1 625.7h0M220.9 624.6h0M221.9 625.1h0M220.4 625.1h0M223.6 628.1h0M222.8 623.5h0M222.4 625.1h0M222.3 622.9h0M222.5 624.1h0M224.1 623.3h0M220.1 431.2h0M219 430.9h0M220 430.8h0M219.7 428.6h0M219.5 431.2h0M220.9 428.2h0M220 426.6h0M219.9 425.4h0M219.2 426h0M221.6 425.7h0M224.3 426h0M223.7 426.3h0M222.7 426.7h0M225.7 615.5h0M226.1 614.5h0M228 613.8h0M227.3 610h0M226.8 610h0M227.6 611.6h0M225.3 611.8h0M229.3 615.5h0M231 615.2h0M229.8 613.5h0M230.6 609.9h0M230.1 610h0M230.5 612.8h0M232.9 411.8h0M232.8 411.9h0M233 412.6h0M231.8 410.9h0M233.3 409.2h0M234 407.8h0M231.2 407.6h0M232.5 409.4h0M231.9 408.1h0M236 411.3h0M234.8 411.3h0M234.7 410.7h0M234.4 411.5h0M231.7 400h0M232.1 399.6h0M234 397.9h0M231.1 397.7h0M232.8 395.5h0M232.7 397.4h0M231.9 394.7h0M231.6 394.6h0M234.8 398h0M235.9 399.9h0M236.5 397.2h0M235.9 397.5h0M235.4 396.5h0M238.6 626.7h0M239.1 626.3h0M239.5 628.2h0M239.5 626.6h0M238.4 623h0M238.6 622.3h0M239.6 625h0M237.8 622.8h0M240 624.8h0M237.7 625.1h0M241 628.1h0M242.8 626.1h0M241.7 623h0M239.6 571.5h0M239.2 570.5h0M237.3 572.2h0M238.3 571h0M238.7 567.3h0M240.1 567.1h0M240.8 572.8h0M242.4 572h0M241 570.8h0M240.5 567.2h0M242.7 567.5h0M242.8 568.1h0M242.4 569.8h0M239.2 527.6h0M238.1 527.2h0M237.3 524.6h0M238.5 526.7h0M237.8 525.7h0M238.5 524.6h0M238.8 524.8h0M243 529.3h0M241.5 529.2h0M243 529.3h0M241 526.2h0M240.4 525.9h0M241.5 525.1h0M244.1 638.2h0M246.2 639.3h0M244.5 638.2h0M244.7 639.8h0M245.6 635.1h0M243.7 636h0M246.6 639.6h0M247.5 639.4h0M247.1 639.6h0M249.2 640.3h0M248.9 635.1h0M249 636.4h0M249.2 636.4h0M243.6 529.8h0M245.3 528.8h0M244.7 526.4h0M245.1 524.7h0M243.6 523.8h0M247.3 527.7h0M249.2 529.2h0M246.4 528.1h0M248.5 529.7h0M247.3 527.3h0M248.1 525.2h0M247.3 524h0M249.2 526.6h0M246.2 399.2h0M243.7 400h0M245.4 395.7h0M248.4 399.4h0M248.5 400.6h0M247 398.3h0M246.9 398.3h0M248.9 397.1h0M247.9 396.3h0M248.5 396.5h0M249.3 397.4h0M248.9 396.9h0M248.3 395.5h0M243.2 392.6h0M244.2 392.3h0M245.3 393.4h0M244.5 393.2h0M245.2 393.4h0M244.3 393.9h0M246.7 394.4h0M248.1 392.5h0M247.1 393.2h0M247 392.2h0M247.9 389h0M246.8 388.7h0M246.4 388.8h0M249.3 406.3h0M250 406.6h0M249.6 404.1h0M249.5 405.7h0M252.2 403.4h0M250.4 402.6h0M250.4 401.9h0M250.7 401.1h0M251.9 402.7h0M252.6 404.3h0M253.4 405.3h0M252.4 401.3h0M253.5 401.3h0M255.6 596.5h0M256.4 595.2h0M256.7 593.7h0M255.5 593.9h0M256.7 591.8h0M257.6 594.3h0M256.9 591.5h0M260.7 595.9h0M260.2 595.6h0M260 597.1h0M258.6 595.9h0M259.3 595.9h0M261 593.4h0M256.5 591.1h0M255.9 589.7h0M257.7 587.3h0M256.5 586.7h0M255.8 585.9h0M257.1 585.6h0M260.4 590.2h0M258.6 590.2h0M259.4 590.2h0M259.3 589.5h0M260.1 585.5h0M259.3 587.1h0M258.5 587.4h0M256.2 584h0M258.1 581.1h0M256.7 580.1h0M256.4 581.1h0M259.2 583.2h0M260.1 584h0M261 583.6h0M260.9 582.6h0M260.4 585.1h0M261.3 582.1h0M261.2 579.9h0M260.2 579.1h0M259.5 579.4h0M257.8 526.9h0M255.8 528.6h0M256.9 523.9h0M256.5 523.8h0M256.4 526.7h0M257.7 525.7h0M259.1 527.4h0M259.6 527.8h0M259 527h0M260 529h0M259 529.5h0M258.6 525.6h0M258.4 524.2h0M262.2 591.3h0M263.9 588.9h0M262.8 588.7h0M263.4 590.5h0M263.5 588h0M261.8 588h0M263.9 587.7h0M265.6 590.5h0M264.5 589.6h0M265.1 589.9h0M265.1 590.9h0M267.2 586.5h0M264.5 586h0M264 578.7h0M263.4 578.7h0M262 577.8h0M263.7 578.3h0M261.9 574.8h0M265.9 577.5h0M264.5 577.8h0M267 579h0M265 578.1h0M265.4 575.7h0M265.5 574.6h0M264.5 574.5h0M266.7 574.2h0M274.2 516.1h0M273.8 516.1h0M276.4 516.3h0M275.7 512.6h0M274.2 512.7h0M278.2 515.6h0M279 514.9h0M277.6 514.9h0M279.6 513.2h0M279.4 513.9h0M278.2 512.4h0M278.5 513.4h0M279.6 513.5h0M275.2 502.4h0M274.1 504.6h0M276.1 502.3h0M275 500.7h0M278.8 504.6h0M279.6 504.3h0M278.4 502.7h0M278.3 504.4h0M276.8 502.3h0M277.7 499.2h0M278.9 501.4h0M279.7 500.6h0M278.4 500.9h0M275.9 416.2h0M276.3 419h0M275.2 413.6h0M276.5 413.3h0M278.4 416.5h0M277.6 417.6h0M277.2 418.2h0M279.7 418.5h0M276.9 416h0M278.8 417.7h0M279 415.6h0M277.5 413.6h0M277 413.4h0M281.4 553h0M280 552.5h0M280.7 550.4h0M280.9 551.3h0M280.1 549h0M282.9 553.1h0M284.6 552.3h0M284.3 553.7h0M283.7 548.7h0M284.5 549.8h0M284 548.3h0M284.6 550h0M284.7 550.2h0M280.7 547.5h0M281 545.6h0M280.1 543.3h0M282.5 543.7h0M282.4 543.3h0M281.7 543.1h0M281.6 542.9h0M281.3 544.4h0M284.7 547.2h0M283.2 546.8h0M284.9 546.7h0M283.2 545.1h0M282.8 544.6h0M282.3 540h0M282.7 540h0M280.2 540.5h0M281.1 537.6h0M281.7 536.9h0M282 538.7h0M280.9 536.5h0M285.5 539.9h0M283.4 541.9h0M284.2 540.6h0M283.6 540.1h0M284.9 540.2h0M285.7 537.7h0M280.4 509.6h0M282.6 510.9h0M282.5 509.3h0M281.5 509h0M281.5 509.7h0M279.9 510.1h0M282.1 505.6h0M282.6 505.8h0M285.6 511h0M284.2 509.3h0M285 508.6h0M282.8 505.3h0M282.8 507.6h0M281.9 492.4h0M279.8 488.4h0M280.1 487.6h0M281 488.7h0M285.2 490.7h0M285 490.1h0M284.7 492.8h0M285.6 491.7h0M284.9 492.7h0M282.9 491.9h0M285 491.8h0M284.8 487.1h0M283.2 488.7h0M282.7 441.9h0M281.8 442.3h0M279.9 441.2h0M281.5 442.4h0M280.1 437.7h0M281.6 439h0M282.5 439h0M282.6 438.6h0M281.1 439.6h0M283.9 443.2h0M283.3 442.2h0M284.4 442.7h0M284.5 439h0M288.3 511.2h0M288.4 509.2h0M286.3 510.4h0M288.3 511h0M287 505.9h0M288.2 506.8h0M291.3 508.4h0M290.3 509h0M291.1 510.8h0M290.9 511.2h0M291.5 509.7h0M291.2 510.4h0M290.8 508.1h0M288.3 453.6h0M287.4 455.3h0M286.1 455.5h0M287.2 450.9h0M288.8 451.9h0M285.8 450.4h0M285.8 451.7h0M289 453.9h0M291.5 456h0M291.8 453.9h0M289.2 454.3h0M289.2 450.4h0M289.6 452.6h0M294.4 485.4h0M292.5 482.3h0M294.2 482h0M293.4 482.6h0M292.8 482.6h0M297.9 486.2h0M296.2 484.3h0M296.6 483.8h0M297 484.9h0M297.2 484.6h0M295.1 485.3h0M295 484.3h0M297.3 482.3h0M291.9 459.7h0M293.2 457.7h0M293.8 458.8h0M292 456.7h0M295.8 460.5h0M295.6 459.3h0M295.8 459.6h0M296 460.6h0M297.1 461.3h0M297.4 456.1h0M296.4 456.8h0M297.9 458h0M295 457.8h0M300.8 485.5h0M300.4 484h0M299.7 483h0M298.4 482h0M298.5 480.9h0M300.9 482.3h0M303.8 485h0M303.3 486.7h0M301.5 486.6h0M304 484.3h0M303.3 484.2h0M301.9 481.8h0M301.3 482.3h0" stroke="#19d5cd" stroke-width="3.0" stroke-linecap="round" fill="none"/><path d="M177.6 440.8h0M177.1 441.8h0M177.7 443.2h0M176.6 440.1h0M177.1 438.3h0M177.1 438.7h0M181.4 442.4h0M181.4 441.4h0M182.1 442.4h0M180.3 440.8h0M180.2 439.3h0M179.5 437.7h0M179.5 439.4h0M180.4 438.4h0M179.3 412.5h0M179.1 412.4h0M176.5 409.3h0M178.1 407.4h0M176.7 407.8h0M181.8 410.7h0M180.6 411.2h0M181.8 411.9h0M180 410h0M180 410.4h0M181.5 408h0M181.9 408.7h0M182.2 409.4h0M180 406.8h0M183.3 523.4h0M185.3 518.4h0M185.1 520.2h0M183.5 517.9h0M185.4 517.6h0M185.3 520.5h0M188.3 523.1h0M188.2 521h0M186.1 519.7h0M186.1 518.6h0M185.9 519.4h0M187.5 518.4h0M187.1 519.5h0M185.9 518.6h0M188.9 447h0M189.9 449h0M189.8 444.4h0M190.7 445.4h0M188.7 445.1h0M191.7 447.2h0M191.6 449.1h0M192.8 447.2h0M193.5 448.1h0M194.3 444h0M191.8 443.8h0M194.2 446.7h0M193.7 444.9h0M192.2 445.2h0M201.5 471.9h0M202 474.4h0M201.2 472.5h0M203.3 473.1h0M203.2 470.4h0M200.9 470.5h0M201.4 470.3h0M203.1 471.2h0M204.2 471.4h0M204 473.3h0M205.2 473.8h0M204.3 469.6h0M204.3 469.2h0M205.8 468.6h0M201.8 448.2h0M203.3 449.4h0M201.7 443.9h0M202.6 445.9h0M201.4 446h0M204 449.2h0M205.9 449.4h0M204.9 447.5h0M205.8 448.8h0M206 447.8h0M204.6 448.2h0M204.8 445.6h0M204.3 445.9h0M204.4 444.5h0M209.6 632.9h0M206.9 633.3h0M209.5 633.2h0M207.7 632.7h0M208.1 631.7h0M208.1 630.2h0M212.7 632.6h0M210.9 632.7h0M212.4 634.1h0M212.4 631.7h0M209.9 633.9h0M211.1 630.2h0M212.4 628.3h0M212.2 629.9h0M207 587.8h0M208.1 586.5h0M207.6 585.4h0M209.3 585.4h0M209.6 586.2h0M211.4 589.6h0M212.6 590.1h0M211.6 590.6h0M212.4 588.9h0M211.2 585.2h0M212.2 585.7h0M210.2 587.4h0M211.6 586.3h0M211.9 587.5h0M213.1 625.3h0M215.5 626.6h0M214.6 627.6h0M214.4 623.3h0M215 622.3h0M214.1 624.9h0M213.7 625.1h0M213.9 623.3h0M216.5 626.6h0M218.7 625.4h0M218.2 624h0M218.2 623h0M216.6 624.7h0M215.9 624.1h0M214 564h0M213.6 565.5h0M215.3 565.5h0M214.5 562.5h0M214.9 561h0M217 565h0M215.9 565h0M216.8 565.6h0M216.8 562.8h0M217.2 561.9h0M218.3 561h0M218.6 562h0M218.9 561.1h0M217.6 561.9h0M214.4 551.5h0M215.3 554.3h0M214 552.4h0M214.9 552.8h0M213.7 551.4h0M214 552h0M213.7 551h0M213.8 549.8h0M217.1 551.4h0M218.8 552.1h0M218.5 552h0M217.2 553.8h0M217.8 550.3h0M217.8 550.9h0M219.2 613.1h0M221.1 615.1h0M219.7 613.3h0M220 611.8h0M219 612.2h0M221.3 610.3h0M220.5 611.6h0M219.3 610.6h0M221.1 610h0M220 612.2h0M224.4 615.2h0M222.7 613.8h0M222 612.2h0M224.3 611.4h0M221.1 590.4h0M220.7 589.3h0M219 590.1h0M221.8 587.3h0M219 586.1h0M220.9 585.6h0M220.8 586.6h0M224.4 590.8h0M222 586.5h0M224.2 585.4h0M222.4 585.6h0M223 587.4h0M222.4 588h0M222 585.4h0M221.3 417.3h0M221.5 417.3h0M219.2 414.5h0M219.1 414.2h0M223 418.9h0M222.9 419h0M222.2 418.4h0M224.1 417.5h0M224.8 415.6h0M224.6 415.4h0M222 415.9h0M223.8 415.6h0M222.9 415.1h0M224.1 412.9h0M220.1 405.1h0M220.7 405.9h0M220 400.8h0M223.9 404.2h0M223.8 403.9h0M223.3 406.7h0M222.9 404.7h0M224.7 404.8h0M224.2 406.1h0M223.1 404.3h0M224.5 404h0M222.4 405.4h0M223.5 400.7h0M224 401.5h0M227.1 534.1h0M225.5 535.9h0M225.5 534.4h0M227.2 531.6h0M227.6 530.8h0M227.1 530.8h0M228.1 533.1h0M229.8 534.8h0M230.4 534.9h0M229.4 533.8h0M229.4 530.9h0M229.3 530.1h0M229.2 530.6h0M228.2 530.5h0M226 510.3h0M226.6 509.6h0M225.3 510.3h0M225.9 506.3h0M226 507.6h0M226.6 505.8h0M225.8 505.3h0M225.5 505.8h0M228.8 509h0M228.6 506.8h0M229.9 506.2h0M228.2 507.5h0M228.4 505.3h0M230.6 505.6h0M226 399.7h0M227.3 398.3h0M227.8 400.4h0M227.9 399.5h0M227.9 396.9h0M226 396.9h0M225.7 395.6h0M228.7 399h0M229.2 398.5h0M229.3 398h0M228.6 397h0M230.9 396.5h0M230.2 396.5h0M229.4 395.5h0M232.4 566.5h0M232 563.7h0M232.3 565h0M232.1 563.7h0M233.6 560.9h0M233.2 563.4h0M232.9 561.1h0M234.3 563.8h0M235.9 565.3h0M234.2 564.6h0M235.5 564h0M235.9 560.7h0M234.3 562.8h0M236.4 561.8h0M239.1 596h0M238.3 596.4h0M238 596.8h0M238.1 596.1h0M239.2 596.9h0M239.2 595.4h0M237.3 592h0M237.3 593.1h0M237.3 594.4h0M239.9 593.1h0M240 594.1h0M241.9 595.3h0M243 596.2h0M241.8 593h0M237.6 515.4h0M238.7 516.4h0M239.9 517.1h0M239.1 514.8h0M237.5 514.3h0M240.1 511.7h0M238.1 513.3h0M237.8 513.7h0M238.4 513.7h0M242.3 517h0M241.3 511.4h0M242 514.2h0M240.4 511.7h0M241.9 512.9h0M239.6 448.4h0M238.5 448.9h0M238.7 448.8h0M239.4 447.5h0M238 447.7h0M239.8 449.7h0M238.3 446.7h0M237.3 444.2h0M239.3 443.8h0M241.9 448.7h0M242.7 446.8h0M240.9 446.2h0M242.2 444.4h0M241.2 443.8h0M244.8 553.8h0M244.8 551.7h0M246 551.5h0M246 553.7h0M244.1 549h0M244.2 548.4h0M243.8 549.5h0M244.6 550.1h0M245.9 550.1h0M247.7 553h0M249.1 553.8h0M249.2 552.8h0M248.9 549.2h0M246.5 548.5h0M258.4 448h0M256.7 447.7h0M257.4 444.1h0M256 445.3h0M256.7 445.7h0M255.9 445.7h0M256.4 445.8h0M256.5 446.7h0M260.4 449.5h0M261 448.5h0M260.6 448.7h0M261 445.9h0M258.6 444.7h0M260 446.5h0M270.4 533.4h0M270.2 534.5h0M268.6 532.7h0M269.3 532.9h0M269.1 530.1h0M270.4 532.4h0M268.5 532.2h0M272.6 534.3h0M271.9 533.4h0M272.8 531.5h0M271.4 530.9h0M271.1 531.8h0M273.2 530h0M271.1 530.7h0M267.9 474.4h0M269 474.4h0M268.8 473.2h0M270.2 469.2h0M269.3 469.5h0M267.6 471.4h0M268.1 469.2h0M270.5 468.9h0M268.7 469.1h0M272.6 471.2h0M273.6 468.5h0M272.4 470.4h0M272.3 469h0M272.9 470.9h0M270 410.7h0M268 410.2h0M269.3 412.1h0M269.9 412.1h0M268.1 411.8h0M269.1 411.5h0M267.9 407.6h0M268.2 407.8h0M268.5 407.3h0M273.2 412.8h0M271.1 408.1h0M273.6 407.9h0M270.8 407.6h0M270.7 408.9h0M274.5 511.3h0M276.4 509h0M275.4 508.2h0M275 505.9h0M278.9 508.7h0M277.3 510.3h0M277.5 509.7h0M278.8 511h0M278 509.7h0M278.5 505.4h0M277.4 506.3h0M279.3 506.8h0M279.2 505.2h0M277.9 508h0M276.4 496.2h0M275.1 498.3h0M273.8 498.4h0M275.8 499h0M276.4 498.3h0M274.8 498.1h0M274.6 493.7h0M275.3 494.8h0M274.8 493.3h0M277 498.6h0M278.4 496.4h0M279.5 496.3h0M277.1 496.3h0M277.3 497.3h0M275.7 456h0M275.7 455.2h0M276.3 453.1h0M276.6 451.2h0M274.1 452.5h0M275.1 452.8h0M278.6 454.7h0M277.2 455.7h0M276.8 454.5h0M278 455.6h0M278.3 454.8h0M278.4 452.4h0M278.5 452.6h0M279.2 452.1h0M276 430.3h0M273.7 429.8h0M276.1 429.6h0M273.8 427.5h0M276.5 426.9h0M276 427.4h0M274.8 426.1h0M278.3 429.2h0M276.8 429.4h0M279 431.2h0M279.1 429.3h0M279.5 427.4h0M277.3 427.1h0M279 426.8h0M281.2 374.8h0M282.7 373.9h0M281.7 373.7h0M282.5 375.7h0M281.8 371.4h0M280.5 370.1h0M282.1 370.5h0M281.4 371.7h0M280.2 372.9h0M284.5 375.4h0M285.3 374.5h0M283.8 375.5h0M284.1 374.3h0M283.9 371.1h0M293.3 454.5h0M293.5 454.1h0M292.3 454.5h0M294.5 454.5h0M293.2 453.3h0M294.6 454.2h0M293 451.9h0M292.5 452.6h0M294.1 450.7h0M296.4 453.1h0M297.1 450h0M296.1 452.7h0M295.9 452h0M296.1 452.2h0" stroke="#19e2bb" stroke-width="3.0" stroke-linecap="round" fill="none"/><path d="M178.1 502.5h0M179.1 504.7h0M178.2 500.4h0M178.6 501.3h0M182.3 503.9h0M181.3 502.8h0M180.7 504.9h0M180.8 504.4h0M180 503.4h0M182.2 500.8h0M181.7 499.2h0M180.6 500.6h0M179.3 501.2h0M179.6 500.2h0M180 499.9h0M185 490h0M183.5 492.5h0M184.3 490h0M183.4 491.5h0M183 487.1h0M184.2 488.2h0M182.7 487.2h0M182.9 489.7h0M187.3 491.2h0M185.8 491.3h0M186 492.7h0M185.7 492.5h0M186.2 489.1h0M188.2 489.6h0M187.5 489.5h0M191 590.1h0M188.6 590.2h0M189.8 588.3h0M191.3 591h0M190.9 585.7h0M189.4 587h0M189.8 586.7h0M191.2 585.5h0M191.6 589.6h0M193 588.3h0M193.5 591.3h0M191.7 588.6h0M193.3 585.8h0M193.8 587h0M192.6 587.8h0M190.1 514.6h0M188.5 514.5h0M189 517.2h0M190.5 516.9h0M189.2 515.5h0M190.5 512.5h0M190.7 513.7h0M191.2 512.5h0M190.9 511.9h0M193.7 517h0M194.3 517.4h0M191.8 514.5h0M194.1 514.3h0M193 513.6h0M191.7 511.5h0M190.1 466.8h0M191 466.8h0M189 465.4h0M188.6 462.3h0M189.4 463h0M189.8 463.2h0M191.9 465.9h0M192.7 466.1h0M192.4 465.6h0M191.7 467.1h0M194.2 466.1h0M193.6 464.3h0M193.6 463.9h0M194.2 462.3h0M193.9 464.5h0M189.1 423.8h0M190.3 420.4h0M189.4 420.4h0M190.1 419.5h0M191.2 420h0M190.2 419.3h0M192 424.3h0M192.8 423.2h0M194.3 421.6h0M194.2 421.4h0M191.7 420.6h0M191.7 419.1h0M191.9 421.1h0M193.4 420.7h0M191.7 422.1h0M194.7 602.2h0M197.3 601.2h0M195.8 598.2h0M195.5 599h0M195.4 600.3h0M195.4 600.3h0M197 597.7h0M195.6 600.2h0M195.3 599.4h0M198.4 602.6h0M200.5 603.4h0M200.3 601.2h0M200.3 602.6h0M200.5 599.4h0M197.8 598.7h0M196.9 509.6h0M194.8 511.2h0M197.6 508.7h0M196.9 509.9h0M194.8 509.6h0M195.6 510.6h0M195.1 511.1h0M196.8 507.8h0M194.6 505.9h0M196.6 506.4h0M194.7 508h0M197.3 508h0M196.5 506.1h0M195.6 507.8h0M196.8 505.5h0M201.9 522h0M203.4 519.4h0M202.2 518.6h0M202.5 517.7h0M203.1 519.4h0M203.1 519.7h0M202.1 520.5h0M203.5 517.6h0M204.1 523.4h0M204 518.9h0M204.8 517.7h0M205.5 519.8h0M206.1 519.5h0M204.1 518.1h0M206.6 517.7h0M209 416.2h0M209.3 417.1h0M208.8 419h0M209.3 418.6h0M207.6 413.9h0M209.3 415.9h0M208.3 414h0M209.4 415.2h0M209 413.3h0M208 414.4h0M211.8 416h0M210.3 417.2h0M210.5 415.1h0M212.4 415h0M212.3 413.8h0M219.4 621.2h0M220.7 622h0M220.6 616.8h0M221.3 618.5h0M219.9 616.1h0M220.5 618.6h0M222.5 619.8h0M224.8 619.9h0M224.8 619.7h0M222.9 620h0M223.4 617.2h0M222.9 616.9h0M223.6 617.6h0M223.7 617.5h0M222.6 617.5h0M221.2 603.5h0M219.5 601.3h0M219.7 597.7h0M220.2 598.4h0M221.9 599.1h0M221.3 598.5h0M224.3 601h0M222.3 602.8h0M222.8 602.8h0M223.9 603.1h0M222.1 602.5h0M223.6 600.5h0M222.7 599.4h0M223.2 600.2h0M224.5 599.5h0M221.3 559.2h0M220 557.6h0M220.5 558h0M219.5 559.1h0M220.6 559.8h0M221.2 557.9h0M221.7 557.2h0M221.6 555.4h0M221.1 555.8h0M224.8 558h0M223.5 556.4h0M222.5 556.2h0M223.9 555.1h0M222 557.3h0M222.4 555.6h0M219 380.4h0M219.4 381.3h0M220.6 379h0M220.6 376.3h0M219.7 376.3h0M219.9 376.8h0M219.7 377.6h0M222.2 380.9h0M224.5 381.8h0M222.5 377.2h0M223.4 376.4h0M222.8 377.4h0M224 376.7h0M222.1 376.1h0M224.2 376.8h0M226.3 449h0M226.3 448.6h0M226.8 449.8h0M225.3 448.7h0M227.8 446.7h0M225 443.8h0M227.1 446.2h0M228.3 449.8h0M228.4 448.4h0M228.7 449.3h0M229.7 449.2h0M228.3 444.6h0M229.9 446.2h0M229.5 444.1h0M228.6 445h0M225.8 418.5h0M226 416.5h0M227.1 417.4h0M227.5 416.9h0M225.1 414.8h0M226 413.8h0M229.5 416.3h0M229.8 418.2h0M229 418.3h0M229.7 417.5h0M230.1 417.3h0M230.8 418.6h0M230.1 415.9h0M230.2 414.9h0M230.8 413.6h0M232.3 607.8h0M231.8 609.1h0M232.4 608.1h0M231.1 607.3h0M231.3 609.3h0M234.1 608.8h0M232.9 608.3h0M233.7 608.3h0M231.5 606.3h0M233.3 604.9h0M235.5 609.1h0M235.3 609.7h0M236.3 607.1h0M235.5 606.3h0M235.9 604.7h0M238.2 578.2h0M238.6 578.9h0M237.8 577.7h0M237.8 578.6h0M240.1 573.6h0M237.8 573.2h0M240.1 574.5h0M238 573h0M242.5 576.6h0M241.1 579h0M240.6 575.6h0M242.3 574.9h0M241.9 573.6h0M241.7 575.2h0M241.8 573.2h0M238 454.8h0M240.1 455.3h0M239.7 455.5h0M238.6 454.9h0M237.6 454.3h0M237.6 454.4h0M239.9 453.8h0M237.3 450.4h0M239.3 450.1h0M238.8 452.6h0M238.1 451.4h0M238.2 450.8h0M242.4 454.7h0M243.1 450.4h0M241.3 450.6h0M239 412.1h0M239.8 409.5h0M237.4 407h0M242.1 412.8h0M241.9 411.3h0M243.1 410.5h0M240.7 412.5h0M241.6 409.9h0M243 412.9h0M241.4 411.8h0M241.9 410.6h0M243 408.4h0M242.5 406.9h0M241.2 408.4h0M242.2 409.4h0M244.2 631.6h0M244 631.4h0M244.8 633.6h0M243.6 629.1h0M245 629.1h0M243.4 629.1h0M249 632.3h0M248 633.3h0M247.1 632h0M248.8 634.1h0M247.2 631h0M247.6 628.4h0M246.4 629.6h0M248.6 630.3h0M248.7 629h0M245.4 564.6h0M243.9 565.1h0M245.3 564.6h0M243.3 561.5h0M244.9 562.1h0M247.7 565.6h0M248.8 565.7h0M248.7 564.1h0M248.2 566.3h0M246.3 564.9h0M248.8 562.5h0M247.1 560.8h0M247.5 562.6h0M246.7 562.4h0M247.5 560.9h0M250.3 608.6h0M251.5 606.8h0M250.8 609.2h0M252.3 609.2h0M251 608.6h0M251.5 604.6h0M250.7 604.2h0M252 604.8h0M251.1 606.5h0M249.4 604.3h0M250.9 605.2h0M252.4 607.8h0M254.7 604.8h0M254.2 605.9h0M252.9 605.7h0M250 577.4h0M251 578.1h0M249.6 574.7h0M250 575.1h0M249.5 573.8h0M249.9 575.7h0M251.8 573.2h0M252.5 578.2h0M253 578.5h0M253.1 578h0M254.2 577.2h0M253.9 578.2h0M254.8 575.3h0M254.1 573.2h0M253.4 573.7h0M251.2 565h0M249.7 566.1h0M250.9 564.2h0M251.7 565.1h0M251.9 566.2h0M250 565.7h0M252.2 566.6h0M250.6 560.6h0M251.3 560.7h0M249.4 562.6h0M251.8 563.4h0M250.4 560.7h0M254.1 565.4h0M254 566.1h0M254.7 565.1h0M250.8 534.3h0M250.3 533.8h0M249.7 533.6h0M249.4 533.9h0M252.2 531.8h0M251.2 531.3h0M249.8 530.6h0M249.7 530.1h0M250 530.9h0M254.1 534.2h0M253.8 535.4h0M254.2 534.2h0M255 532.1h0M252.7 529.8h0M253 532.4h0M250.4 411.5h0M251 410.2h0M252 411.3h0M249.9 412h0M252 410.9h0M250.3 407.6h0M251.9 408.4h0M251.4 408.7h0M254.3 412.6h0M254 411.4h0M252.7 410.8h0M253.7 407.3h0M252.7 408.1h0M254.2 409.4h0M255.1 407.7h0M249.8 386.4h0M251.9 385.5h0M251.9 386.2h0M251.2 383.1h0M252.3 385.2h0M252 383.7h0M252.1 382.4h0M250.7 385.1h0M249.9 384.9h0M252.7 388.2h0M252.4 385.8h0M254.2 387.6h0M254.2 386.5h0M252.9 382.3h0M255.1 383.6h0M257.4 497.9h0M256.7 496.7h0M257.3 497.2h0M256.1 496.5h0M258.2 496.9h0M256.6 496.5h0M255.9 497.8h0M257.4 493.1h0M256.2 495.9h0M257.8 495.3h0M259.8 497.1h0M261.4 493.4h0M258.5 495.6h0M259.1 494.2h0M258.7 495.1h0M256.6 486.3h0M255.5 485.8h0M256.4 484.3h0M256.9 483.4h0M257.7 483.1h0M257.7 480.7h0M257 482.7h0M259.7 484.5h0M260.4 484.8h0M260.9 486.1h0M258.8 485h0M260.1 481.4h0M260.3 480.7h0M260.3 481.4h0M260.4 482h0M257.4 454.2h0M256.7 455.8h0M256.5 455.5h0M257.9 450.5h0M257.5 452.4h0M256.1 450h0M255.4 452.6h0M257.4 449.9h0M255.9 452.9h0M260.8 454.8h0M261.2 454.9h0M258.4 455h0M259.1 452.5h0M260.6 452h0M259.7 452.2h0M257.9 349.3h0M255.5 350.6h0M256.5 346.4h0M258.2 345.3h0M257.3 346h0M261.4 350.3h0M258.8 351h0M260.3 351.1h0M258.7 350.3h0M260.6 348.9h0M260.3 349.3h0M260.6 348.3h0M259.1 347.6h0M258.6 347.6h0M259.6 346.9h0M264.2 557.7h0M263.2 557.9h0M262.7 559.7h0M261.6 559.5h0M263.5 559.6h0M263.4 557.6h0M264.3 557.8h0M262.9 557.9h0M263.7 555.4h0M264.4 555.6h0M263.3 556.8h0M265.2 557.5h0M265.7 560.5h0M265.9 557.3h0M265.1 554.9h0M262.2 479.2h0M263.4 477.6h0M263 479.3h0M264.2 478.8h0M263.7 477.2h0M262.2 476.8h0M262.9 475.2h0M263.2 476.5h0M265.9 480.2h0M266.8 479h0M265.9 479.6h0M266.8 479.2h0M265.2 480.4h0M266.7 476.1h0M265.1 476.1h0M268.2 547.6h0M269.8 547.9h0M270.2 545.7h0M267.7 542.2h0M268.3 542.8h0M269.1 544.7h0M270 544.4h0M271.8 547.2h0M273.3 546.9h0M270.7 547.7h0M272.4 546h0M273.3 546.6h0M272.3 545.2h0M271.9 548.3h0M271.6 544.6h0M270.4 510.5h0M269.5 510.8h0M267.9 509.8h0M269.6 509.8h0M268.2 510h0M268.5 507.4h0M269.4 507.7h0M269.5 506.8h0M268.7 506.5h0M269.7 508.2h0M273.5 511h0M272.8 509.1h0M271.4 510.7h0M271.2 506.1h0M272.3 507.6h0M269.9 477.5h0M270.2 479.6h0M269.9 479.8h0M269.6 479.6h0M270.2 479.9h0M270.4 474.8h0M268.1 476.2h0M269.8 476.7h0M271 477.8h0M273.1 477.8h0M271.6 480.4h0M271.9 475.6h0M271.6 474.8h0M270.8 475.1h0M272.1 474.7h0M275.2 600.6h0M275.5 603.4h0M274 599.7h0M274.5 597.7h0M278.5 601.3h0M278.8 601.9h0M278.9 603h0M278.3 603.3h0M277.2 598.1h0M278.8 599.8h0M279.1 599.8h0M278.6 597.9h0M279.6 597.9h0M278.5 600.4h0M277.7 599.6h0M274.5 467.7h0M274.8 464.9h0M275.6 462.8h0M274.5 464.2h0M279.6 465.5h0M277.2 466.4h0M277.3 467.2h0M278.8 466.3h0M277.8 465.6h0M277.2 465.8h0M279.1 464.6h0M278.4 462.5h0M278.8 463.7h0M277.9 462.9h0M277.7 465.1h0M287.5 473.7h0M288.1 471.8h0M288.3 469.1h0M287.2 471.4h0M288.2 471h0M285.8 469.8h0M289.9 472.9h0M290.3 472.8h0M291.7 471.6h0M289.2 472.9h0M291.8 469.9h0M290.3 468.5h0M291.8 471h0M289.5 469h0M290.7 471.3h0M298.9 479.6h0M300.9 477.7h0M299.4 478h0M299.5 478.4h0M298.7 477.8h0M300.1 478.9h0M298.2 475.1h0M298.6 475.1h0M301.5 480.1h0M301.9 479.9h0M301.3 476.9h0M301.5 474.5h0M302.2 476h0M301.9 476.8h0M304 476.8h0" stroke="#20eaac" stroke-width="3.0" stroke-linecap="round" fill="none"/><path d="M185.2 515.1h0M182.4 515.3h0M184.8 516.2h0M183.5 512.3h0M183.5 513.5h0M185.5 515h0M187 515.6h0M187.3 517.2h0M188.4 515.5h0M187.5 517.2h0M187.7 515.3h0M187 516.3h0M188.1 515.7h0M186.6 516.7h0M185.5 513.5h0M187.4 513.7h0M191.2 510.4h0M190.7 510.5h0M190 510.1h0M189.4 511.2h0M191.4 511.2h0M190 509.9h0M191.2 509.7h0M188.7 509.6h0M190.2 506.7h0M188.9 507.3h0M191.2 508.1h0M193.6 509.9h0M193.2 508.7h0M193 511.2h0M194.2 510.1h0M192.5 506.7h0M190.3 483.8h0M191.4 486.7h0M191.3 484.7h0M189.6 485.3h0M190.1 485.5h0M190.8 483.2h0M191.3 481.8h0M189.4 482.3h0M190.4 482.3h0M188.6 482.6h0M189 483.1h0M192.3 485.7h0M193 483.9h0M191.7 484.7h0M192.8 483.3h0M191.6 481.6h0M189.6 459.7h0M190.1 459.7h0M190.4 458.8h0M190.5 457.7h0M189.4 457.6h0M191.3 458.6h0M189.2 457.8h0M188.7 458h0M190.1 458.4h0M193.5 461h0M192 460h0M193 461.1h0M192.3 460.6h0M194.4 458.2h0M192.1 457.7h0M193.2 458.9h0M209.7 603.2h0M207.6 600.8h0M209.2 603.1h0M208.7 601h0M209.5 603.5h0M207.8 603.4h0M207.7 600.9h0M208.9 598.8h0M208.2 598.6h0M210.3 601.8h0M212.8 602.1h0M210.4 603.6h0M211 600.9h0M211.4 597.9h0M210.8 597.9h0M210.4 597.6h0M209.7 527.9h0M206.8 529.3h0M207.6 528.7h0M207.9 527.9h0M208.6 529.2h0M208.5 529h0M209.2 526.1h0M208.2 526.5h0M209.6 526.7h0M210.7 528.2h0M209.9 527.1h0M210.4 523.8h0M211.7 524h0M212.6 525.7h0M211.3 525.3h0M211 526.6h0M209.6 466.7h0M208.2 466.2h0M206.7 466.3h0M209.7 467.7h0M207.5 466.8h0M208.5 462.3h0M209 464.8h0M207 464.5h0M208.1 465.1h0M210.9 466.8h0M212.5 467.3h0M210.5 467.7h0M210.4 464.7h0M211 463.2h0M210.7 462.7h0M210.5 464.8h0M207.5 435.6h0M208.1 436.1h0M207.7 435.2h0M209.7 435h0M209 435.3h0M207.6 434.7h0M208.9 433.7h0M209.3 433.9h0M207.7 434.3h0M209.6 431.5h0M212.4 435h0M212.7 434.7h0M212.6 436.7h0M212.4 434.2h0M211.6 432.5h0M211.8 433.9h0M215.4 571.9h0M213.2 572.5h0M213.6 569.4h0M214.2 568.8h0M213.3 567.3h0M215 568.4h0M218.6 571.5h0M216.1 570.4h0M218.8 570.4h0M218.3 572.1h0M216.6 567h0M216.5 568.8h0M217.8 568.3h0M218.1 568.3h0M216.3 569.3h0M216 566.7h0M214 424.5h0M213 421.9h0M212.9 420h0M213 420.4h0M215.2 420.4h0M212.9 421.6h0M215.8 421.7h0M218.6 424.3h0M218.8 420.5h0M215.8 419.5h0M218.8 421.7h0M216.1 421.9h0M217.5 422h0M218 422h0M217.8 420.4h0M216.7 420.9h0M219.9 584.6h0M221.8 583.8h0M221.3 584.4h0M220.1 580.5h0M221 581.3h0M221.7 579.3h0M220.3 580.7h0M219.7 579.7h0M219.7 581.2h0M221.3 579.3h0M220.9 579.5h0M221.6 580.5h0M220.5 581.3h0M219.2 580.2h0M224.5 585h0M223.5 581.1h0M219.6 570.8h0M220.4 570.4h0M220.4 570.1h0M220.8 572.6h0M222.1 570.2h0M224.2 570.4h0M224.5 570h0M222.2 570.3h0M222.7 572.8h0M223.4 569.1h0M223.3 569.8h0M222.4 568h0M222.5 569.6h0M222.6 566.9h0M224.3 567.6h0M222.2 567.9h0M220.5 527.6h0M220.9 529.4h0M219.6 525.6h0M220.3 524.2h0M220.2 525.1h0M220.2 525h0M220.8 525.4h0M224.5 527.1h0M224.8 527.1h0M222.3 527.1h0M224.9 528.7h0M223.1 527.6h0M223.2 525.2h0M223.6 524.1h0M223.4 524.9h0M224.5 523.7h0M227.4 639.2h0M227.5 639.2h0M227.7 637h0M225 634.9h0M226.2 637.2h0M225.6 636.7h0M228.5 638.6h0M229.8 638.5h0M230.7 638.3h0M229.4 638.9h0M228.3 639.5h0M228 635.2h0M229.8 635.4h0M230.5 637h0M229.6 637h0M228.8 634.6h0M226.5 626.8h0M227.3 626.5h0M225.5 624.8h0M226.3 622.5h0M225.1 625.2h0M228.2 627.2h0M228.2 628.2h0M229.6 625.9h0M229 623.1h0M229 622.3h0M229.7 624.3h0M229.1 624.5h0M229 622.5h0M228.3 622.8h0M228.7 624.2h0M230 624.5h0M225.3 483.9h0M227.4 484.6h0M226.6 486.4h0M227.5 482.7h0M225.8 483.6h0M226.1 482.5h0M229.2 485.2h0M229.2 486.5h0M230.3 485.6h0M230.4 483.9h0M228.8 486.3h0M230.2 483.8h0M229 482.4h0M230.7 482.2h0M230.1 482.8h0M228.2 483.2h0M233.3 541.2h0M234.1 542h0M231.3 541.4h0M231.8 536.1h0M232.7 537.2h0M234 538.6h0M232 536.5h0M232.7 536.8h0M231.2 537.9h0M235.4 542h0M235.4 540.8h0M234.2 541.8h0M236.6 540.1h0M235.8 542h0M234.7 537.7h0M235.4 538.4h0M232.4 466.9h0M232 465.6h0M233.5 468.2h0M232.3 464.5h0M232.8 465h0M233.6 462.6h0M232.9 462.6h0M232.8 464h0M237 465.3h0M235.7 466.1h0M234.2 466.7h0M235.5 466.1h0M236 466.2h0M235 466.9h0M236.4 468.1h0M235.6 463.5h0M232.8 460.3h0M232 460.8h0M231.3 459.4h0M234 460h0M232.3 459.9h0M232.2 457h0M232.4 458.7h0M233.3 456.9h0M235.8 461.7h0M236.3 459.3h0M234.9 459.2h0M236.6 457.8h0M235.2 456.7h0M234.4 458.9h0M234.6 457.6h0M236.2 456.2h0M244.6 547.7h0M244.8 547.3h0M244 546.7h0M245.6 547.5h0M245.8 544.2h0M246 544.3h0M249.2 545.8h0M247.9 547.5h0M246.3 546.7h0M246.9 546.4h0M247.7 543h0M246.7 544h0M247 543.6h0M246.6 544.2h0M247 543h0M246.5 542.5h0M243.4 447.4h0M243.6 446.9h0M245.2 448.8h0M244.8 447.2h0M245.3 446.9h0M246.2 448.1h0M245.7 448.6h0M244.4 447.8h0M245 449.1h0M243.8 448.2h0M243.8 444.7h0M245.5 445.5h0M245.1 444.6h0M245.4 446.6h0M246.7 447.7h0M247.8 445.9h0M243.8 429.5h0M243.5 429.3h0M243.7 428.7h0M246.1 427.1h0M244 428.1h0M243.3 425.7h0M244.7 426.4h0M243.6 426.9h0M244.8 427.3h0M247.3 429.7h0M248 431h0M248.5 427.8h0M246.3 426.2h0M248.9 425.3h0M248.2 426.1h0M246.4 427.6h0M245.2 404.8h0M244.7 406.2h0M244.3 401.6h0M243.5 401h0M246 402.8h0M246 403.6h0M243.7 403h0M244.3 403h0M246.5 404.4h0M248.6 404.2h0M247.7 406.1h0M246.5 406.1h0M248.7 402.6h0M247.3 401.8h0M247.3 401.9h0M247.6 401.5h0M249.7 595.9h0M250.3 596.1h0M250.5 595.7h0M249.4 596.4h0M250.6 597.3h0M250.4 596.9h0M250.7 594h0M250.4 594.3h0M251.3 592.1h0M251.3 592.6h0M254.9 595h0M254.5 593h0M255.3 592.6h0M255.3 593.4h0M253.4 592.4h0M252.5 594.3h0M250.3 584.5h0M249.5 584.2h0M250 585.1h0M251.3 580.5h0M249.3 581h0M252.3 580.4h0M254.7 582.6h0M254.2 583.1h0M255.3 583.3h0M252.9 583.1h0M253.8 579.5h0M253 579.1h0M254.2 581.6h0M254.1 579.9h0M254.7 579.7h0M254.3 580.3h0M257.6 539.1h0M256 540.2h0M256.2 541.6h0M256.7 538.7h0M256.3 538.5h0M257.3 538.4h0M255.6 536.5h0M256 537h0M257.1 538.6h0M260.8 536.3h0M261 536.1h0M259 538.2h0M261 537.8h0M258.6 537.9h0M260 537.6h0M260.5 537.5h0M256.5 490.4h0M256.4 491.1h0M255.9 492.7h0M256.7 491.4h0M257 489.6h0M258.2 488.3h0M257.6 486.9h0M258.1 487.5h0M260.5 490.3h0M258.8 490.1h0M258.7 491.9h0M261 491h0M260.8 492.3h0M260.5 488.9h0M259.8 489.5h0M258.6 489.7h0M256.6 435.7h0M256.5 435.2h0M257.8 437.1h0M256.8 435.9h0M257.3 434.9h0M256.6 435.6h0M257.4 435.2h0M257.3 433.9h0M258.2 433.4h0M256.1 432.7h0M260.7 436.2h0M258.7 436.2h0M259.5 436.1h0M260.6 434.2h0M258.5 431.7h0M259.4 431.8h0M269.8 590.9h0M267.8 589h0M268.8 588.9h0M269.1 588.4h0M267.9 588.9h0M269.5 587.1h0M269.3 588h0M272.9 588.5h0M271.7 589.2h0M270.9 590.7h0M272.1 589.2h0M270.8 586.3h0M271.1 588h0M273.5 588h0M271.5 587.7h0M273.4 587.2h0M270.2 522.8h0M268 522.6h0M268.3 523.2h0M268.1 522.6h0M267.9 523.1h0M269.7 519.1h0M269.1 517.9h0M268 518.7h0M273.5 520.6h0M273.3 521.3h0M273.1 522.7h0M271.4 517.7h0M273.5 518.6h0M270.9 520.4h0M270.8 518.7h0M273.2 520.3h0M275.6 564.9h0M276.5 565.5h0M275.6 565.7h0M273.7 564.6h0M276.5 566.4h0M275.7 563.6h0M273.7 561h0M274.3 560.8h0M278.5 564.2h0M279 564.4h0M279.6 564.6h0M278.4 566.4h0M277.3 563.5h0M276.9 562.9h0M278.7 563.2h0M279.3 563.3h0M276.6 471.4h0M276.4 471.7h0M276.5 472.3h0M275.1 471.4h0M274.8 472.5h0M276.2 473.4h0M273.9 468.9h0M273.6 471h0M274.9 469.8h0M279.3 471.6h0M279.6 472.7h0M279.6 472h0M277 473.6h0M277.9 470.3h0M277.8 471.2h0M278.6 471.2h0M300 460.3h0M300.8 461h0M298.6 458.7h0M299.4 457.2h0M300.3 458.9h0M300.5 458.3h0M302.3 459.4h0M301.3 460.5h0M302.1 459.9h0M301.2 460.1h0M303.2 459.5h0M303.8 461.2h0M301.2 459.8h0M302.5 459h0M301.1 458.4h0M302.6 457.2h0" stroke="#32f298" stroke-width="3.0" stroke-linecap="round" fill="none"/><path d="M183.5 509.2h0M183.9 510.1h0M184.8 510h0M182.8 509.8h0M183.7 507h0M183.3 505.8h0M184.3 506.6h0M183.1 507h0M184.9 507.5h0M184 507.6h0M187.8 510.2h0M187.7 510.5h0M186.5 508.7h0M186.6 506.3h0M185.6 505.6h0M186.3 505.6h0M187 505.5h0M185.4 478h0M184.4 478.5h0M182.5 479.9h0M184 479.5h0M182.4 479.7h0M183.9 479.4h0M184.2 479.9h0M185.2 476.6h0M184.1 474.9h0M185.2 475.6h0M187.9 478.2h0M187.7 478h0M186.4 478.2h0M186.7 480.6h0M188.2 476.6h0M187.2 475.8h0M187.8 476.5h0M209.5 614.9h0M206.9 614.9h0M208.6 614.3h0M206.9 613.2h0M207 613.4h0M207.4 610.3h0M207.7 612h0M211.8 615.6h0M212.4 613h0M212.1 614.4h0M210.9 613.9h0M211 609.8h0M212.7 612h0M211.2 611.2h0M210.5 611.9h0M211.2 611.1h0M211.8 611.2h0M208.9 424.3h0M206.8 424.7h0M207.2 422.4h0M207.4 422.6h0M207.6 422.6h0M209.2 422.9h0M209.3 421.2h0M206.9 420.9h0M207.1 420.6h0M207.4 421.5h0M210.4 425h0M210.7 422.8h0M211 424.2h0M211 419.6h0M211.7 421.5h0M211.3 419.5h0M211.4 421.6h0M215.2 558.3h0M215.5 559.6h0M214.8 560.2h0M213.3 560.3h0M215.2 557.8h0M215.4 555h0M213.6 557.3h0M215.4 554.6h0M213.8 555.9h0M214.3 555.8h0M216.1 560.6h0M217.1 558.9h0M216.4 558.8h0M218.5 558.9h0M215.8 557.1h0M216.8 556.1h0M216.9 555.1h0M213.6 491.9h0M213.6 490.5h0M213.5 492.6h0M213.7 491.2h0M215.3 489.9h0M213.6 488.4h0M213.3 489.5h0M212.8 486.9h0M213.6 487.3h0M213.6 488h0M216.3 490.5h0M217.4 492h0M218.8 491.7h0M216.3 491h0M218.2 486.8h0M218.8 489.7h0M216.6 489.8h0M218.9 578.6h0M220 573.9h0M219.8 572.9h0M220.5 573.7h0M219.2 575h0M220.3 575.2h0M220.5 574.7h0M220.4 573h0M221 574.7h0M221 573.1h0M221.9 576.8h0M224.1 576.6h0M224.2 577.6h0M223.8 573.7h0M223.1 573h0M223.2 574.7h0M225 575.4h0M220.1 552.7h0M221.5 554.4h0M220.2 552.2h0M219.1 552.6h0M221.2 551.2h0M219.7 550.6h0M221.8 551.1h0M220.2 551.1h0M221.3 551.3h0M222.2 552.2h0M222.7 554.1h0M223.9 549.2h0M224.9 550h0M222.3 550.8h0M223.3 548.8h0M224.2 549.7h0M222.6 551.3h0M220 547.9h0M220.4 546h0M220.4 545.4h0M219 545.7h0M220.2 544.5h0M222.5 547.9h0M223.9 546h0M224.4 546.5h0M223.2 545.8h0M223.9 545.7h0M222.7 545.8h0M224.8 547.2h0M223.6 546.7h0M224.5 547.1h0M221.9 547.5h0M224.9 544.2h0M224.3 543h0M221.4 523.4h0M219.7 522h0M220.1 523h0M220 521.4h0M221 522.5h0M219.9 519.9h0M221.4 519.6h0M221.4 518.6h0M224.6 522.2h0M224.3 522.6h0M223.6 523.5h0M223.4 519.9h0M223.3 520.1h0M223.3 519.8h0M224.3 519.5h0M222.3 519.1h0M222.9 518.9h0M220 504.5h0M221.4 504.8h0M220.7 503.1h0M221.2 503.1h0M221.2 500.8h0M220.4 500h0M220.8 501.5h0M221.5 500.9h0M223.6 504.5h0M222.5 502.8h0M222.5 501.4h0M222.3 500.8h0M224 501.4h0M224 500.7h0M224.4 500.2h0M224.1 499.6h0M224.8 500.6h0M220.3 423.7h0M220.2 423.2h0M220.4 423.1h0M219.4 424.6h0M221.1 422.8h0M221.2 419.2h0M220.4 421.5h0M221.6 420.4h0M221 419.6h0M220.7 419.4h0M220.1 420.7h0M220.2 419.2h0M219 419.9h0M224.1 425h0M223.7 422.3h0M222 419.6h0M223.6 419.5h0M227.2 590.1h0M227.3 591.1h0M227.7 588.8h0M227.8 588.3h0M227.2 590.9h0M225.1 586h0M225.5 587.3h0M225.4 587.3h0M226 587.8h0M226.9 588h0M225.8 587h0M229.4 590.8h0M229.6 589.5h0M229.6 588.7h0M230.1 588.3h0M231 585.4h0M231 586h0M227.6 459.8h0M225.9 459.8h0M226.6 461h0M226.8 457.6h0M226 456.3h0M227.2 458.4h0M225.9 456.8h0M225.8 458.5h0M225.5 458.8h0M229.6 461h0M229.7 460.9h0M229.4 462.1h0M228.9 461.9h0M229.1 460.4h0M230.9 457.4h0M228.2 459h0M228.4 457.9h0M231.3 578.4h0M231.4 576.6h0M233.9 573.1h0M233.3 573.6h0M232.2 573h0M233.7 573.6h0M231.8 574.5h0M232.4 575.4h0M234.4 578.9h0M235.3 576.1h0M235.2 577.6h0M236.1 576.2h0M236.2 573h0M236.6 575.5h0M235 574.7h0M236.5 575.3h0M234.1 574.2h0M231.1 558.6h0M233.5 560.3h0M234.1 558.7h0M232.7 559.8h0M233.2 559.3h0M232.6 557h0M231.4 557.1h0M232.2 557.1h0M231.9 557.1h0M233.4 557.1h0M236.7 560.1h0M236.2 560.5h0M234.6 559.2h0M236.6 559.7h0M236.6 555.1h0M235.8 556.2h0M235.3 557h0M233.2 485.5h0M231.2 480.8h0M231.4 481.5h0M232.8 480.7h0M234.6 486.4h0M236.5 484h0M234.9 484.1h0M236.4 484.7h0M235.8 485.8h0M235.4 483h0M234.9 481.8h0M234.2 482.6h0M234.5 483.6h0M236.3 480.8h0M235 481.9h0M235.9 481.2h0M236.1 481.3h0M239 620.2h0M238.4 619.5h0M238.3 621.5h0M238 621h0M239.5 621.1h0M239.7 621.3h0M237.4 619.9h0M238.3 616.6h0M238.3 617.2h0M238.6 617h0M239.6 617.4h0M239.5 617.4h0M238.2 616.4h0M240.7 620.7h0M241.9 620.3h0M241.3 618.6h0M243 618.8h0M238.4 484.6h0M238.4 485.5h0M238.9 486.6h0M238.8 483.9h0M239.6 484.9h0M238.6 486h0M237.3 483.8h0M238.7 483.2h0M238.2 481.6h0M238.5 480.9h0M240.5 484.3h0M241.1 486h0M240.3 482.2h0M242.6 481.1h0M240.9 482.1h0M241.9 481.1h0M240.6 481.8h0M239.3 416.6h0M239.7 417h0M237.2 414.1h0M238.3 415.5h0M237.1 415.1h0M238 415.9h0M241.3 416.9h0M242.2 418.9h0M240.5 418.5h0M241.2 417.7h0M242 418h0M240.5 418.6h0M241 414.5h0M242.5 415.8h0M242 414.8h0M242.8 414.4h0M242.7 415.7h0M239.1 393h0M237.6 393.6h0M239.5 391.5h0M237.1 392.8h0M240 392.4h0M239 393.2h0M238.3 392.7h0M239.4 392.9h0M239 390.4h0M238.3 390.4h0M237.4 388.8h0M238.4 390.5h0M242.3 391.8h0M240.7 394.2h0M242.7 393.4h0M241.2 388.3h0M243.1 389h0M244.9 583.6h0M245 584.7h0M246.2 584.3h0M245.2 583.4h0M244.5 579.9h0M245.3 579.2h0M244.8 581.6h0M244.4 579.1h0M246.9 582.6h0M248.3 582.3h0M248.9 583.9h0M247.4 582.2h0M248.9 583.8h0M246.7 584.8h0M247.3 585h0M247 579.7h0M249 581.1h0M244.4 422.8h0M244.4 424.7h0M246.2 423.1h0M245.3 423.2h0M244.8 425.1h0M243.4 423.7h0M243.7 419.8h0M245.4 420.3h0M245.1 422.1h0M244.4 422.1h0M246.3 422.2h0M248.2 422.5h0M246.6 424.2h0M248.9 423.9h0M247.1 425h0M247.8 423.1h0M248.7 419.5h0M243.9 373.2h0M245.1 375.9h0M245.2 375.8h0M244.9 372.1h0M246.1 372.2h0M244.9 370.1h0M243.7 369.9h0M245 372.2h0M244.3 370h0M248.5 374.6h0M246.8 374h0M248.6 374.5h0M248.2 372.5h0M246.6 372.1h0M247.6 370.2h0M247.7 371.5h0M248.5 371.7h0M251.5 591h0M251.1 590.3h0M251.4 589.3h0M250.7 590.7h0M250 586.9h0M249.7 585.4h0M250.4 588.1h0M250.4 588.1h0M251.9 586.9h0M253.9 589.3h0M253.3 590h0M254.4 588.9h0M252.9 589.1h0M254.4 588.7h0M255.2 586.3h0M255.4 587.1h0M254.8 586.1h0M250.2 547.2h0M251.9 547.3h0M250.5 547.3h0M249.7 545.6h0M250.2 545.7h0M251.5 547.4h0M251.7 544.9h0M252.1 544.7h0M251.8 544.1h0M253.6 546h0M253.4 546.3h0M254.4 548.1h0M254.2 547.2h0M255 544.2h0M254.1 543.1h0M255 543.9h0M252.5 543.7h0M251.9 437.3h0M251.8 435.3h0M252 435.8h0M250.4 434.6h0M252.3 435.9h0M251.5 434.7h0M251.2 431.5h0M252.2 432.3h0M250.3 432.8h0M252.3 433.1h0M253 435.4h0M252.4 436.1h0M255.2 437.3h0M253.1 432.3h0M254.9 433.5h0M255 433.7h0M254.1 433.4h0M251.7 431h0M251.9 430.7h0M250.4 431.2h0M250.9 429.4h0M251.6 429.2h0M251.1 430.6h0M251.9 427.7h0M250.9 426.5h0M251.1 426.7h0M252.5 431h0M254 430.4h0M254.6 426.4h0M254.8 427.8h0M255.1 427.9h0M253.5 425.8h0M253.3 425.6h0M255.3 427.4h0M255.7 523.4h0M257.5 521h0M256.7 521.6h0M255.9 523.2h0M256.1 521.8h0M255.9 520.6h0M256.2 520.1h0M255.5 518.2h0M260.8 521h0M258.4 523.2h0M258.9 522.2h0M261.4 522.1h0M260.8 522.5h0M261.3 522.6h0M260 521h0M260.9 519.9h0M261.2 519.3h0M256.8 473.5h0M258.3 472.3h0M257.7 473.3h0M255.8 473.6h0M258.2 472.6h0M257.6 471.3h0M257 469.6h0M257.9 469.6h0M258.7 473.6h0M260.8 473.1h0M259.6 473.9h0M259.3 472.1h0M258.8 473.4h0M259.2 470.4h0M259.8 470.3h0M261.2 468.7h0M260.8 468.9h0M263.3 504h0M264 502.3h0M263.4 504.9h0M263.4 503.7h0M262.5 500.8h0M262.2 501.3h0M264.6 502.6h0M264.5 504.1h0M265.7 503.9h0M266.9 503.2h0M264.5 503.4h0M267.2 503.4h0M265.5 499.2h0M267 501.2h0M266.5 501.3h0M265.8 499.1h0M266.4 501.9h0M263.9 446.8h0M262.6 448.2h0M262.7 448.8h0M263.1 445.2h0M263.9 443.7h0M262.4 443.9h0M264 444.6h0M262.3 444.9h0M262.2 444.5h0M264.2 444.1h0M263.3 446.3h0M266.4 449.1h0M265.9 446.9h0M266.2 448.7h0M267.4 448.2h0M265.8 445.6h0M264.5 445.6h0M262.1 429.5h0M262.7 431.1h0M263.8 429.9h0M262.7 428.5h0M263.1 429.5h0M262.6 429.5h0M262.8 426h0M263.9 425.7h0M262.2 427.3h0M261.9 426.3h0M263.1 427.3h0M266.3 429.5h0M267.1 430.7h0M266 429h0M267.3 428.9h0M265.7 427.3h0M266.6 427.6h0M261.9 392.2h0M262.2 393.6h0M263.9 394.4h0M262.3 391.4h0M263.9 392.8h0M264.2 394.1h0M263.2 393.8h0M261.7 392.2h0M261.5 394.4h0M263 388.6h0M266 393.5h0M264.8 391.4h0M266.7 391.5h0M267.2 393.7h0M264.8 389h0M265.6 389.5h0M267.4 389.6h0M269.1 492.3h0M270.1 490.8h0M269.2 490.9h0M270.4 490.2h0M269.4 489.9h0M267.7 488h0M270.1 489.5h0M270.2 487.2h0M267.7 489.4h0M269.6 488.6h0M269.1 487.8h0M271.4 491.9h0M272.8 490.7h0M272.8 487.7h0M272 488h0M271.1 487.8h0M271.2 488.2h0M276.5 447.7h0M275.6 448.6h0M276.1 448.8h0M274.6 447.9h0M274.9 448.1h0M275.9 447.9h0M274.4 444.2h0M275.4 446.1h0M274.6 445.3h0M279.1 448.3h0M277.6 449.5h0M277.6 448.7h0M277.2 444.3h0M276.9 444.1h0M277.8 445h0M279.2 445.1h0M278.4 446.7h0M274.7 441.2h0M276.3 441.8h0M275.1 442.2h0M275.1 442.3h0M274.7 439.4h0M276.4 440h0M273.7 440.6h0M279.5 441h0M277.3 442.7h0M277.9 441.2h0M278.2 443h0M279.1 442.3h0M277.7 440.3h0M278.8 438h0M276.8 438.3h0M278.8 439.3h0M277.4 438.2h0M281.5 436.7h0M279.7 435.6h0M281.9 437.3h0M280.9 434.8h0M281.3 435.4h0M281.6 433.8h0M280.8 432.4h0M282.3 434.4h0M281.9 433.9h0M283.2 435.4h0M285 434.8h0M284.9 435.7h0M284.8 433.3h0M285.6 431.7h0M285.3 432.9h0M285 433.1h0M283 433.6h0M287.9 552.6h0M288.7 550.2h0M287.2 550h0M287.1 548.7h0M288.2 550h0M287 550.5h0M288.7 551.2h0M291.1 551.8h0M288.9 553.9h0M291.3 553.3h0M291.4 551.6h0M291.6 552.1h0M291 550.2h0M291.1 549.9h0M291.5 550.8h0M290.6 549.3h0M291.3 549.7h0" stroke="#46f884" stroke-width="3.0" stroke-linecap="round" fill="none"/><path d="M194.8 484.9h0M195.5 485.2h0M195.2 483.8h0M196.1 483.6h0M195.6 482.5h0M196.5 481.1h0M197.4 482.6h0M196.6 481.6h0M200.6 484.4h0M198.9 484.5h0M197.9 486.6h0M199.5 480.6h0M198.4 482.2h0M200.3 481.8h0M199.6 482.6h0M200 483.4h0M199.2 481.7h0M200.5 481.5h0M196.1 468.1h0M195.6 466h0M195.6 466.4h0M196.7 465.5h0M195.2 463.8h0M197.4 463.9h0M195.6 463.8h0M195.3 462.8h0M200 466h0M199.5 465.9h0M199.1 468h0M198.3 464.4h0M198.5 464.3h0M199.2 464.3h0M198.7 464.1h0M198.2 463.3h0M200.1 463.4h0M200.3 463.2h0M196.1 459.3h0M196.4 461.8h0M196.9 461.4h0M195 458.2h0M198.7 461.3h0M199.4 461.1h0M197.8 459.5h0M199.6 459.1h0M200.2 459.4h0M200.4 461.8h0M199.2 460.1h0M198.6 459.3h0M198.6 458.8h0M198 456.9h0M199.9 456.7h0M200.3 458.3h0M198.9 456.1h0M200.1 456.1h0M200.8 514.5h0M201.6 516.9h0M201.6 516.1h0M202.1 513.9h0M202.7 513h0M200.9 514.1h0M201.2 512.6h0M201.6 513.4h0M205.3 517.1h0M205.1 516.4h0M205.1 512.6h0M206.1 512.8h0M206.3 514.1h0M206.5 512.4h0M205.5 514.3h0M204.3 513.7h0M204.6 513h0M205.5 514.3h0M200.7 478.6h0M202.2 480.2h0M201.8 479h0M201.8 480.2h0M203.1 478.5h0M203.3 478.3h0M201.8 476.4h0M201.9 475.2h0M201.6 474.8h0M203.2 475.7h0M201.7 476.8h0M204 479.6h0M204.9 479.2h0M204.7 477.3h0M204.4 476.7h0M205.5 475.8h0M203.9 475.3h0M203.7 475h0M208.1 583.8h0M208.7 585.1h0M207.4 581.1h0M209.2 579.2h0M207.6 580.5h0M210.4 582.4h0M212.4 583.3h0M211.8 584.2h0M211.1 584.4h0M211.2 584.8h0M210.6 581.4h0M211.4 579.1h0M211.5 580.2h0M210.2 579.6h0M211.3 581.2h0M212.1 581.1h0M210.1 579.4h0M210.5 579.8h0M208.9 577h0M207.5 576h0M207.1 578.3h0M207.7 576.2h0M208.8 574.8h0M209.3 573.2h0M206.8 574.1h0M210.4 578.8h0M212.3 578.5h0M210.6 578.2h0M212.2 576.1h0M211 577.1h0M211.8 577.8h0M210.7 578.3h0M211.7 573.1h0M211.7 574.8h0M211.7 573.5h0M210.7 574.1h0M209.4 429.5h0M208.4 425.8h0M209.4 425.7h0M207 427.6h0M207.6 427.4h0M207.7 427.7h0M209 428.1h0M206.8 427.9h0M208.9 427.3h0M207.5 427.2h0M211.3 431.2h0M211.5 426.8h0M211.6 426.4h0M210.6 427.9h0M210.6 427.5h0M211.7 426.3h0M212.3 426.3h0M211.7 427.2h0M215 620.7h0M213.3 619.2h0M213.6 619.5h0M213 621.5h0M214 619.8h0M213 619.1h0M213 621.6h0M213.1 619.2h0M213.9 618.3h0M214.9 616.6h0M214 618.5h0M217 621.3h0M216.3 620.2h0M216.7 621.7h0M217.2 621.9h0M216.8 617.6h0M218 616.2h0M217.6 616.1h0M214.9 582.2h0M214.7 584.6h0M213 579.2h0M214.8 582.1h0M215.7 579.2h0M217.2 583.6h0M216.4 584.5h0M216.9 582.5h0M217.4 584.1h0M217 583.7h0M216.7 582.6h0M217.2 582.7h0M218.5 584h0M216.1 579.7h0M216.1 579.2h0M218.9 582h0M217.2 581.1h0M217.4 582.1h0M220.2 597h0M219.5 595.6h0M221.5 594.8h0M221.1 595h0M221.2 595.2h0M219.4 596.5h0M219 592.9h0M220.4 591.4h0M220.9 594.1h0M223.5 595.7h0M224.2 596.6h0M222.8 594.5h0M222 595.5h0M222.3 597.1h0M224.7 592.7h0M223 592.8h0M222.3 591.4h0M222.2 592.7h0M220.8 539.6h0M219.1 539.6h0M219.3 538.1h0M220.5 538.8h0M220.3 536.1h0M220.6 537.8h0M221.4 538.7h0M221.2 538.9h0M220.1 538.3h0M220.1 537.9h0M224.8 540.5h0M223.2 542.1h0M224.1 540.2h0M221.9 539.4h0M223.6 540.6h0M222.2 540h0M224.9 537.2h0M222.8 539h0M220.7 485.6h0M219.3 484.9h0M221.3 484.1h0M221.2 485.4h0M220.7 481.1h0M219.5 482h0M221.6 481.3h0M220.2 482.5h0M220.6 480.6h0M219.1 481.5h0M220.2 481.8h0M221.9 482.1h0M222 484h0M223.4 483.9h0M223.9 485h0M223.8 485.6h0M222.9 483.5h0M223.9 482.7h0M225.7 583.4h0M225.7 584.9h0M226.6 584.5h0M226.5 582.2h0M227.5 585.1h0M225.7 580.3h0M226.2 581.2h0M228.3 583.9h0M231 583.4h0M230.6 584.4h0M230.6 584.7h0M229.2 583.1h0M230.7 581.9h0M228.8 581.5h0M230.5 580.1h0M228.4 580.4h0M228.6 579.2h0M230.2 580.3h0M225.7 560.2h0M226.3 558.5h0M227.8 558.3h0M226.9 559.8h0M227 555h0M226.1 556.8h0M225.1 556.5h0M225.2 557.2h0M227.4 555.6h0M225.6 556.3h0M228.7 560.6h0M229.6 559.6h0M229.6 558.7h0M230.7 555.9h0M229.3 555.8h0M230.8 555h0M230.8 557.2h0M230.5 555.3h0M226.9 424.9h0M226.7 423.7h0M225.3 424.7h0M226.8 422.9h0M225.5 419.4h0M226.1 419.5h0M227 419.3h0M225.8 421.8h0M230.4 422.4h0M231 423.9h0M228.8 425h0M229.8 425.1h0M230.8 423.5h0M231 423.7h0M230.3 419.9h0M230.2 422h0M229.4 421.2h0M230 419.6h0M232.7 620.7h0M232.5 621.7h0M233.6 620.7h0M233.6 621.5h0M231.6 621.8h0M233.6 617h0M232.3 617.9h0M232.4 617.5h0M231.4 618.9h0M234.2 619.7h0M235.1 621h0M235.7 620h0M235.7 621.6h0M236.4 621.1h0M234.5 621.8h0M236.1 616.9h0M234.2 617.2h0M235.6 617.1h0M234 430.1h0M231.1 430.5h0M232.4 430.6h0M232.3 431h0M231.2 430.6h0M232.2 429.1h0M233.2 430.5h0M233.1 428.4h0M233.9 425.4h0M231.1 426.6h0M234 428h0M233.9 425.4h0M231.4 425.4h0M235.9 430.7h0M236.7 425.4h0M236.4 425.3h0M236.5 427.5h0M236.7 427.4h0M232 422.8h0M232.2 423.9h0M233.3 424.7h0M234 422.7h0M232.8 419.2h0M232.5 421h0M232.3 419.1h0M233.5 419.2h0M234.1 424.5h0M235 422.9h0M234.3 423.1h0M234.7 421.9h0M236.1 420.3h0M235.6 420.6h0M235.2 422h0M234.2 422.1h0M235.1 419.3h0M235.5 422.1h0M231.5 406.4h0M233.6 404.3h0M233.1 406.2h0M232.6 402.3h0M231.4 400.7h0M231.5 401.1h0M236.8 405.7h0M235.9 406.5h0M234.9 405.3h0M235.8 404.3h0M237.1 403.7h0M234.2 401.4h0M235.8 401.4h0M234.8 402.7h0M234.8 402.8h0M235.7 403.2h0M234.6 402.7h0M236.8 400.9h0M237.8 608.4h0M239.5 607h0M238 607.7h0M239.1 607h0M238.9 608.3h0M239.9 607.3h0M238.3 605h0M238.4 605.9h0M237.9 604.9h0M242.3 607.9h0M241 609.1h0M241.7 609.3h0M241.3 609.3h0M240.4 608.1h0M240.5 609.2h0M242.7 604.7h0M240.2 603.9h0M242.6 604h0M245.9 609.6h0M245.7 609.7h0M244.3 608.2h0M244.7 607.7h0M243.4 604.3h0M244.8 604.2h0M244.4 604.6h0M245.3 604h0M245.8 603.8h0M246.8 608.8h0M247.3 607.5h0M249.2 609.4h0M248 609.6h0M248.8 607.4h0M249.2 605.5h0M247.8 604.6h0M247.4 606h0M247.6 606h0M244.8 541.8h0M245.7 541.7h0M245.1 539.2h0M245.1 539.5h0M243.6 542h0M245.8 541h0M244 540.1h0M246.2 537h0M244.9 537h0M246 538h0M246.1 536.5h0M245.8 536.1h0M244.3 537.1h0M248 541.5h0M247.9 540.3h0M247.5 538.1h0M247.5 538h0M247.4 538.6h0M252.1 615.3h0M250.4 615h0M251.2 614.6h0M255 614.7h0M253.8 613.5h0M252.8 613.4h0M254.9 614.1h0M253.7 612.9h0M252.9 614.4h0M253.5 611.6h0M252.6 612.2h0M253.1 612.7h0M253.7 612.4h0M253.4 611.8h0M253.8 611h0M253.3 612.6h0M255.2 612.8h0M252.9 610h0M251.3 553.4h0M251.3 553.2h0M249.4 553.5h0M251.9 554.2h0M249.8 553.2h0M251 549h0M250.5 551.3h0M250.4 548.5h0M252.3 549.3h0M251.6 549h0M252.6 552.7h0M255.4 553h0M253.7 554.3h0M252.6 552.7h0M253.8 550.9h0M254.6 549.1h0M252.7 548.7h0M253.8 549.3h0M252.2 477.8h0M249.5 477.6h0M249.4 479.1h0M249.6 478.9h0M252.1 478.7h0M250.8 479.3h0M251.4 478.2h0M250.8 480.4h0M251.2 474.8h0M251.3 474.8h0M249.6 474.8h0M250.5 475.7h0M255.2 480.2h0M253.7 479.8h0M255.2 479.1h0M253.9 475.8h0M255.1 475.9h0M252.8 477h0M249.8 379.8h0M251.3 381h0M250.5 381h0M250.6 378.7h0M251.6 378.9h0M249.4 378.7h0M252.1 377.3h0M252.1 377.5h0M253.2 381.8h0M255 380.5h0M254.2 379.9h0M254 379.5h0M254 381.2h0M255.1 378.2h0M254.6 376.6h0M253.9 377.1h0M254.8 378.6h0M253.8 377.9h0M256.4 392.4h0M256.6 393.1h0M257.6 393.9h0M257.5 391.1h0M257 389.5h0M256 389.7h0M257.1 390.4h0M255.5 390.8h0M258.2 390.8h0M256.7 391h0M257.5 390.6h0M260.8 391.9h0M258.9 391.6h0M261.3 391h0M261.4 390.7h0M260.1 390.1h0M261 389.7h0M260 391.1h0M263.6 509.8h0M262.9 510.5h0M262.1 511.2h0M261.6 508.1h0M261.5 506.2h0M261.9 505.9h0M262.9 507.6h0M262.1 508.2h0M263.2 507.3h0M262.8 505.4h0M261.5 505.5h0M264.1 507.8h0M264.8 509.7h0M264.6 511.3h0M265.2 509.6h0M264.7 509.8h0M267.3 507.4h0M265.2 507.7h0M262.9 465.2h0M263.2 465.7h0M262.9 466.9h0M264.4 468.2h0M264.1 468.1h0M262.7 465h0M264.1 463.6h0M264.2 462.9h0M261.7 462.6h0M262.2 462.3h0M267.2 467.6h0M264.5 467.2h0M266.8 462.4h0M265.1 464h0M266.8 463.7h0M267 464.4h0M264.5 463h0M266.8 465.1h0M263.4 412.6h0M262.8 412.6h0M263.5 408.2h0M263.1 408.7h0M264 407.7h0M267 410.7h0M267.3 412.8h0M267.3 411.9h0M264.6 412.7h0M266.9 411.1h0M265.8 407.3h0M266.2 409.1h0M266.3 407.2h0M266.6 408.7h0M265.4 408.9h0M265.9 409.5h0M267.3 408.8h0M267.5 406.9h0M262 406.1h0M263 403.9h0M264 406.7h0M263.2 406.2h0M263.6 405.5h0M263.5 405.6h0M262.6 406.6h0M261.8 403.4h0M261.7 403.7h0M262.6 402.8h0M262.3 403.5h0M266.8 405.8h0M266.5 406.3h0M266.5 405.9h0M266.5 402.9h0M267.4 402.2h0M264.9 401.6h0M267.3 402.3h0M269.5 467.2h0M269.4 465.3h0M269.2 467.5h0M267.7 467.5h0M269.1 465.1h0M269.2 465.1h0M270.6 465.9h0M272.7 466.9h0M273.5 466.8h0M273.5 465.8h0M271.3 466.5h0M270.9 468.1h0M272.3 463.2h0M271.4 464.1h0M271.4 464.3h0M271.5 462.2h0M271 464.9h0M272.9 463.2h0M268.1 448.4h0M268.8 449.1h0M269.4 449.2h0M268.1 449.1h0M267.9 448.3h0M270 444.9h0M268.4 445.2h0M269.8 446.3h0M268.7 445.4h0M272.1 447.5h0M271.5 447.8h0M271.3 447.6h0M272.6 446.8h0M272.5 447.1h0M272.1 445.2h0M272.4 446.7h0M272.2 446.4h0M271.7 446.2h0M275.4 572.5h0M273.6 570.5h0M275.6 571.4h0M274.5 570.6h0M274.2 569.7h0M276.3 568h0M275.3 567h0M279.6 571.5h0M277.1 570.1h0M278.5 571.1h0M277.7 570.5h0M278.9 572.1h0M277.5 571.4h0M279.1 567.2h0M277.1 568.8h0M278.9 569h0M277.5 569.4h0M279.3 567.9h0M274.6 520.9h0M275.1 522.7h0M274 520.6h0M275.4 519.5h0M273.6 517.6h0M274.4 519.8h0M275.2 518.1h0M274.9 520.4h0M276 520h0M277.7 523.5h0M279.4 523h0M277.4 522.3h0M279.4 521.4h0M278.2 522.5h0M276.9 522.2h0M277.6 519.7h0M277.7 519.8h0M277.8 520.6h0M273.9 434.8h0M275.9 435.5h0M275.2 435.2h0M275.2 437.1h0M275.3 436.8h0M274.8 436.6h0M274.1 436.6h0M274.6 432.2h0M275 431.4h0M274.1 433.2h0M273.7 432.3h0M277.5 435.9h0M277.8 434.8h0M277.7 436.4h0M276.7 435.8h0M276.7 433.6h0M279.1 434h0M278.2 431.7h0M281.3 479h0M279.9 479.3h0M280.2 479.6h0M281.1 478.7h0M282.2 474.8h0M282.5 477.4h0M281.4 477.1h0M282.4 475h0M280.7 475.1h0M285.5 479.4h0M284.1 480.5h0M284 477.9h0M283.2 476.9h0M284.1 474.9h0M282.9 474.7h0M284.4 475.7h0M284.4 476.6h0M284.4 476.4h0" stroke="#5dfc6f" stroke-width="3.0" stroke-linecap="round" fill="none"/><path d="M209.1 609.3h0M208.4 608.3h0M206.9 608.2h0M208.9 608.8h0M208.8 608.4h0M209.7 605.2h0M208.3 604.3h0M207.4 606h0M210.9 608.4h0M212.3 608.9h0M211.4 608.8h0M211.5 608.4h0M212.7 607.2h0M211.1 607.7h0M211.5 608.8h0M211.7 604.7h0M209.8 604.4h0M212.6 606.7h0M211.9 605.5h0M207.4 559.3h0M209.3 559.2h0M209.4 558.5h0M208.7 559.4h0M208.3 555.2h0M208.4 556.9h0M208.3 556.4h0M212.4 560h0M211.2 558.5h0M211.8 558.9h0M210.4 556.2h0M210.1 557.2h0M209.9 557.1h0M211.6 554.9h0M211.4 557h0M212.5 556.4h0M212.3 555.7h0M211.4 557.4h0M211.6 557h0M208.2 404.8h0M209.5 403.7h0M207.6 401.6h0M209.4 401.7h0M210.4 406.3h0M212.8 406.5h0M211.2 403.9h0M210.1 405.8h0M210.3 405.4h0M210.1 405.1h0M211.6 406.3h0M212.8 406.1h0M211.7 404.6h0M211.7 403.8h0M210.1 402.9h0M211.8 403.5h0M210.3 401.2h0M212.3 400.9h0M212.5 401.7h0M213.7 595.4h0M215.8 597.2h0M214.5 597.5h0M212.9 597.5h0M214.6 597.5h0M214.4 596.4h0M214 594.1h0M214.5 591.8h0M214 592.1h0M214.9 591.7h0M217.1 596.5h0M217.5 594.6h0M217.5 596.9h0M218.3 595h0M216.1 596.5h0M216.5 591.5h0M217 593h0M216.8 594h0M218.8 592.3h0M214.5 484.2h0M213.1 485.6h0M214 486.6h0M214.4 486.6h0M212.9 484.3h0M214.6 484.7h0M214.6 485.8h0M215.2 482.8h0M214.8 482.8h0M218.9 484.6h0M217.9 486.3h0M218.4 484.3h0M217.9 484.8h0M216.5 483.2h0M217.3 482.7h0M217 481.8h0M217.9 481.1h0M216.6 482.2h0M215.8 481.1h0M212.9 397.6h0M214.8 398.2h0M214.7 400.4h0M213 398.5h0M215.4 400.4h0M215.1 398.3h0M213.8 395.3h0M214.8 395.6h0M213.6 397.1h0M213.6 396.8h0M214.6 394.6h0M217.4 400.3h0M217.3 398h0M218.4 399.3h0M216.7 398.6h0M216 396.9h0M216.2 396.7h0M218.6 395.6h0M217.3 397.5h0M221.8 461.6h0M219.5 462.1h0M220.9 460h0M221.2 460.2h0M220 459.6h0M221.8 460.6h0M218.9 460.2h0M220.5 461h0M220.6 457h0M222.8 459.4h0M224.4 459.4h0M222.9 460h0M224.2 460.6h0M224.2 460h0M223.5 457.1h0M225 456.2h0M222.7 457.4h0M224.9 456.6h0M222.1 457.3h0M227.1 622.1h0M227.1 619.2h0M227.9 621h0M225.5 619.8h0M227.8 619.9h0M227.6 621.9h0M226.1 618.1h0M227.4 616.4h0M227.7 617.8h0M227.7 618.5h0M226.8 616.6h0M225.8 618.8h0M228.9 620h0M230.2 620.4h0M229.8 621.8h0M230 617.5h0M228.3 616.6h0M229.8 616.9h0M228.7 618.2h0M226.1 601.4h0M226.9 602.6h0M226.7 603.6h0M226.6 601.2h0M227.4 603.5h0M225.4 601.6h0M227.2 597.8h0M225.2 598.3h0M225.9 600h0M226.9 599.6h0M231 603.4h0M230.6 603.5h0M228.4 601.9h0M229.9 599.8h0M228.5 598.1h0M230.4 599.6h0M229.4 598.2h0M229.1 598h0M228.2 598.3h0M232.5 533.9h0M232.4 536h0M233.6 534.6h0M231.9 534.8h0M233.3 533.9h0M232.4 530.5h0M233.7 530.1h0M233 531.1h0M232.5 532.8h0M232.6 532.8h0M234.3 535.3h0M235.4 535.7h0M235.6 535.2h0M234.9 534.2h0M237 534.9h0M236.5 533.9h0M234.1 531.5h0M235.6 532.6h0M234.4 532.3h0M233.2 478.2h0M231.1 478.4h0M231.2 479.1h0M232.4 480.3h0M231.5 480.5h0M231.7 477.4h0M233.7 477.4h0M232.6 476.2h0M233.6 475.9h0M234.8 479.5h0M235.2 479.3h0M234.5 479.1h0M234.1 478.3h0M236.8 480.4h0M234.4 479.1h0M236.7 477.1h0M235.1 476h0M236.8 475.1h0M236 477h0M238.9 589.4h0M239 586.2h0M239.2 586.7h0M239.5 585.4h0M238.2 586.9h0M238 585.5h0M240 585.6h0M239.7 586.4h0M239.1 585.3h0M242.6 589.3h0M241.8 589.9h0M241.6 589.1h0M240.4 590.7h0M242.3 588.8h0M242.4 590.1h0M242.6 588h0M241.1 587.2h0M243 586h0M240.3 586.8h0M238.8 583.3h0M239.7 584.3h0M239.6 583.5h0M239.9 582.2h0M238 583.1h0M238.6 583.8h0M239.7 584.7h0M239 581.7h0M238.5 581.3h0M238.5 581.9h0M241.7 583.7h0M242.6 585.1h0M242.8 582.8h0M242.5 580.3h0M242.6 581.6h0M240.8 581.2h0M241.4 579.4h0M243 579.6h0M242.4 580.3h0M238 566.7h0M237.5 564.2h0M237.2 564.7h0M238 564.2h0M239.4 566.7h0M238.1 564.8h0M239.1 560.9h0M237.7 560.9h0M237.5 563.2h0M237.5 561.5h0M240.5 566.3h0M241.5 564.8h0M241 565.8h0M242.9 561.1h0M241.7 562.6h0M242.8 562.3h0M242.4 563.1h0M243 561.6h0M240.7 561.8h0M237.6 471.9h0M239.1 473.3h0M238.9 472.2h0M237.8 474.3h0M238.8 473.8h0M237.4 471.4h0M239.3 472.4h0M239 469.2h0M237.1 469.9h0M239.6 471h0M239.5 471h0M240.2 471.4h0M240.4 471.8h0M242.8 471.5h0M242.8 472.2h0M242.8 470.6h0M240.9 469.9h0M242.9 470.5h0M240.3 470h0M245.7 601.4h0M244.2 602.5h0M243.2 601.4h0M245.1 602.8h0M244.6 603.3h0M245.1 600.5h0M246.2 598.6h0M246 597.8h0M244.6 598.8h0M245.6 600.3h0M245.6 598.9h0M248.1 601.5h0M247 602.5h0M248.2 598.5h0M247.4 598.7h0M246.9 598.6h0M248.5 600.1h0M247.1 599.5h0M246.3 598.5h0M244.1 522.3h0M244.4 523.3h0M243.7 520.6h0M243.5 522.1h0M244.9 521.7h0M245.5 520h0M245.5 519.4h0M246.1 520.5h0M243.3 518.1h0M244.7 519.7h0M244.4 519.9h0M248.5 523.4h0M247.6 520.8h0M248.7 521.4h0M248.1 519.5h0M246.9 519h0M248.9 518.3h0M248.1 517.9h0M249.1 519.7h0M250 509.8h0M251 509.7h0M250.7 509.4h0M249.7 506.1h0M249.3 505.7h0M250.5 506.1h0M253.7 508.9h0M252.7 509.6h0M253.4 511.1h0M253.5 508.6h0M253.4 511.3h0M254.1 509.2h0M252.5 510.9h0M252.3 511.1h0M252.5 507.3h0M254.4 506.8h0M255.1 505.9h0M253.1 505.7h0M255.1 508.1h0M256.4 572.7h0M257.9 572.6h0M257.5 571h0M255.8 571.9h0M257.6 572.8h0M258.3 572h0M257.8 571.4h0M255.4 569.1h0M256.4 567.5h0M256.3 566.9h0M255.6 567.9h0M256.5 569.6h0M256.1 569.5h0M256.3 569.7h0M261.4 571.8h0M261 567.6h0M260.4 567.4h0M259.1 569.3h0M261 568h0M256.8 430.9h0M257.6 429.2h0M255.8 430.9h0M256.5 430.1h0M258.2 428.7h0M257 425.8h0M257.4 426.2h0M259.4 430.2h0M260 430.6h0M260.3 428.5h0M259.1 428.7h0M260.6 430.4h0M260.9 431.4h0M258.4 431h0M259.6 425.4h0M259.9 428h0M259.7 428h0M260.1 425.5h0M258.7 426h0M255.7 423.3h0M257.4 424.4h0M258.2 424.1h0M257.6 422.6h0M257.1 422.2h0M258.2 424.4h0M257.1 424h0M255.7 420.4h0M257.7 421.2h0M257.6 419.3h0M258.7 424.7h0M260.7 424.6h0M259.7 423.1h0M260.3 419.4h0M261 421.4h0M259.2 421.1h0M259.7 421.9h0M260.6 420.8h0M261.2 421.9h0M263.4 535h0M261.7 534h0M263.4 533.2h0M262.6 531.6h0M263.4 532.4h0M264.2 532h0M262.4 531.9h0M262.1 529.9h0M263.2 532.7h0M263.6 532h0M262.8 531.4h0M267.5 533.3h0M266.3 535.5h0M266.6 530h0M267.5 532.5h0M265 531.8h0M267.5 530h0M266.4 532.2h0M267.2 532.1h0M262.4 461h0M263 461.8h0M262.7 461.2h0M264.1 461.5h0M262.6 461.6h0M264.1 457h0M263.3 456.3h0M263.4 456.8h0M263.9 456.9h0M265.1 459.3h0M265 461.3h0M267.1 460.4h0M267.4 460h0M265.4 459.4h0M265 459.5h0M266.5 462.1h0M266.7 457.1h0M265.4 456.3h0M264.9 457.9h0M262.7 440.7h0M263.6 441.4h0M263.7 441.4h0M262 442h0M262.6 440.4h0M262.1 439.2h0M266.8 441.2h0M266.9 442.9h0M265.3 441.7h0M265.2 441.3h0M266.4 442h0M266.8 443.1h0M266.6 443.1h0M264.7 443.3h0M267 440.3h0M265.2 437.7h0M265.5 440.2h0M266 438.6h0M267 439.1h0M268.4 459.4h0M269.6 460.6h0M268.1 460.5h0M269.4 459.1h0M269.8 457.2h0M269.3 458.9h0M268.3 457.1h0M268.7 456.6h0M273.6 459.7h0M273.2 459.7h0M270.6 461.5h0M272.2 461.3h0M272.1 461h0M272.4 459.7h0M271.1 457.1h0M272.2 458.1h0M271.4 456.2h0M273 457.3h0M270.7 457.9h0M274.5 491.9h0M274.1 492h0M276 489.9h0M276 490h0M274.7 487.7h0M273.7 488.1h0M276.7 488.1h0M275.1 489.6h0M274.5 487.4h0M274.1 489h0M276.1 489.7h0M274.2 487.9h0M275.5 489.7h0M279.1 490.3h0M279.3 491h0M277.7 490.8h0M279 489.6h0M278.9 489.5h0M277.9 489.6h0" stroke="#79fe59" stroke-width="3.0" stroke-linecap="round" fill="none"/><path d="M209.7 595.3h0M207.9 594.6h0M209.3 597.3h0M209.4 595.1h0M209.5 596.7h0M209.3 594.2h0M207.7 593.1h0M209.5 593.9h0M207.5 593.8h0M206.9 593.8h0M206.8 592.6h0M212.4 596.7h0M211.4 594.9h0M209.9 595.8h0M211.4 596h0M211.7 592.8h0M211.4 592.8h0M210.3 594.1h0M211.3 592.8h0M210.1 593.7h0M207.7 447.3h0M208.7 447.9h0M207.5 449.8h0M209.5 446.7h0M208.7 444.9h0M208.4 444.8h0M206.9 445.6h0M208.8 445.1h0M211.5 449.7h0M212.5 449.5h0M210.5 448.5h0M211 449.4h0M209.9 447h0M211.1 446.8h0M211.7 449.7h0M210 446.8h0M212.5 445.9h0M211.2 444.9h0M212.2 446.2h0M212 444h0M208.1 394h0M207.7 393.4h0M206.9 393.5h0M208.6 392.8h0M207 390.4h0M209.5 389h0M209.1 389.3h0M209 391.1h0M209.4 389.3h0M210.6 392.9h0M210.4 391.5h0M210.8 391.7h0M210.8 392.6h0M210.4 391.6h0M209.8 392.5h0M210.5 391.8h0M211.6 389.7h0M209.9 389.2h0M212.6 391.2h0M210.2 388.7h0M213.2 602.8h0M214.3 601h0M215.5 601.5h0M214.9 599.1h0M213.6 598.8h0M215.4 598.4h0M213.8 598h0M213 598.2h0M215.7 598h0M217 600.8h0M216.5 602.1h0M218 603h0M217.1 602.4h0M216 602.1h0M216.5 601.8h0M217.6 603.3h0M217.6 598.3h0M218.1 598.5h0M217.5 599.7h0M216.5 598.4h0M214.3 435.9h0M213.8 434.6h0M213.9 434.8h0M214 435.4h0M215.2 435.7h0M214.5 431.6h0M215.2 432.6h0M218.3 436.6h0M217 434.8h0M217 435.9h0M218.7 436.2h0M218.8 434.5h0M216.3 435.7h0M216.7 435.9h0M218.5 434.1h0M218.2 433.9h0M216.1 432.3h0M216.5 433.2h0M216.5 434.3h0M217.8 434.3h0M225.6 455.3h0M227.2 453h0M226.7 453.5h0M226.8 454.5h0M225.6 455.6h0M227.1 453.5h0M227.1 452.8h0M227.5 450h0M226.2 452.1h0M226.5 450.6h0M229.9 453h0M228.3 454.5h0M228.2 455h0M229.6 453.5h0M230.5 451.5h0M229 450.7h0M229 450.7h0M230.5 450.9h0M228.4 450h0M229.7 452.2h0M231.9 509.8h0M231.7 508.4h0M232.3 510.6h0M232.4 509.9h0M231.9 511h0M233.7 510.9h0M233.7 506.5h0M233 506.5h0M233.5 507.5h0M232 507.9h0M235.9 509.6h0M235.1 509.3h0M236.5 508.4h0M235.9 508.7h0M234.5 509h0M234.8 510.6h0M236.1 505.7h0M237 506.2h0M234.4 507.3h0M235.3 505.7h0M232.2 416.9h0M232.3 416.8h0M233.2 416h0M231.7 416.7h0M232.8 416.5h0M233.1 414.5h0M235.2 418.7h0M236.9 417.7h0M237 418.5h0M235.3 416.3h0M235.9 418h0M234.6 418.6h0M235.3 416.6h0M234.8 418.1h0M234.4 415.6h0M234.2 414.7h0M236.1 413.8h0M235.7 415.3h0M235.5 412.9h0M236.1 413.1h0M237.5 547.3h0M239.3 547.7h0M238.7 546.7h0M237.4 542.2h0M237.5 544.7h0M238.7 544h0M239.4 542.3h0M240.1 543.5h0M237.6 543.6h0M243 547.4h0M241 546.7h0M242.2 548.1h0M241.6 547.8h0M240.4 547.4h0M241.4 546.9h0M240.4 542.3h0M240.5 543.4h0M241.7 544.1h0M242.2 543.8h0M242.8 544.6h0M238.9 510.4h0M238.8 509h0M239.4 508.5h0M239.9 510.4h0M239.9 511.1h0M238.6 509.8h0M237.4 506.4h0M238.5 508h0M237.3 506.7h0M237.4 505.7h0M240.9 511.3h0M240.7 511.4h0M241.6 509.3h0M241.4 510.3h0M241.9 507.2h0M242.7 506.9h0M240.9 506.1h0M240.6 507.1h0M242.2 505.3h0M243.2 507.1h0M238.2 504.7h0M237.8 502.8h0M239.9 504.3h0M238.3 504.4h0M238.4 505h0M239.8 503.1h0M239.6 500h0M239.5 501.1h0M238.9 501.4h0M239.8 500.2h0M238 501.8h0M241 503h0M241.2 503h0M243.2 500.5h0M242.9 501.3h0M241.7 500.3h0M243.1 502.1h0M242.4 499.4h0M241.5 502h0M242.4 500h0M244 577h0M244.4 577.7h0M243.8 578.1h0M244.5 576.9h0M245.4 579h0M244.2 577.4h0M245.8 577.3h0M245.1 578.3h0M245.5 574h0M245.7 575h0M248.7 578.2h0M246.3 576h0M246.4 576h0M247.8 577.6h0M246.5 578.8h0M246.5 578.1h0M246.9 575.3h0M249.2 573.2h0M249.2 574.3h0M248.6 573.1h0M244.9 492.7h0M243.4 490.6h0M244.9 490.2h0M245.2 490.9h0M245.4 491.3h0M244.8 491.3h0M244.5 491.3h0M243.8 489.4h0M245.5 488.6h0M243.9 488h0M243.2 488.4h0M245.4 487.8h0M247.7 490.8h0M247.7 490.8h0M247.4 492.5h0M246.5 492.5h0M249.2 492.7h0M248.5 487.7h0M248.2 489.4h0M246.5 488.6h0M243.9 455.1h0M244.2 453.1h0M244.1 454.8h0M243.6 454.3h0M245.3 453.3h0M244.6 453.5h0M244.2 454.2h0M244.1 453.8h0M245.2 453h0M245.2 452.4h0M245.7 452.6h0M245 450.8h0M247.6 455.7h0M247.6 455.1h0M248.4 455.6h0M249 452.9h0M246.7 452.2h0M247.5 451.2h0M246.7 452.5h0M249 451h0M249.4 528.5h0M250.1 528h0M251.9 528.8h0M251.4 528.7h0M249.8 527h0M252.2 524.6h0M251 525.1h0M252.1 524.5h0M249.7 523.8h0M252.2 524.2h0M252 525.4h0M252.4 529.5h0M252.7 529.2h0M254.9 526.8h0M254.5 528.2h0M255.2 526.4h0M254.6 524.9h0M254.4 525.8h0M252.6 525.2h0M252.8 523.9h0M252.2 504.6h0M249.6 504.2h0M251.7 503.9h0M251.8 504.7h0M250.7 501.7h0M252.2 500.4h0M249.5 500h0M251.9 500.5h0M249.6 499.6h0M251.7 500.8h0M253.8 504.5h0M255.3 502.9h0M252.9 502.6h0M255.3 502.3h0M252.8 502.6h0M254.6 502.2h0M255.2 501.5h0M254.2 499.5h0M254.1 500.4h0M254.7 501.1h0M251.4 485.9h0M250.7 486.1h0M249.5 484.4h0M250 483.9h0M250.4 482.3h0M252 481.2h0M249.6 482.5h0M250.9 481.2h0M252.1 481.7h0M250.7 482.9h0M254.7 483.8h0M253.6 485h0M253.1 485.5h0M254.8 484.4h0M254.6 483.8h0M254.3 483h0M253.3 481.8h0M255.2 480.7h0M253.2 480.7h0M255.2 482h0M251.9 417.4h0M250.2 416.6h0M251.1 416.3h0M249.9 418.4h0M250.7 412.9h0M250.5 415.9h0M250.6 415.8h0M250.4 413.8h0M252.3 413.5h0M254.8 417.4h0M255.2 417.1h0M253 419h0M253.2 416.7h0M253.7 417.7h0M253 415.9h0M255.3 413.1h0M252.9 414.6h0M252.7 414.1h0M252.9 413.6h0M253.9 413.1h0M256.5 565.4h0M258.4 564.8h0M257.8 566.1h0M255.9 563.7h0M258.4 565.4h0M257.4 562.1h0M255.7 562.1h0M258.3 562.7h0M255.6 560.9h0M257.1 561.2h0M259.8 564.7h0M261.1 564.9h0M258.6 564.8h0M259.8 565.9h0M261.4 563.7h0M259.7 565.8h0M260.9 566.5h0M259.6 562h0M261.3 561.3h0M260.4 563.4h0M263 472.4h0M262.8 472.2h0M262.4 472.2h0M263.5 472.3h0M264 469.1h0M264.3 468.5h0M263.5 469.6h0M264.4 469.7h0M266.7 471.7h0M265.3 473h0M267.2 473.3h0M267.4 472.2h0M265.1 472.3h0M264.8 474h0M266.4 470h0M264.5 470h0M267.3 470.5h0M267 471h0M265.5 468.8h0M266.3 469.8h0M269.8 442.7h0M270 443.4h0M270.3 441h0M268.9 443.4h0M267.9 439h0M269.6 437.6h0M269.1 439.6h0M270.8 443.1h0M271 440.8h0M273.3 443.7h0M272.6 442.5h0M272.9 439.2h0M271.6 437.9h0M271 438.4h0M272.6 439.6h0M273.5 440.3h0M271.9 439.4h0M273.4 437.7h0M273.1 438.5h0M272 438.6h0M274 480.1h0M274.3 478.6h0M275.9 479.4h0M275.2 477.8h0M275.9 480.4h0M276.6 477.4h0M276.4 475.5h0M275.4 475.4h0M273.7 475.4h0M276.3 476.8h0M274.3 477.5h0M277 479.3h0M279.4 478.2h0M278.6 480h0M278.2 479.1h0M279.3 479h0M277.8 475.9h0M278.6 474.5h0M277.6 477.1h0M277.6 475.9h0" stroke="#8fff49" stroke-width="3.0" stroke-linecap="round" fill="none"/><path d="M189.3 523.3h0M190.4 521.9h0M191.3 523.1h0M191.3 522.6h0M191.2 519.2h0M191.3 517.7h0M189.8 517.7h0M190.4 519.2h0M194.5 522.3h0M193.8 520.8h0M193.4 522.8h0M194.5 523.2h0M193.4 521h0M191.6 522.8h0M191.8 521.8h0M193.3 521h0M193.2 522.5h0M192.8 518.3h0M194.1 518.1h0M193.2 519.3h0M193.4 519.4h0M195.3 496.6h0M194.8 496.4h0M195.1 496.4h0M196 495.8h0M194.8 493.9h0M195.7 494.1h0M195.4 495.8h0M197.1 495h0M199.7 496.8h0M199.4 496.4h0M198.4 496.2h0M199.5 496.8h0M198.3 497.1h0M199.1 499h0M197.8 495.1h0M200.5 493.6h0M199.1 493.3h0M198.1 493.6h0M198.7 494.5h0M199 493.9h0M200.4 494.4h0M202.9 528.4h0M202.3 526.9h0M201.2 529.4h0M201 527.5h0M203 528h0M203.6 528.6h0M203.4 528.3h0M200.7 526.3h0M203.4 523.7h0M203.5 524.3h0M203.4 524.7h0M201.5 524.7h0M203.5 524.8h0M206.1 527.9h0M205 527h0M204.8 528.8h0M205.1 528.7h0M204.4 527.8h0M204.3 529.3h0M205.5 525.3h0M205.9 523.7h0M202 509.6h0M202.4 509.8h0M203.4 509.6h0M202.1 511.3h0M201.2 509.1h0M203.2 505.9h0M201.9 506.2h0M202.5 507.1h0M201.5 507.8h0M205.8 509.7h0M206 511.1h0M205.4 509h0M205 508.3h0M205.4 510.4h0M204.5 508.5h0M205.4 510.6h0M203.7 505.7h0M206.3 506.4h0M205.9 507.8h0M205.9 508.1h0M205.1 506.8h0M207.2 545.2h0M207.9 545.5h0M209 546.2h0M207.2 544h0M207.9 543.5h0M208.9 543.1h0M207.2 544.9h0M209.2 544.6h0M207.3 544.1h0M207.6 543.9h0M209 544.5h0M212.2 546.2h0M211.1 546.2h0M210.6 545.7h0M210 546h0M209.9 545.1h0M210 543.7h0M210.5 543.3h0M210.2 544.4h0M209.8 542.9h0M211 544.5h0M214.1 548h0M215 546.4h0M213.4 547.9h0M213.7 545.5h0M215.5 543.4h0M213.7 544.7h0M213.2 543h0M215.6 542.9h0M214.8 544.6h0M214.1 545h0M214.1 545.1h0M217.2 546.2h0M218.3 546.2h0M217.7 547.8h0M218.8 546h0M217.7 545.4h0M216 545h0M217.9 545h0M218.6 542.4h0M216.6 544.6h0M217 543.1h0M215.1 465.8h0M215.7 467.1h0M215.4 466.1h0M214.1 462.3h0M214.1 462.2h0M213.7 465h0M215.8 463.4h0M215.7 464.5h0M215.7 464.2h0M215.1 464.2h0M214.1 463h0M217.6 465.3h0M218.4 466.2h0M217.1 466.7h0M217.8 466.4h0M217.9 463.8h0M216.1 465.1h0M217.2 464h0M218.5 464.7h0M218.4 462.4h0M218.5 464.7h0M221 479.4h0M221.1 479.4h0M219.5 478h0M220.3 477.6h0M219.2 479.4h0M221 478.5h0M220.4 479.7h0M220.1 475.6h0M220.6 476.2h0M221.4 474.6h0M219.1 475.8h0M221.7 476.7h0M219.2 474.6h0M220.4 475.5h0M222.9 480.3h0M222.4 480.1h0M221.9 478.1h0M223 477.9h0M222.6 477h0M224.3 475.1h0M223.7 476h0M219.2 455.9h0M221.3 454.7h0M220.2 453.2h0M220.8 454.7h0M220.1 454h0M220.6 455.8h0M221.3 454.5h0M221 451.8h0M221.2 452h0M221.8 452.2h0M221.4 449.9h0M223.7 455.7h0M222.9 455.1h0M222 454h0M222.8 450.3h0M224.4 450.1h0M222.9 450h0M222.1 452h0M223.2 452.4h0M222.7 451.6h0M222 451.2h0M221 410.6h0M219.7 410.2h0M221.7 410.8h0M220.2 411.4h0M220.7 411.7h0M221.7 410.1h0M221.3 408.4h0M220.4 408.2h0M219.5 408.2h0M219.7 408.4h0M219.6 409.5h0M221.4 408.6h0M223.8 409.9h0M224.7 411.1h0M224.1 411.7h0M223 412.1h0M222.8 412h0M222.2 412.9h0M224.3 408.7h0M222.4 407.2h0M222.1 408.4h0M225.3 551.9h0M226.5 552.9h0M225.3 552.3h0M227 553.1h0M228 553.6h0M226.6 549.4h0M226.7 549.3h0M227.6 548.5h0M226.9 551.3h0M225.7 551.3h0M225.7 550.7h0M227.5 550.1h0M229.3 551.9h0M230.1 554.2h0M230.5 554.3h0M228.8 552.8h0M228.9 552.8h0M230.5 553.6h0M229.3 548.3h0M229.5 549.7h0M229.3 550.7h0M225.1 523.4h0M225.8 521.1h0M225.4 521.1h0M225.4 521h0M227.8 521.2h0M227.6 517.8h0M225.8 519.7h0M226.2 519.4h0M225.2 519.9h0M230 522.2h0M228.1 523h0M230.9 521.3h0M230.4 521.3h0M229.4 522.4h0M229.7 521.8h0M229.4 521.4h0M231 521.8h0M229.7 518.2h0M230.2 519.2h0M230.3 518.5h0M230.5 519h0M227.1 443.5h0M227.9 443.2h0M225.7 442.4h0M225.1 442.2h0M226.4 438.9h0M226 440.2h0M225.3 437.8h0M225.5 438.9h0M226.2 439.3h0M225.8 439.7h0M225.1 438.5h0M227.2 438.7h0M225.7 438.4h0M228.4 442h0M228.9 441.6h0M229 439.3h0M228 438.7h0M228.5 438.6h0M228 439.3h0M229.1 437.7h0M229.2 440.3h0M233.4 588.3h0M232.7 590.1h0M233.5 589.3h0M231.9 589.2h0M233.6 588.4h0M233.4 590.2h0M232.2 587.9h0M233.1 585.3h0M233.3 587.8h0M234.2 589.2h0M235 590.6h0M234.4 589.7h0M236.7 590.5h0M236.4 589.6h0M235 589.5h0M234.2 587.5h0M236 587.5h0M236.6 586.6h0M234.5 588.2h0M236.9 588.1h0M234.8 586.9h0M234.1 515h0M231.2 514.5h0M232.1 514.5h0M231.7 516.5h0M231.2 511.5h0M231.8 511.6h0M232.2 513.1h0M232.4 514h0M232.2 512.4h0M236.4 516.6h0M235.6 515.1h0M234.1 516.3h0M236.8 517h0M234.7 517.4h0M234.3 517.4h0M235.2 516.3h0M237 514.1h0M235.8 513.8h0M234.2 512.1h0M235 513.9h0M236.1 513.8h0M232.3 490.7h0M231.4 492.6h0M231.3 490.2h0M233.2 489.8h0M232.1 489.5h0M233.4 486.8h0M233.1 487.4h0M232.2 487.1h0M235.5 490.6h0M236.4 490.4h0M236.6 490.7h0M235.8 492.6h0M235.4 492.4h0M236 492.6h0M235.6 487.7h0M235.1 487.4h0M235 488.1h0M236.6 488.5h0M234.3 488.4h0M234.2 487.8h0M234.7 487.7h0M240 540.5h0M239.9 541.7h0M239.1 540.5h0M237.1 540.7h0M240 537.2h0M238 537.3h0M237.3 536.7h0M237.2 537.9h0M237.2 537.9h0M238.3 537.1h0M238.6 537.1h0M239.4 537.9h0M240.3 539.1h0M242.4 540.4h0M242.5 539.8h0M240.3 541.4h0M240.2 538.7h0M240.5 538.5h0M240.6 536.5h0M240.9 538.9h0M240.8 538.2h0M245 619.4h0M244.7 622.1h0M244 621.8h0M243.7 621h0M243.5 622h0M246.1 619.9h0M245 620.1h0M244.9 621.4h0M245 620h0M245.3 619.4h0M244.9 617.2h0M244.9 618h0M247.9 619.6h0M247.2 620.9h0M248.9 621.4h0M249 616.8h0M248.6 618.2h0M247 618.7h0M247.3 617.4h0M246.7 618.1h0M248.5 618.8h0M246.2 474h0M244.9 473.7h0M244.8 471.7h0M244.3 474.1h0M244 471.8h0M245 471.1h0M244.4 471.2h0M244.4 470.9h0M244.5 468.5h0M245.8 471.3h0M245.6 470h0M247.8 471.4h0M246.3 473.1h0M248.1 472.1h0M248.1 474.2h0M247.9 473.9h0M248 471.4h0M248.6 471.3h0M248.7 470.7h0M247.4 469.7h0M248.9 469.8h0M245.4 416.2h0M245.7 418.1h0M245.1 418.5h0M245.4 413.8h0M244.9 415.8h0M246.1 414.4h0M244.2 414.9h0M245.5 414.3h0M244.6 415.3h0M243.8 413.8h0M248.5 419h0M249.2 416.2h0M248.4 417.1h0M248 418.3h0M248.7 418.8h0M246.6 417.9h0M246.9 416.8h0M248.6 416.2h0M248 417.9h0M246.6 414.2h0M247.1 414.7h0M250.3 539.9h0M249.4 540.5h0M251.3 540.6h0M251.3 541h0M249.8 541.2h0M252.3 539.5h0M250.5 541.9h0M249.5 539.8h0M251.4 540.5h0M251 537.5h0M252.1 537.5h0M249.5 539h0M250 537h0M250.7 538h0M254.7 540h0M252.4 539.2h0M252.4 540h0M254.3 541.1h0M255.3 540.8h0M254.1 539h0M252.4 538h0M250.7 399h0M251.4 399.8h0M250.1 398h0M250.4 397.8h0M250.8 396.5h0M250.4 396.6h0M251.7 396.4h0M251.7 395.6h0M252.5 398.8h0M253.5 399.3h0M254.2 397.6h0M252.8 400.2h0M253.3 397.7h0M254.6 399.4h0M252.6 400h0M252.7 399.5h0M253.7 400.1h0M252.8 395h0M254.6 396.4h0M254.2 394.9h0M255.3 396.3h0M258.2 533.4h0M255.5 535.4h0M255.6 533h0M257.5 534.5h0M256.3 535h0M257.3 535.1h0M257 531.7h0M257.5 530.9h0M258.2 531.4h0M257.2 530h0M257.9 532.7h0M257.2 532.8h0M261.1 535.1h0M261.3 534.2h0M259.1 535.6h0M259.7 532.8h0M260.2 532.9h0M260.5 531.9h0M258.5 531.3h0M259.5 532.6h0M260.5 532.8h0M257.4 517.1h0M258.3 515.6h0M255.5 516.8h0M256.1 515.3h0M255.9 515.1h0M257.5 513.2h0M256.9 513.1h0M256 512.1h0M260.8 514.5h0M258.7 517.3h0M258.5 517.4h0M259.4 516.2h0M258.9 513.3h0M261.1 513.6h0M260.3 514.1h0M261.3 513.3h0M260.7 512.8h0M260.4 512.1h0M261.3 511.6h0M261.4 512.9h0M260 513.9h0M267.9 551.6h0M268 552.5h0M267.6 551.7h0M269 549.9h0M267.7 549h0M270.4 548.3h0M268.6 550.7h0M268.9 549.8h0M268.9 549.7h0M267.6 550.5h0M270.8 553.2h0M273 553.4h0M272.6 552.1h0M271.5 552.9h0M271.7 552.5h0M271.5 551.4h0M271.4 553.8h0M272.9 552.7h0M273.4 554.4h0M273 551h0M273.5 550.6h0" stroke="#a4fc3c" stroke-width="3.0" stroke-linecap="round" fill="none"/><path d="M183.1 447.2h0M183.8 449.5h0M183.2 447.4h0M184.8 444.8h0M183.1 444.1h0M185.3 444.5h0M184.3 446.4h0M183.7 444.7h0M182.5 444h0M183.4 446.3h0M184.5 444.1h0M185.9 449.6h0M185.7 447.5h0M185.4 447.9h0M188.4 448.2h0M187.3 449.8h0M186.6 449.6h0M186 447.4h0M187 448.6h0M185.8 443.8h0M185.5 444.7h0M186.4 445h0M190.6 473.7h0M189.4 472.4h0M191.1 474.2h0M189.5 472.3h0M189.9 473.5h0M189.8 474.2h0M189.7 468.9h0M190.9 471.2h0M188.5 471h0M188.5 469.5h0M189.9 469.4h0M190.9 468.8h0M190.5 470.2h0M189.2 470.9h0M194 471.7h0M192.5 473.6h0M194.4 472.6h0M194.4 474.3h0M191.7 472h0M192.3 473.2h0M191.5 469.2h0M191.7 469.2h0M196.4 491.7h0M196.6 491.9h0M195.3 492.5h0M196.8 491.4h0M195.7 491.5h0M195.2 489.7h0M194.6 488.9h0M194.8 487.7h0M197.4 487.8h0M196 487.8h0M196.8 489.1h0M197.5 489.5h0M196.8 488.9h0M198.7 492.1h0M198.2 492.2h0M199.6 491.4h0M198.2 492.2h0M199.9 491.5h0M198.2 488h0M198.9 487.1h0M198.4 486.9h0M198.4 486.9h0M202.6 467.1h0M202.1 467h0M201.4 468h0M202.9 465.3h0M201.8 466.2h0M202.3 465.5h0M203.2 467.7h0M202.5 466.2h0M200.7 467.4h0M203.6 467.4h0M201.4 468.1h0M203.6 466.5h0M201.2 465.5h0M202.6 462.8h0M203.9 467.8h0M205.7 466.7h0M206.3 464.7h0M204.7 464.3h0M204.8 463.6h0M204.1 462.8h0M204.6 464.8h0M205.8 462.8h0M214.3 607.5h0M215.4 606.8h0M215.2 604.3h0M215.7 603.7h0M218.4 608.6h0M216 607.7h0M216.9 609.5h0M216.1 608.5h0M216.3 609.3h0M217.5 608.4h0M216.8 608.4h0M216.7 607.6h0M215.9 607.9h0M217.9 607.9h0M218.4 605.5h0M217.1 606.3h0M217.4 606.2h0M218 604h0M216.8 606.3h0M216.5 604.6h0M216.5 606.4h0M218.2 603.9h0M214.1 586.6h0M215.5 585.3h0M213.5 585.9h0M213 587.4h0M213.1 586.6h0M215.2 587h0M215.5 585.3h0M217.5 590.1h0M218.6 589.9h0M218.8 589h0M217.3 588.8h0M217.4 590.4h0M218.8 590.8h0M215.9 589.3h0M215.9 589.3h0M216.2 588.7h0M216.1 589.4h0M216.6 586.8h0M217.4 587.5h0M217.1 587.6h0M217.1 587.2h0M218.1 585.9h0M213.7 577.9h0M214.6 577.8h0M214.1 577.9h0M214.2 578.3h0M215 578.6h0M214 573.3h0M214.5 575h0M214.1 573.4h0M213.2 574.9h0M213.4 575.9h0M213.4 573.5h0M213.2 573.3h0M217 578.6h0M218.5 578.1h0M216 577.4h0M217.5 576.5h0M218 578.3h0M216.5 578.5h0M216.2 574.4h0M217.4 574.9h0M216 573.3h0M218.3 573.1h0M221.2 465.5h0M219.8 467.1h0M219.4 467h0M219.1 467h0M220.1 465.3h0M221.3 464h0M219.8 465h0M220.4 464.9h0M223 467.7h0M222.3 465.8h0M223.9 467.5h0M224 467.5h0M224.4 466.9h0M224.3 464.2h0M222.2 465.1h0M222.3 462.9h0M222.2 464.3h0M224 462.3h0M224.6 463.9h0M222.7 464.4h0M224.7 465h0M223.1 463h0M231.6 527.6h0M233.1 528.4h0M233.8 529.5h0M231.6 527.3h0M232.6 529h0M232.2 529.4h0M232.8 524.7h0M233.6 523.9h0M231.8 525h0M232.5 525.7h0M231.4 523.9h0M231.6 526.7h0M236.6 529.2h0M235.8 527.6h0M235.5 528.6h0M235.2 529.8h0M236.8 527.2h0M234.4 527.1h0M236.3 529.1h0M236.6 524.8h0M234.5 524.1h0M236.1 524.1h0M233.7 447.8h0M233.4 447.6h0M232.3 448.8h0M231.9 446.8h0M232.7 446.3h0M232.9 446.1h0M232 446.4h0M233 444.9h0M232.9 446.6h0M231.3 445.6h0M232.5 445.4h0M233.5 445.2h0M236.4 449.5h0M236.8 449.3h0M236.6 447.1h0M234.1 449.4h0M236.5 445.8h0M235.1 446.6h0M236.6 445.8h0M236.7 446h0M235.1 445.4h0M235.4 444.3h0M239.9 435.7h0M237.4 437.3h0M238.4 436.6h0M239.1 436h0M239.1 436.8h0M239.3 432.6h0M238 432.7h0M237.4 433.5h0M238.1 432.6h0M239.9 432.6h0M237.5 433.7h0M237.2 431.7h0M242.1 436.3h0M240.4 437.5h0M240.7 436.3h0M240.2 435.6h0M240.8 432h0M240.6 433h0M241.6 434.1h0M242.8 431.4h0M240.3 433.7h0M240.8 431.9h0M245.7 510.2h0M245.7 509.1h0M244.1 510.3h0M243.3 508.3h0M245.7 508.2h0M243.5 507.5h0M245.2 506.7h0M244.4 507h0M244 508.1h0M244.4 506.9h0M246.8 509.7h0M247.8 511.3h0M248.2 510h0M246.5 511.2h0M248.3 510.2h0M249.2 510.2h0M249 510.8h0M248.1 511.2h0M249.1 510.9h0M247.7 505.6h0M247.3 505.7h0M247.2 506.1h0M246 496.3h0M243.5 496.4h0M243.6 497h0M243.8 496.1h0M244.8 497.8h0M245 498.9h0M243.3 498.4h0M243.3 496.1h0M245.4 494h0M245.7 494.7h0M243.3 494.7h0M247.6 498.9h0M247.7 498.6h0M247.6 497.1h0M248.1 497.2h0M249.2 498.7h0M247 498.6h0M247.8 495.4h0M246.4 495.6h0M246.6 495.3h0M248.4 495.2h0M249 492.9h0M249.6 523h0M250.4 521.2h0M249.5 521.4h0M250.7 521.1h0M251.6 523.5h0M252.2 523.2h0M249.7 518.1h0M250.4 519.7h0M255.1 523.5h0M254.6 521.8h0M253.4 523.1h0M254.2 520.8h0M254.8 523.6h0M252.8 522.7h0M252.4 521.9h0M253.5 521.1h0M252.4 519.9h0M254.4 518.6h0M252.8 518.1h0M254.9 517.9h0M255.3 518.3h0M253.1 519.4h0M249.7 461h0M249.5 460.6h0M250.9 461.2h0M251 459.1h0M251.5 456.5h0M249.9 456.7h0M251 458.2h0M249.7 458.7h0M251.5 456.8h0M251.8 458.7h0M249.5 458.6h0M253 460.7h0M254.1 461.8h0M255.2 461.7h0M255.4 460h0M252.3 461.3h0M252.4 459.3h0M253.4 456.5h0M253.6 457.8h0M252.7 458.9h0M253.4 456.5h0M253.2 457.8h0M258.4 502.2h0M257.8 502.9h0M257.4 504h0M256.5 505.1h0M257.7 503.3h0M256.5 502h0M257.8 501.1h0M255.7 499.7h0M256.8 500.1h0M257.3 501.9h0M257.1 501.2h0M256 501h0M259.1 502.6h0M259.5 504.2h0M260.9 503.6h0M259.5 503.9h0M258.9 502.6h0M258.8 503.1h0M260.4 499.6h0M261.3 500.3h0M258.9 501.3h0M258.7 501.2h0M256.1 466.1h0M257.5 468.2h0M256.1 468.1h0M257.9 467.6h0M257.7 464.8h0M257.8 462.8h0M257.6 464.3h0M257.5 463.5h0M255.4 464.3h0M258.3 464.9h0M255.5 464.7h0M256.2 464.5h0M258.4 466.1h0M258.9 467.7h0M260.2 466.5h0M261 467.3h0M260 467.2h0M260 463.8h0M258.8 463.8h0M258.6 462.2h0M259.5 462.3h0M260.1 464.6h0M256.5 462h0M257.2 460.2h0M257.5 460.3h0M255.4 459.5h0M256.3 459.4h0M256.8 456.5h0M257.1 457.5h0M257.2 458h0M256.8 456.7h0M261.3 459.4h0M260.7 459.2h0M261.2 459.8h0M259.3 461.2h0M259.2 459.2h0M260.1 459.6h0M259.6 460.6h0M259.1 462.1h0M259.9 456.7h0M260.8 456.4h0M259.3 458.1h0M260.6 457h0M260.5 458.9h0M262.2 454h0M262.7 453.8h0M261.5 453.5h0M262.2 454.8h0M263.9 454.6h0M262.3 451.3h0M262.3 450.4h0M263.3 451.6h0M263.4 451.8h0M265.8 455.6h0M266.5 452.9h0M267.5 454.5h0M265.4 452.3h0M265 451.6h0M264.8 452.4h0M265.2 452.4h0M265.2 452h0M267 451.6h0M265.5 452.4h0M267.3 450.6h0M265.1 449.9h0M265.8 451.6h0M275.8 486.6h0M274 486h0M276.5 486.4h0M273.9 485h0M276.5 485.8h0M275.9 486.3h0M275.3 486h0M274.3 486.7h0M273.8 484.8h0M274 482.3h0M275.3 482.7h0M276.1 481.8h0M274 480.6h0M273.7 481.9h0M274.2 481.1h0M276.6 481h0M279.5 486.2h0M277.7 484.1h0M277.4 485.6h0M278.1 480.8h0M278.2 481.8h0M277.4 482.2h0" stroke="#b4f836" stroke-width="3.0" stroke-linecap="round" fill="none"/><path d="M196.2 504h0M197.5 504.2h0M196.5 505.1h0M196.9 503.7h0M194.8 502.3h0M194.8 505.2h0M196.3 503.1h0M196.5 502.2h0M195.8 501.5h0M198.6 502.5h0M199.3 504h0M198 504.9h0M200.5 502.3h0M200.5 504.7h0M198.9 502.4h0M199 504.5h0M199.1 503.3h0M200.1 502.8h0M200.3 500.2h0M197.8 500.7h0M200.1 501.8h0M200.1 500.7h0M197.9 500.7h0M208.4 522.5h0M209.7 522.5h0M206.7 522.3h0M207.5 521.3h0M208.9 523.4h0M209.6 519.8h0M208.4 518.5h0M209.4 519.6h0M207.3 519.7h0M206.7 518.2h0M207.5 520.2h0M209.6 518.6h0M208.1 520.5h0M212.5 520.7h0M212.2 521.6h0M210.6 522.1h0M212.6 523.2h0M210.8 519.7h0M211.5 520.5h0M211.2 520.4h0M211.1 518.6h0M211.7 518.4h0M210 518.5h0M209.4 510.9h0M209.2 510.3h0M207.2 510.6h0M207.5 510.9h0M207.4 509.4h0M209.2 509.1h0M209.6 506.7h0M209.1 506.2h0M208.4 505.2h0M207.7 507.9h0M206.9 507h0M207.8 506.2h0M211.5 509.9h0M211.6 509.5h0M211.7 510.6h0M210.9 508.7h0M210.3 510.5h0M211.2 508.7h0M210.1 508.4h0M209.8 509.2h0M211.7 509h0M210.5 507.2h0M210.6 505.2h0M209.3 455.9h0M209.1 455.2h0M206.9 453.3h0M207.6 455.7h0M208.1 453h0M206.8 454.5h0M207.9 453.5h0M208.7 450.8h0M206.9 452.1h0M206.9 452.3h0M208.8 450.3h0M209.4 452.7h0M208.4 450.8h0M212.8 454.4h0M212.7 455.7h0M211.8 453.6h0M211.5 455.2h0M210.2 453.5h0M212.2 452.1h0M210.4 452.2h0M211.5 451.3h0M212.6 451.3h0M212.1 451.9h0M214.1 527.9h0M214.3 528.1h0M215.3 526.9h0M214.2 528.1h0M214.9 529.3h0M213.9 526.8h0M214.6 529.5h0M213.6 528.2h0M215.5 527.1h0M215.1 526.5h0M214.7 525.8h0M213.9 526.5h0M214.3 525.2h0M214.1 524.5h0M214.5 523.7h0M216.8 526.9h0M217.2 529.4h0M217 529.1h0M216.9 528.7h0M217.3 528.9h0M218.3 529.7h0M218.3 526.3h0M218.6 526.5h0M215 454.2h0M214.5 454.3h0M213.7 454.7h0M213.9 455h0M214.5 455h0M214.3 455.8h0M213.2 455.9h0M215.6 454.7h0M214.5 451.3h0M214.1 452.3h0M214.3 451.1h0M214.5 451.7h0M214.6 451.7h0M218.4 455.3h0M218.7 454.5h0M216.3 454.3h0M215.8 454.5h0M216.8 452.1h0M218 451.8h0M216.4 450.7h0M217.3 452.8h0M216.6 450.9h0M216.8 450.7h0M226.3 609.2h0M227.9 608.8h0M227.1 609.3h0M226.7 608.9h0M226.1 604.5h0M227.8 606.7h0M225.8 605.5h0M227.7 605.7h0M225.2 604.6h0M229.1 606.8h0M228.1 609.7h0M229.1 608.3h0M228.8 608.8h0M229.7 609.1h0M229.1 607.1h0M230.1 605.3h0M228.6 606.7h0M229.2 605.2h0M229.2 605h0M230.2 604.4h0M230.7 605.6h0M229.1 604.4h0M229.2 606h0M227.8 540h0M227.8 539.1h0M225.7 539.2h0M227.7 541.7h0M226.9 540.2h0M227.9 539.2h0M227.6 537.5h0M226.5 537.4h0M225.4 536.8h0M226.4 538.2h0M226.7 538.9h0M226.7 537.8h0M229.6 541.9h0M230.6 540.4h0M228.1 539.3h0M230.8 539.7h0M228.5 540.9h0M229.5 538.3h0M230.7 538.5h0M228.3 538.8h0M228.5 536.3h0M230.6 536.1h0M228.3 537.4h0M231.3 602.9h0M231.1 602.1h0M231.9 600.6h0M231.1 602.6h0M233.8 602h0M232.7 601.1h0M232.2 601.6h0M231.9 602.9h0M232.3 600.6h0M232.2 601.3h0M233.5 598h0M232.1 599.3h0M232.7 598.1h0M233.5 599.9h0M235.9 602.9h0M236.5 603.6h0M236.4 601.2h0M236.9 597.6h0M234.4 599.5h0M235.4 599.5h0M234.7 599.4h0M234.1 598.4h0M235.9 599.5h0M231.9 453.1h0M232.9 454.4h0M233.3 455.9h0M232.5 453.3h0M232.3 455.6h0M231.5 453.8h0M232 455.5h0M234.2 454.3h0M235.4 453.1h0M234.8 453.7h0M237 454.9h0M236.3 453.7h0M236.3 454.6h0M236.5 454.5h0M234.9 455.5h0M235.3 455.5h0M235.9 450.4h0M235.9 452.4h0M236.3 452.6h0M235.1 450.1h0M235.8 450.9h0M235.2 450.7h0M235.3 452.6h0M234.1 443h0M232.4 440.6h0M233.1 440.8h0M233.9 441.4h0M233.8 438.9h0M234 439.7h0M231.6 439.7h0M232.4 438.5h0M232.2 439.5h0M232.2 439.4h0M231.3 440.2h0M236.3 441.7h0M234.4 442.3h0M235.4 443h0M235.6 442.2h0M236.2 442.3h0M234.8 440.6h0M234.6 438.4h0M236.1 438.1h0M236.7 439.8h0M235.4 439.7h0M235.2 439.6h0M236 439.6h0M233.2 391.4h0M231.2 393.8h0M232.5 391.7h0M232.4 388.4h0M232.9 390.5h0M232.8 389.1h0M233.6 389.4h0M232.2 389.7h0M232.7 389.2h0M231.3 390.8h0M234.2 391.6h0M236.8 392.3h0M236.5 392.8h0M235.1 392.5h0M234.2 388.9h0M236.1 389.4h0M234.8 389.6h0M236.1 391h0M235.1 391.1h0M235.7 390.8h0M234.8 389.4h0M236.3 388.9h0M236.2 390.2h0M237.5 460.8h0M238.9 461.4h0M239.4 461.3h0M237.9 459.4h0M239.6 459.1h0M239.6 459.2h0M239.8 457h0M240.1 456.6h0M237.9 456h0M238.1 458.7h0M240.4 461h0M240.9 460.1h0M241.3 459.4h0M242.4 460.6h0M240.6 460.7h0M242.1 459.3h0M240.6 459.7h0M242.8 457.8h0M241.4 456.5h0M240.7 458.1h0M242.4 456.9h0M242.9 457.9h0M240.5 458h0M245.9 594.8h0M243.3 597.3h0M243.3 594.8h0M244.1 596.3h0M246.2 594.8h0M246.1 594.8h0M246 593h0M248.2 595.6h0M246.7 594.9h0M248.2 595.1h0M247.8 596.6h0M248.7 596.9h0M247.8 594.5h0M249.1 595h0M246.9 594.7h0M247.5 596.2h0M247.3 596.1h0M246.8 593.4h0M246.8 594.2h0M246.8 593.3h0M247.7 592.4h0M247.3 593.3h0M247.5 593.7h0M244.9 560.3h0M244.7 560.4h0M246.2 558.8h0M244.8 557.5h0M244.2 558.7h0M244.8 560h0M244.2 559.9h0M243.8 557.2h0M246 556.7h0M244 556.9h0M245.1 556.4h0M245.6 556.5h0M245.7 555.7h0M246.1 554.6h0M246.9 560.4h0M248.5 557.7h0M248.2 557.7h0M246.8 557.8h0M249.1 555.9h0M248.9 555.7h0M246.6 557.3h0M246.4 555.4h0M249 556.7h0M244.7 467.3h0M245.2 467.8h0M244.9 466.9h0M244.6 467h0M243.6 465.3h0M244.7 468h0M245.4 467.4h0M244.2 467.1h0M244.4 467.6h0M246.1 463.3h0M246.2 462.3h0M244.9 465.1h0M245 463.5h0M243.6 464.2h0M244.3 462.2h0M248.8 467.6h0M247.3 467.1h0M248.1 467.5h0M246.6 463.7h0M247.6 462.5h0M249.1 462.9h0M249.1 463.6h0M249.3 462.3h0M245 434.5h0M246.1 434.9h0M244.7 437h0M245.2 434.8h0M244.7 435.4h0M243.6 432.2h0M245.9 433.9h0M246.1 434.3h0M244.6 432.9h0M246.1 431.5h0M243.4 433.8h0M248.5 434.7h0M246.5 435.5h0M248.4 434.5h0M247.1 435h0M248.8 435.4h0M247.7 435.8h0M247.6 431.9h0M246.9 431.5h0M248.6 431.4h0M246.7 434.3h0M248.4 433.4h0M247 434.4h0M252.2 601.2h0M252.2 602.2h0M249.4 601.9h0M250.3 602h0M249.6 601.4h0M249.7 600.6h0M251.3 599.7h0M250.1 597.9h0M252.2 598.4h0M251.8 599h0M251.1 600.5h0M250.1 597.9h0M252.4 602.1h0M253.5 602.8h0M255.2 603h0M253.4 602.5h0M252.8 601.5h0M253.8 602.4h0M254.4 601.2h0M253.8 598.4h0M253.2 597.9h0M254.9 597.7h0M253.5 599.2h0M264 547.3h0M261.8 547.7h0M261.7 547.1h0M264.4 547h0M261.8 546.4h0M262.6 548.1h0M261.5 546.5h0M262.5 545.8h0M263.3 545.7h0M263.5 548.2h0M261.8 544.5h0M262.1 543.3h0M262.5 544.8h0M262.1 542.5h0M263.2 544.4h0M261.9 544.4h0M261.5 543.9h0M264.3 545h0M263.1 544.5h0M265.4 545.6h0M266.8 547h0M265.8 547.4h0M266.3 543.7h0M268.3 498.1h0M269.2 496.3h0M270.1 496.9h0M270.4 497.9h0M268.5 497.6h0M270.3 498.7h0M269.4 495.7h0M268.2 493.4h0M267.7 495.7h0M270.2 494.9h0M268.9 493h0M273.1 497.4h0M270.7 497.7h0M271.7 497.4h0M271.5 499h0M273.5 496.4h0M272.8 498.9h0M271.6 497.7h0M271.1 494.9h0M270.6 493.8h0M271.2 495.1h0M270.9 495.6h0M273.2 495.3h0M268.5 455h0M269.5 455.9h0M269.9 454.7h0M268.4 455.8h0M269.4 452h0M268.6 452.6h0M268.2 452.4h0M267.6 450.7h0M269.6 450.6h0M269.9 451.8h0M270.6 450.1h0M269.5 451.7h0M268.2 450.7h0M272.7 455.1h0M272.9 455.6h0M272.2 454.2h0M273.1 455.2h0M273 450.8h0M272 452.1h0M271.8 451.6h0M272.3 450.5h0M270.7 452.4h0M271.2 451.3h0" stroke="#c3f134" stroke-width="3.0" stroke-linecap="round" fill="none"/><path d="M188.9 491.8h0M191 490.5h0M191.4 490.2h0M188.9 491.9h0M189.1 491.5h0M188.9 492.4h0M190 490.8h0M189.7 490.9h0M188.7 491.3h0M188.9 488.5h0M189.5 487.6h0M190.6 488.3h0M193.1 490.2h0M192.8 492.6h0M191.6 490.9h0M191.8 491.3h0M192.9 491.2h0M192.1 492.6h0M194.2 487.6h0M194 488h0M192.6 487.6h0M193.2 488.9h0M192.5 487.3h0M194.4 488.1h0M221.6 608.9h0M221.8 609.3h0M221.7 609h0M220.8 609.1h0M220.2 608.6h0M220.6 608h0M219 604.3h0M220.9 604.3h0M221 603.7h0M224.1 609.3h0M222.9 608.2h0M223.8 608.2h0M224 609.2h0M224 608.8h0M222 605.9h0M223.2 606.6h0M223.8 605.5h0M224.2 605.8h0M222.3 604.5h0M222.7 606.2h0M222.3 606.6h0M223.1 606.7h0M222.4 605.2h0M223.8 604.6h0M219.1 534.8h0M220.6 535.3h0M220.9 534.4h0M219.4 534.2h0M221.4 532h0M219.8 531.4h0M221.5 531.9h0M219.9 531.1h0M221.7 531.5h0M219.3 531.1h0M219.3 531.5h0M224.7 534.6h0M224.8 533.7h0M222.7 535.5h0M224.4 533.1h0M224.5 535.8h0M223.2 536h0M224.4 534.6h0M223.8 532.6h0M224.7 532.7h0M222.6 530.4h0M222.3 531.6h0M223.6 531.8h0M224.5 531.6h0M221 471.4h0M221.3 473.7h0M220.9 473h0M219 471.9h0M220.7 470.3h0M220.5 469.9h0M219.9 469.5h0M220 468.5h0M220.3 470h0M221.7 470.8h0M218.9 469.2h0M219.5 470.7h0M222.1 474.3h0M223.6 473.1h0M223.7 473.2h0M222.5 472.3h0M224.3 471.5h0M223.9 472.1h0M224 474h0M224.7 470.9h0M222.6 468.5h0M223.7 470.7h0M224.8 470.9h0M222.1 471.1h0M220.6 441.6h0M221.5 442.9h0M219.7 443.2h0M220.8 442.2h0M219.7 443h0M219.3 441h0M220.5 443.4h0M219.6 441.8h0M221.4 439h0M219.9 439.6h0M221.6 439.8h0M224.5 443.2h0M224.2 442.8h0M224.5 443.2h0M224.9 441h0M223.1 443.3h0M224.1 442.3h0M222.2 438h0M224.3 437.8h0M224.4 438h0M222.7 440.3h0M223.1 438.9h0M224.8 439.4h0M222.6 437.7h0M232.4 504.9h0M231.8 503.9h0M231.4 503.1h0M233.6 502.4h0M231.4 503.7h0M233.5 504.2h0M231.5 504.7h0M231 502.4h0M233.4 503.9h0M231.5 499.8h0M232.8 499.2h0M232.5 500.7h0M231.8 499.3h0M233.3 500.6h0M232.5 500.2h0M234.5 503.6h0M236.3 503.5h0M236.1 502.6h0M234.9 502h0M234.8 502.1h0M235.9 500.4h0M235.9 501.3h0M235.2 501.8h0M234.9 501.8h0M239.5 602.4h0M239.9 601.8h0M239.2 601.9h0M237.9 601.1h0M239.2 603.6h0M238.5 603.5h0M237.4 603.1h0M238.1 602.4h0M239.6 600.8h0M239.7 600.2h0M238.1 600.4h0M239.2 597.7h0M239.2 599.6h0M238.2 599.6h0M240.5 602.1h0M242 602.9h0M241 601.8h0M241.7 603h0M241.1 600.7h0M241 602.5h0M240.2 598.3h0M241.4 597.7h0M241.5 600h0M242.9 599.7h0M239.2 522.6h0M237.6 522h0M237.7 520.7h0M239.4 521.1h0M239.9 520.7h0M238.7 522h0M237.8 518.8h0M240.2 518.7h0M237.9 519h0M239.9 519.5h0M238.7 517.9h0M237.5 520.3h0M237.9 518.2h0M242.4 523.3h0M241.6 523.3h0M241.2 521.6h0M242.7 521.6h0M240.5 519.1h0M242.7 520.2h0M242.6 518.4h0M240.8 518.4h0M242.9 519h0M240.9 520.2h0M241 519.7h0M238 477.8h0M237.8 479.3h0M239.4 480.2h0M239.8 477.9h0M237.8 478.4h0M237.6 479.9h0M239.4 474.8h0M240.2 476.8h0M242.5 478.8h0M242.1 478.1h0M241 479.4h0M240.2 478.8h0M241 479h0M242.8 479.6h0M242.2 479.2h0M241 478.3h0M242.4 478.5h0M241.9 479.5h0M241.4 479.4h0M242.8 479.6h0M242.3 475.5h0M242.6 475h0M241 476.3h0M242.4 475.2h0M244 461.6h0M246.2 461.8h0M246.2 460.7h0M245 459.1h0M245.2 460.7h0M245.1 457.8h0M246.1 456.4h0M245.5 458h0M244.2 458.3h0M246.2 457.8h0M244.2 457.7h0M243.4 457h0M244.6 458.5h0M247.4 460h0M247.3 459.9h0M246.7 461.2h0M246.8 460.5h0M247 460h0M247.1 461.7h0M249.3 457.5h0M248.2 456.8h0M248.2 458.5h0M247 456.1h0M248.3 456h0M243.3 409.9h0M243.8 411.2h0M246.2 411.8h0M243.8 410.8h0M246 410.1h0M244.8 410.9h0M243.3 408.9h0M245.6 409.6h0M243.6 408.1h0M245 408.2h0M245.1 407.8h0M245.7 409h0M246.8 412.2h0M249.3 411.9h0M248.6 409.9h0M248.9 412.4h0M247.5 411h0M246.5 411.9h0M247.3 412.1h0M248.4 411.4h0M247.5 411.9h0M247.7 407.8h0M248.9 407.6h0M247.5 407.4h0M251.8 559.2h0M249.9 559.6h0M251.9 560.5h0M252 559.9h0M251.7 559.6h0M250.7 558.8h0M250 560.5h0M251.5 559.2h0M251.7 554.9h0M251.7 555.6h0M252 554.8h0M249.4 557.4h0M252.3 555.9h0M255 558.3h0M254 557.6h0M253.5 560.4h0M254.1 559.6h0M254.1 559.8h0M253 554.9h0M254.7 556.5h0M252.4 554.5h0M253.9 557.3h0M255.2 555.5h0M252.5 555.5h0M285.8 490.2h0M287.4 490.3h0M287.4 490h0M288.7 490.9h0M287.6 491h0M287.6 486.9h0M287.3 488.4h0M287.8 489h0M288.7 487.6h0M289 491.1h0M290.3 492.6h0M289.5 490.2h0M290 491.2h0M290.3 490.7h0M289.1 489.8h0M288.9 489.2h0M289 488.2h0M289.3 488h0M289.3 488.8h0M289.3 489.1h0M289.9 489.2h0M291.2 488.6h0M289.2 488.1h0M291.7 489.2h0" stroke="#d4e735" stroke-width="3.0" stroke-linecap="round" fill="none"/><path d="M209 515.4h0M209.5 514.9h0M208.8 517h0M209.5 517.3h0M207.3 516.9h0M208 515.1h0M207 516h0M208.2 513.3h0M208.4 513.6h0M206.9 512.7h0M208.7 513.9h0M211.7 517.2h0M211.5 517.2h0M212.6 515.8h0M210.9 514.5h0M211.5 514.8h0M210.3 517.4h0M210.6 516.6h0M212.7 513.5h0M210.6 511.8h0M210.8 512.7h0M212.7 513.5h0M210.5 513.9h0M212.6 514.3h0M211.9 512.7h0M208 472.6h0M207.2 473.3h0M207.2 474.1h0M209.7 472.4h0M207 472.7h0M208.2 468.6h0M209 468.7h0M207.9 471.1h0M206.8 469.7h0M206.8 469.8h0M208 469h0M211.9 472.5h0M211 474.3h0M209.9 472.3h0M210.5 474.3h0M209.8 472.9h0M212.3 468.5h0M211.8 471.2h0M212.3 471.3h0M210 469.5h0M209.8 469h0M210.5 470.3h0M212.4 469h0M211.2 469.1h0M210.7 471.1h0M214.8 535.3h0M215.4 533.5h0M215.5 535.4h0M214.9 534.7h0M213.5 535.4h0M212.9 535.4h0M214.1 534.8h0M213.6 535.4h0M213.9 530.2h0M214.9 530.5h0M215.5 532.7h0M215.3 530.7h0M215 532.4h0M217.3 533.2h0M218.4 534.8h0M217.4 535.7h0M216.1 535.3h0M217 533.4h0M217.7 529.9h0M218.8 531.2h0M218.2 530.3h0M216.4 531.4h0M218.5 532.6h0M215.9 531.5h0M217.1 530.4h0M213.4 497.5h0M215.7 496.2h0M214.2 498.5h0M213.9 496.2h0M214 497.9h0M214 497.9h0M214.4 497h0M215.2 497.7h0M214.3 495.7h0M215 495.6h0M214.4 495.6h0M215.7 495.3h0M215.6 494.5h0M216.8 498.2h0M218.8 497.5h0M217.3 498.7h0M218.7 496.4h0M217.9 493.5h0M217.2 495.5h0M216.1 494.6h0M216.4 493.5h0M218 494.5h0M217.7 495.2h0M217.8 494.4h0M217.9 493.5h0M220.3 496.9h0M221.2 497.7h0M220 498.2h0M221.1 497.5h0M218.9 496.8h0M220.9 496.5h0M220.4 496.6h0M219.2 494.2h0M218.9 494.9h0M220.4 493.5h0M220.5 495.6h0M221.3 493.5h0M220.5 493.4h0M222.5 496.9h0M224.3 497.6h0M222.3 496.2h0M223.8 498.1h0M224.5 494.5h0M222.1 492.9h0M223.5 495.4h0M222.6 494.8h0M222.5 492.9h0M223 494.6h0M222.7 493.2h0M223.8 494.7h0M228 546.4h0M227.1 546.3h0M225.9 546.9h0M225.4 547.1h0M226 546h0M226.1 545.5h0M225.8 545.5h0M225.5 543.4h0M227 543.9h0M227.1 543.7h0M225.5 542.6h0M225.4 543.5h0M230.7 547.9h0M229.3 545.8h0M229.2 545.7h0M230.1 546.6h0M228.5 546h0M230.7 546.3h0M230.4 543.3h0M229.7 543.4h0M228.6 542.9h0M230.6 542.2h0M228.8 542.9h0M229.1 543.5h0M229.2 542.6h0M226 515.8h0M226.9 516.7h0M227.7 516.8h0M227.4 516.3h0M225.4 514.8h0M225.5 515.5h0M227.5 517.2h0M226.2 515h0M225.9 512.3h0M225.3 514.3h0M227.3 512.7h0M225.2 512.8h0M226.9 513.8h0M230 515.9h0M229 515.3h0M228.5 517.3h0M229.6 517.5h0M228.7 512.8h0M228.5 512.8h0M230.1 513.6h0M229.3 512.9h0M228.1 512.1h0M229.5 512.5h0M230.2 514.3h0M229 513.2h0M226.7 491h0M227.1 491.2h0M227.9 491.9h0M227.1 492.3h0M225.4 490.4h0M226.2 492.5h0M227.3 491.9h0M226.7 489.5h0M227.1 488.5h0M226.3 488.4h0M227.9 487.5h0M229.4 492.5h0M229.7 490.8h0M228.4 492.4h0M228.2 489.9h0M228.7 491.9h0M228.3 490.2h0M228.3 490.3h0M228.9 488.7h0M228.5 489.3h0M230.2 487.1h0M229.2 489.2h0M230.5 489.5h0M229.8 489.5h0M230.1 487.4h0M238 533.6h0M237.4 534.4h0M237.6 533.1h0M239 535.1h0M240 535.6h0M238.9 533.5h0M237.4 534.7h0M240 531h0M238.8 530h0M240 530.1h0M239.8 530.4h0M240.1 530.6h0M240 531.6h0M239.8 532.7h0M241.6 534.5h0M241.5 535.4h0M242.5 534.7h0M240.5 532.9h0M242.5 535.5h0M242.3 536h0M241.9 534.7h0M242.9 532.6h0M241.3 531h0M240.4 530h0M242.6 531.4h0M243.5 484.9h0M243.4 485h0M243.5 486h0M244.8 486.4h0M243.4 484.1h0M246 486h0M243.6 482.9h0M244.3 482.7h0M244.4 481.4h0M244.8 483.4h0M245.2 481.8h0M245.9 482.4h0M243.9 480.9h0M245.6 483.4h0M247.2 486.1h0M248.4 484.7h0M249.2 486h0M248.1 484.1h0M248.4 484.4h0M246.6 484.9h0M246.3 486.3h0M247.1 481h0M249 481.3h0M247.3 483.1h0M246.4 483.4h0M249.6 441.7h0M251.6 442.8h0M250.7 442.3h0M251.6 437.6h0M250 439.7h0M250.6 439.9h0M251.6 438.9h0M250.8 439.4h0M250.6 439.3h0M252.9 440.7h0M255 442.1h0M252.7 442.1h0M252.5 441.9h0M252.4 441h0M253.2 440.8h0M253.1 440.8h0M253.2 441h0M253.3 439.3h0M254.5 439.2h0M252.4 439.3h0M255 439.7h0M255 439.1h0M254.9 438.7h0M255 439.8h0M253.6 439.5h0M256.5 511.1h0M257.5 510.4h0M255.7 509.1h0M258.2 506.5h0M256.7 508h0M258.2 508.2h0M256.4 506.4h0M258.2 505.2h0M256.4 506.1h0M255.8 507.2h0M256.3 508h0M257.1 506.3h0M258.1 507.2h0M260.1 509.6h0M260.9 510.9h0M259.7 510.1h0M258.9 511.2h0M261 508.6h0M261.1 510.6h0M260.1 506.3h0M260.3 508.2h0M260.5 508.1h0M261.1 505.2h0M260.4 506.6h0M260 505.8h0M261.5 497.3h0M262.3 499h0M264.1 497.1h0M264.1 498.4h0M264.2 496.6h0M264.1 497.1h0M264.3 496h0M261.6 493.9h0M263.8 495.4h0M263.1 493h0M261.5 495.5h0M265.7 496.7h0M266.2 497h0M264.7 496.3h0M265.4 497.8h0M266.5 498.5h0M264.8 494.2h0M267.1 494.4h0M265.3 494.4h0M265.6 495.6h0M266.4 495.1h0M267.1 494.7h0M264.7 494.8h0M267.5 495.6h0M264.8 493.1h0M263.5 486.2h0M261.6 485.2h0M262.4 484.8h0M263.8 486.1h0M263 486.1h0M264.1 481.6h0M263.2 483.4h0M261.5 481.4h0M262.2 482.1h0M262.7 483.5h0M265.9 484.8h0M265.8 485.7h0M265.5 484.3h0M264.8 484.6h0M267 484.3h0M267.2 485.2h0M265.8 481.3h0M265.7 482.7h0M264.6 482.3h0M265.9 481.9h0M267.3 482.6h0M266.1 481h0M266.9 481.7h0M264.7 483.1h0M267.4 481.9h0M269.3 485.1h0M270.5 484.8h0M268.5 483.8h0M267.7 480.9h0M269.9 483.5h0M269.1 482.2h0M269.2 482h0M267.6 483.5h0M269.7 481.9h0M267.9 483.5h0M270.5 482h0M273.3 484.1h0M272.4 484.2h0M271.8 483.9h0M272.1 485.8h0M270.8 483.1h0M273.6 483.6h0M273.4 483.5h0M273.5 481.2h0M272.6 483.7h0M272.8 483.2h0M273.4 480.7h0M273 482.2h0M270.8 480.8h0M271.3 481.2h0" stroke="#e1dd37" stroke-width="3.0" stroke-linecap="round" fill="none"/><path d="M206.9 485.5h0M209.4 484.5h0M207.4 484.4h0M209.1 486.7h0M209.3 484.2h0M207.7 483.7h0M207 483.2h0M209.7 481.8h0M208.1 482.6h0M212.6 485.5h0M211 483.9h0M209.8 485.9h0M210.9 485.1h0M211.5 485.4h0M211.8 484.2h0M210.4 484h0M211.9 482.9h0M212.1 483.5h0M211.7 481.5h0M212.6 483.3h0M212.5 482h0M210.7 482.1h0M210.9 482.2h0M211.1 481.4h0M210.8 481.5h0M211.9 482.4h0M207.1 480.2h0M207.3 479.4h0M209.5 480.5h0M208 475.5h0M206.9 476.1h0M209.7 474.6h0M208.8 476h0M209.6 474.6h0M209.1 476.7h0M208 477.2h0M209.2 475.9h0M206.9 477.5h0M212.2 480.5h0M212.5 480.5h0M212.4 479h0M209.9 478h0M212.5 477.9h0M210.7 479.7h0M210.4 476.4h0M211 476.8h0M210.2 477.5h0M210.6 475.5h0M212.2 476.8h0M209.9 477.1h0M209.9 475.2h0M211.1 474.8h0M214.5 447.7h0M215.6 449.1h0M214.3 449.3h0M214.5 449.8h0M213.1 448.8h0M215.7 449.4h0M212.8 448.2h0M213.6 444.2h0M215.7 443.7h0M215.8 446h0M213 445h0M213.9 444h0M215.3 445.6h0M217.9 447.5h0M218.7 449.5h0M216.1 449.3h0M216.7 446.8h0M218.7 448.6h0M217.6 448.7h0M217.7 447.7h0M216.6 448.6h0M216.4 449.4h0M218.8 448.7h0M217.3 444.5h0M216.4 446.6h0M218.2 444.2h0M218.9 398.8h0M221 399.4h0M220 398.5h0M221.8 397.7h0M220.3 397.7h0M219.4 398.6h0M219.5 397.1h0M221.5 395.5h0M220.8 395.7h0M219.5 395.8h0M223.8 398.4h0M224.8 399.9h0M223.2 400.5h0M222.2 398.9h0M224.2 398.5h0M222.2 399h0M222.9 398.7h0M223.5 396.2h0M223.5 395.5h0M224.1 395.8h0M223.5 397.1h0M222.6 394.6h0M223.2 394.7h0M224.4 397.4h0M222.1 396.9h0M223.6 396h0M227.2 564.5h0M227.4 564h0M226.7 564.8h0M225.2 564.7h0M228 566h0M227.3 564h0M225.1 564.7h0M226.3 566.5h0M227 564.5h0M226.8 565.8h0M227.7 564.3h0M227.9 566.6h0M227.7 562.5h0M226.5 561.7h0M226.9 561.6h0M226 562.2h0M226.9 563.3h0M229.8 565.3h0M229.4 563.7h0M230.8 561.4h0M230 560.8h0M228.9 563h0M230.1 562.3h0M228.6 561.2h0M229.4 563.2h0M230.2 561h0M225.1 529.5h0M226.7 527.4h0M225.7 529.8h0M227.3 529.8h0M225 527.4h0M225.9 526.8h0M225.3 528.4h0M225.3 527.4h0M226.1 529h0M227.5 527.5h0M228 526h0M227.1 526.1h0M226.4 525.8h0M225.8 524.9h0M227.7 526.5h0M225.9 524.1h0M225.4 524.1h0M225.7 525.6h0M230.6 527.1h0M230.5 529.8h0M229.7 527.2h0M230.1 526.7h0M229.5 525.5h0M230.8 525.2h0M231 524.6h0M230 524.5h0M238 552.2h0M240.1 553.8h0M238.2 551.7h0M238.5 553.1h0M239.2 551.7h0M239.2 553h0M239.4 551.9h0M239.8 552.8h0M239.4 549.7h0M239.1 551.1h0M238.1 548.6h0M240.1 550.9h0M237.2 549.4h0M237.4 550.5h0M238.1 548.5h0M239.5 550.9h0M242.9 552.8h0M240.4 553.8h0M242.3 554.1h0M241.7 554.2h0M243.1 553.4h0M240.2 551.7h0M241.2 549.1h0M242.8 549.8h0M242.2 549.5h0M242.5 548.9h0M237.3 490h0M238.5 492.5h0M239.6 491.7h0M240 491.6h0M240.2 492.1h0M238.2 490.9h0M239.9 489.5h0M238.7 489.1h0M238.9 489.3h0M237.3 487.5h0M239.4 489.3h0M238.7 487.9h0M241.7 491.6h0M240.5 491h0M242.7 490.6h0M240.5 492h0M242.5 492.6h0M240.9 490.6h0M240.9 488.5h0M241.9 489.6h0M241 488h0M243.1 489.6h0M241.6 487h0M242.5 488.5h0M241.7 489.6h0M240.6 488h0M252.1 515.8h0M250.7 517.4h0M249.4 516.5h0M249.5 515h0M250 514.6h0M249.8 516.7h0M249.7 516.8h0M249.6 517.5h0M250.5 512.3h0M251.8 512.2h0M251.5 512.9h0M251 512h0M250.2 512.9h0M251.5 511.9h0M253.6 516.5h0M253.1 515.5h0M253.1 516.2h0M253.5 517.1h0M252.9 517h0M254.3 515.1h0M254.2 515.7h0M254.6 513.5h0M255 511.7h0M254.8 513.4h0M253.2 511.8h0M252.9 512.9h0M263.1 418.8h0M262.8 416.3h0M262.7 417.4h0M263.6 417.1h0M262.8 416.6h0M263.3 418.8h0M263.8 418h0M263.8 417.8h0M262.1 413.8h0M262.6 414.1h0M263.7 415.6h0M266 417.4h0M266.5 416.9h0M266 416.9h0M266.6 418.1h0M267 416.7h0M266.8 418.3h0M266.5 415.7h0M265.4 413.9h0M267 414.1h0M266.9 415.3h0M267.5 413.7h0M264.5 415.7h0M266.4 415.4h0M265.2 414.3h0M266.2 415h0" stroke="#eecf3a" stroke-width="3.0" stroke-linecap="round" fill="none"/><path d="M202.4 492.8h0M201 492.2h0M201.1 492.9h0M201.9 492.4h0M202.4 492.3h0M200.9 490.8h0M202.8 489.5h0M203.4 486.9h0M202 489h0M202.1 488.5h0M205.2 492.6h0M204.1 490h0M206.3 492.3h0M203.8 490.4h0M205.5 490.1h0M203.8 490.9h0M204.9 492h0M206.3 491.3h0M204.6 491.3h0M204.5 487.3h0M203.8 489.8h0M206.4 487h0M205 486.9h0M206.7 488.6h0M205.3 487.6h0M205.9 488.8h0M204.1 489.8h0M200.7 454.1h0M203.3 455.1h0M202 453.2h0M203 454.9h0M203.4 455.2h0M202.3 453.2h0M203.5 455h0M202 455.7h0M201.7 454.7h0M202.3 453.2h0M201.1 452.1h0M202 452.7h0M202.3 451.9h0M206.5 454h0M204.1 455.5h0M205.1 453.7h0M206.5 454.2h0M205.9 455.7h0M205.9 454.7h0M205.1 455.3h0M205.8 454.3h0M205.6 451.7h0M206.5 449.9h0M204.4 452.4h0M206.4 452.2h0M204 450.9h0M205.6 451.7h0M215.7 521.7h0M214.4 520.6h0M215.5 521.8h0M215.2 522.3h0M213.6 521.8h0M215.2 523.2h0M213.6 521.4h0M214.2 523.2h0M213.5 522.9h0M215.6 519.1h0M213.2 517.7h0M215.6 518.3h0M215.3 519.4h0M214.3 518.2h0M213.7 519.7h0M216.6 522.2h0M217.6 521.9h0M217.3 521.4h0M216.1 523.5h0M216.7 521.3h0M216.7 522.4h0M217.9 518h0M216.7 517.8h0M216.4 518.4h0M217 518.3h0M216.7 517.7h0M217.2 520.2h0M237.1 498.4h0M239.8 498.8h0M238.7 497.9h0M238.3 496.1h0M237.7 498.9h0M238.7 498.8h0M238.3 497.9h0M237.7 498.8h0M239 496.6h0M239.6 499h0M238.9 497.5h0M239 495.4h0M237.6 493.4h0M239.1 495.9h0M239.2 493.7h0M239.7 493.9h0M238.6 493.2h0M242.8 498h0M242.6 496.1h0M240.6 496.4h0M240.6 496.3h0M240.3 493.7h0M241.1 493.4h0M240.5 495.8h0M242.9 494.9h0M242 495.6h0M241 494.2h0M239.6 441.5h0M238.4 443.5h0M238.7 442.9h0M238.2 440.6h0M238.2 442.6h0M239.1 438.9h0M239.6 440.5h0M239.6 440.2h0M238.7 440h0M238.9 440.4h0M239.2 437.6h0M239.1 440.4h0M242.3 441.5h0M241.7 443.7h0M242.9 442.6h0M242.7 440.6h0M243.1 442.3h0M241.1 442.6h0M240.6 437.8h0M242.8 439.9h0M240.6 440.3h0M243.2 440h0M242 439.7h0M240.7 439.4h0M242.8 438.7h0M240.3 438.5h0M241.3 438.9h0M244.6 515.8h0M244.8 514.6h0M243.4 517.5h0M245.9 514.9h0M245 515.9h0M244.8 516.7h0M244.4 512.9h0M243.2 511.7h0M245.3 511.6h0M244.6 511.6h0M243.4 512h0M244.8 513h0M246.8 516.9h0M246.7 516.7h0M248.9 515.9h0M246.9 515.4h0M248.2 516.7h0M248 515.2h0M249.1 517.3h0M249 516.7h0M246.4 517.3h0M247 515.3h0M248 516.4h0M247.9 514.4h0M248.7 511.7h0M246.9 513h0M246.5 512.9h0M244 505.2h0M244.2 502.4h0M244.1 503.4h0M245.4 502.8h0M243.7 504.5h0M245.5 502.4h0M245 504.2h0M243.6 505.2h0M245.8 502.8h0M245.1 503.4h0M244.6 504.7h0M243.3 505.1h0M245.8 504.9h0M243.8 502.3h0M243.4 502.7h0M245.7 499.2h0M243.5 500.9h0M249.2 503.8h0M246.8 503.5h0M249.2 503.7h0M248.9 504.9h0M248.6 504.2h0M248.1 501.1h0M249 500.1h0M247.7 501.3h0M249.2 501.7h0M247.5 500.5h0M251.6 496.4h0M251.6 498.8h0M250.7 497.8h0M252.1 496.5h0M252.2 498.8h0M250.6 496.8h0M251.1 496.5h0M249.9 498.9h0M251.5 498.8h0M252.1 497.1h0M249.9 493.7h0M252.1 495.2h0M251.5 494.2h0M249.4 495.8h0M252 494.3h0M249.4 493.6h0M254.6 496h0M253.7 498.5h0M252.7 496h0M254.7 496.1h0M253.7 497h0M254.8 496.9h0M254.1 493.4h0M253.2 494.4h0M255.3 493h0M253.9 494.8h0M253.7 493.7h0M251.3 473h0M251.9 473.2h0M250.1 474.3h0M251.7 474.4h0M251.8 471.4h0M249.4 472.3h0M252.1 473.5h0M249.8 473.4h0M251.2 471.1h0M251.7 470.5h0M250 469.7h0M252 470.1h0M250.4 470.9h0M253.7 474.3h0M254.8 471.7h0M254 473.9h0M253.5 473.5h0M254 474.2h0M253.3 469.6h0M254.2 470.9h0M253.3 469.7h0M253 469.1h0M253.9 470.3h0M254.3 469.2h0M254.5 470.2h0M254.6 468.6h0M252.4 470.2h0M251.1 449.2h0M249.8 448.3h0M251.5 448.9h0M250.7 444h0M251.5 445.5h0M250.6 444h0M250.5 445.7h0M249.3 443.7h0M251 446.2h0M251.2 445.1h0M253.6 447h0M253.3 446.9h0M252.8 448.6h0M253.9 449.3h0M255.3 449.3h0M253.1 448.6h0M252.5 447.5h0M254 448.5h0M252.5 446.6h0M252.9 445.2h0M253.9 443.9h0M252.9 444.2h0M253 446.1h0M252.4 444.6h0M253.9 444.7h0M255 445.6h0M253.4 444.2h0M256.6 477.9h0M257.4 479.4h0M256.7 479.9h0M257.1 479.8h0M256.4 477.8h0M256.5 476.3h0M256.9 476.7h0M255.6 477.1h0M257.6 477.4h0M255.8 476.4h0M258 474.5h0M258.3 475h0M256.6 475h0M258.9 480.5h0M260.3 479.1h0M258.8 479h0M260 478h0M258.8 477.6h0M258.7 479.2h0M260.9 477.6h0M259.3 479.2h0M260.9 479h0M260.3 477.3h0M259.9 477.3h0M261.3 475.3h0M259.4 475.3h0M260.8 477.3h0" stroke="#f6c33a" stroke-width="3.0" stroke-linecap="round" fill="none"/><path d="M213.4 510h0M213.9 508.8h0M213.2 508.9h0M215.2 509.8h0M215 510h0M215 505.4h0M213.7 507.6h0M213.1 505.5h0M215.2 506.8h0M215.6 506.3h0M213.5 506.6h0M213.3 507.8h0M213.4 505.5h0M216.1 508.6h0M218.8 509.3h0M218.4 508.5h0M216.4 509.5h0M218.7 509h0M217.9 511.2h0M217.9 510.9h0M218.7 510.8h0M216.5 510.8h0M217.7 511h0M217.9 508.9h0M217.3 510.3h0M216.8 507.6h0M216.5 507.3h0M218.4 507.3h0M214.1 503h0M213.9 502.7h0M214.1 502.9h0M213.7 503.5h0M214.9 503.7h0M215.1 504.7h0M215.6 499.9h0M213.6 500.6h0M214.5 501.9h0M213.3 499.8h0M215.5 499.2h0M213.1 500.6h0M214.2 499.7h0M215.6 499.8h0M217.1 503.9h0M218.3 503.6h0M216.7 504.4h0M215.8 504.1h0M216.4 503.3h0M218.3 505h0M216.2 503h0M216.8 504.1h0M216 504.2h0M217.5 503.3h0M218.2 499.5h0M217 501.8h0M217.6 500.4h0M218.1 501.4h0M226.6 478.7h0M226.6 479h0M225.9 479.5h0M225.8 479.8h0M228 478.8h0M226.3 478.1h0M227.5 477.7h0M227.1 477.9h0M227.7 475.3h0M228 476.8h0M226.7 475.9h0M225.6 476.2h0M227.9 477h0M227 477.3h0M230.8 479.4h0M229.1 477.9h0M228.9 479.5h0M230.6 478.3h0M229.8 478.3h0M229.8 480.5h0M230.2 476h0M230.8 477h0M230.5 476.8h0M230 475h0M228.4 476.3h0M229 477.4h0M228.5 476.7h0M229.3 476.7h0M233.4 522.5h0M233.6 522.5h0M232.8 523.5h0M232 522.2h0M232.2 523.2h0M232.5 522.3h0M232.2 523.3h0M232.9 523.4h0M233.7 518.8h0M233.3 518.4h0M233.5 518.3h0M233.9 518h0M233.8 520.2h0M233.7 517.8h0M232.4 518.2h0M232.9 520.2h0M232.2 519.9h0M235.8 522.2h0M236.9 523h0M235.9 522.6h0M235.7 522.9h0M235.3 523h0M236.6 518.3h0M236.7 518.3h0M236.7 520.3h0M235.5 518.7h0M236.4 517.6h0M234.2 518h0M231.7 435.2h0M233.3 435.1h0M233.1 436h0M231.6 436.9h0M232.9 434.5h0M233.6 435.8h0M231.1 436.6h0M232.9 436.1h0M233.6 434.9h0M231.9 432.8h0M233.8 431.9h0M232.9 432.1h0M233.9 431.6h0M232.3 432.9h0M231.8 433.6h0M232.4 433.1h0M231.2 433.8h0M231.6 433.9h0M234.5 437h0M235.5 435.3h0M236.5 437.5h0M236.3 437.3h0M234.3 435.5h0M235 433.1h0M236.6 433.6h0M235.2 434.4h0M236.6 432.8h0M234.7 431.6h0M250.4 453.2h0M250.8 453.1h0M250.7 453.8h0M249.4 454.5h0M250.9 453.8h0M249.7 454.7h0M251.9 449.9h0M250 451.6h0M251.8 450.6h0M250.5 450.4h0M249.6 451h0M250.4 452.8h0M250 452.5h0M252.1 449.9h0M250.4 450.5h0M250.9 452.3h0M249.5 452h0M253.8 454h0M254.3 455.3h0M253.9 453h0M254.8 454.2h0M252.9 454.7h0M252.5 453h0M252.6 452.2h0M253.8 450.1h0M253.4 450.9h0M254 450.3h0M254.3 451h0" stroke="#fbb637" stroke-width="3.0" stroke-linecap="round" fill="none"/><path d="M208.4 505.1h0M207.3 502.3h0M209 502.9h0M208.5 504.4h0M207.4 503.4h0M207.5 499.5h0M208.5 501.4h0M209.3 500.8h0M208.4 500.5h0M207.3 500.6h0M207.6 499.6h0M208 501h0M208 502h0M211.2 503h0M211.2 503.3h0M212.1 502.9h0M210.9 502.6h0M212.3 504.3h0M212.5 504.4h0M212.1 503.5h0M211.6 503h0M212.4 504h0M210.8 501.3h0M210.8 500.7h0M210.2 500.1h0M211.2 501.2h0M212.3 501.4h0M210.6 501.6h0M209.9 500.3h0M233.2 584.8h0M233.6 582.9h0M231.7 583.6h0M232.5 583.1h0M232.2 583.8h0M231.3 584h0M231.6 583.2h0M233.4 582.3h0M232.6 583.9h0M233.3 584.7h0M231.6 582.6h0M232.9 579.3h0M232 580h0M232.2 579.8h0M231.8 579.4h0M231.9 581.5h0M231.6 579.8h0M234.4 583.7h0M234.9 585h0M234.8 582.8h0M235.5 584.7h0M234.2 584.3h0M235.5 583.3h0M234.4 582.5h0M236.9 584.2h0M236.8 582.9h0M235.8 580h0M234.8 579.8h0M235.6 579.8h0M262.1 491.1h0M263 491.9h0M262.6 490.1h0M263.5 491.8h0M264 492.1h0M264.4 491.8h0M263.1 491.4h0M263.5 487.5h0M264.4 489.6h0M263.3 488.8h0M263.9 487.7h0M263.2 487.7h0M261.7 487.2h0M261.7 488.7h0M261.7 487.1h0M261.8 487.3h0M265.2 491.8h0M265.8 490.4h0M266.4 492.2h0M264.8 492.3h0M265.5 491.3h0M265.9 490h0M265.4 489.1h0M265.2 489.1h0M267.1 487.1h0M264.6 488.1h0M264.5 489.7h0M265.3 487.4h0M267.1 488.7h0" stroke="#fea431" stroke-width="3.0" stroke-linecap="round" fill="none"/><path d="M226.1 472.3h0M226.8 473.4h0M225.6 472h0M227.5 472.9h0M227.1 472.3h0M226.1 472.1h0M227.6 474.2h0M225.2 473.3h0M225.3 471.1h0M227.5 469.5h0M226.4 469.1h0M226.4 469.6h0M226.7 469.6h0M230 472.8h0M229.1 473.6h0M230.4 473.5h0M229.1 471.6h0M229 474.4h0M230.6 472.2h0M228.8 473.6h0M229.5 473.3h0M230.9 471.5h0M229.3 468.6h0M228.3 471.3h0M228.3 470.8h0M228.8 469.7h0M230.3 470.3h0M230.3 470.3h0M229.7 468.3h0M229.7 469.8h0M244.4 479.8h0M243.5 479.5h0M245.5 479.7h0M245 478.5h0M243.2 480.5h0M243.9 478.6h0M245.3 476.7h0M245.8 474.7h0M246 475.3h0M244.6 475.3h0M245 477.3h0M247.2 478.7h0M247.5 479.6h0M248 479.8h0M246.6 479.7h0M248.5 478.3h0M246.2 476.9h0M247.3 476h0M246.9 474.5h0M248.6 476.6h0M249 474.7h0M248.4 474.5h0M248.6 476.5h0M248.7 476.6h0M247.9 476.8h0M247.3 474.6h0M247.9 476.7h0M248.6 475.3h0M247.8 477.4h0M248.4 477h0M249.5 465.3h0M250.7 467.2h0M251 467.3h0M250.2 465.4h0M249.9 465.8h0M251 463.9h0M251.6 464.8h0M249.5 464h0M250.2 463.3h0M255.2 466.4h0M252.7 465.8h0M252.5 466.1h0M253.7 465.6h0M255.3 466.7h0M253.1 466.5h0M253.1 463.1h0M255.2 462.2h0M252.9 464.2h0M254.3 464.9h0M255.1 462.4h0M253.1 462.7h0M252.4 464.5h0M253.3 463.1h0M252.6 463.9h0M253.2 463.8h0M252.3 462.5h0M255.3 462.2h0M254.8 462.3h0M252.9 463.4h0M255.3 465h0" stroke="#fe932a" stroke-width="3.0" stroke-linecap="round" fill="none"/><path d="M219.5 517.3h0M221.1 516.4h0M221.1 515.9h0M220.7 517h0M220.8 515.9h0M221.7 516.4h0M219.3 511.6h0M219.5 512.2h0M221.1 511.6h0M219.6 513.9h0M221.5 512.8h0M220.2 511.9h0M221.6 512.2h0M219.2 513.9h0M221.7 511.9h0M224.3 515.4h0M224.6 514.6h0M222 516.3h0M222 516.8h0M222.6 515.3h0M223.8 516.4h0M222.2 515.5h0M223.9 515.2h0M223.8 517.5h0M223.5 514.3h0M222.5 513h0M224.5 513.3h0M224.3 513.1h0M223.7 513.6h0M224.8 511.9h0M224.9 512.7h0M225.7 504.3h0M226.9 503.5h0M227.2 504.1h0M225.1 502.6h0M226.6 503.6h0M226.7 503.3h0M225.2 504.8h0M227.9 504.6h0M226 503.7h0M226.7 500h0M227.2 502.1h0M225.5 501h0M227.1 500.8h0M226.2 500.1h0M230.9 502.8h0M228.8 503.9h0M229.9 503.6h0M229.3 502.7h0M229.5 503.4h0M229.9 505h0M229.7 503.2h0M228.9 504h0M229.2 502.3h0M231 500h0M228.1 502h0M228.5 501.6h0M229.5 501h0M228.6 500.4h0M229.9 499.5h0M228 499.2h0M229.1 501.3h0" stroke="#fb7e21" stroke-width="3.0" stroke-linecap="round" fill="none"/><path d="M220 489.9h0M219.9 491.9h0M221.1 490.7h0M219.6 492.6h0M220.3 490h0M219.6 492.3h0M220.6 490h0M220 491.4h0M221.2 491.6h0M221.9 487.7h0M219.3 487.9h0M220.4 489.4h0M220.6 487.3h0M221.3 487.5h0M219.3 488.5h0M223.9 492.2h0M223.4 491.9h0M222.2 490.8h0M222.6 490.9h0M224.5 490.6h0M222.8 492.8h0M223.9 491h0M223.6 490.2h0M222.3 492.3h0M223.8 486.8h0M223.6 487.3h0M222 489.3h0M222.3 487.1h0M222.9 488.3h0M224.9 488h0M222.9 486.8h0M224 489.5h0" stroke="#f66c19" stroke-width="3.0" stroke-linecap="round" fill="none"/><path d="M208.8 490.4h0M207.5 492.1h0M209 491.8h0M207.7 492.9h0M208.4 492.9h0M207.4 490.7h0M206.9 490.8h0M207.8 490.1h0M206.7 491.5h0M207.6 487.4h0M208.8 489.6h0M208.4 487.2h0M208.3 489.4h0M207.5 489.7h0M207.4 488.6h0M209.4 489.6h0M208.4 487.6h0M208 488.6h0M211.6 491.6h0M211.1 491.2h0M211.2 489.9h0M211.6 492.7h0M211.8 492.7h0M210.3 492.7h0M210.3 492.3h0M210.3 492.8h0M211 488.8h0M212.2 487.1h0M211.2 487.9h0M210.1 488.7h0M210.5 488.9h0M209.9 488.5h0M211.2 488.1h0M214.4 480.1h0M214.3 478h0M215.1 478.6h0M215.4 477.6h0M213 480h0M213.8 480.3h0M214.8 479.9h0M215.8 479.4h0M215.1 477.6h0M215.6 479.9h0M215 477.2h0M213.8 475.5h0M212.8 476.3h0M214.1 475.1h0M212.8 476.9h0M213.8 477.5h0M214.5 475.8h0M214 474.6h0M214.8 476.1h0M213 474.5h0M213.3 477.2h0M213.1 475.5h0M218.5 478.8h0M216.5 479.4h0M216.4 478.2h0M218.7 479.3h0M218 478.3h0M218.3 478h0M215.9 480.1h0M216.9 474.6h0M217 476.6h0M217.1 475.7h0M218.8 476.5h0M219.9 509.6h0M219.6 508.5h0M220.8 510.3h0M220.2 511.1h0M221.7 509h0M220.8 508.9h0M220.8 509.6h0M221.3 510.9h0M219.5 508.5h0M221.2 509.2h0M221.2 505.6h0M220.8 505.4h0M220.5 507.1h0M219.2 505.9h0M220.5 506.4h0M222.6 509.9h0M224.8 509.7h0M224.9 510.1h0M222.8 510.2h0M223.6 508.4h0M222.4 508.4h0M224.3 509.4h0M223.4 506.9h0M223.5 506.1h0M222.8 506.5h0M223.7 507.1h0M223.6 505.9h0M222.1 507h0M223.4 506.1h0M224.2 507.2h0M222.2 507.8h0M222.1 506.5h0M224.7 507.1h0M231.8 472.1h0M233.1 474.2h0M232.4 472.6h0M232 472.6h0M233.6 474.1h0M231.8 473.9h0M233.6 471.9h0M231.6 468.8h0M232.9 470h0M233.1 469.7h0M231.6 471.2h0M233.1 470.7h0M232.9 470.8h0M231.6 470.5h0M233 469.3h0M233.1 470.7h0M233 468.4h0M234.9 474.1h0M234.4 473.3h0M234.7 473.6h0M236.5 473.7h0M235.3 472.5h0M235.4 472h0M236.6 473.7h0M234.8 473.8h0M236.5 470.5h0M235.3 469.2h0M235.5 470.6h0M236.7 470h0M236.9 468.7h0M234.3 470.2h0M236.9 469.5h0M236.4 469.5h0" stroke="#f05b12" stroke-width="3.0" stroke-linecap="round" fill="none"/><path d="M207.5 459.2h0M209.3 461.7h0M209.3 461.1h0M209.4 460h0M206.9 461.4h0M206.9 459.4h0M207.6 459.1h0M208.2 460.4h0M208.8 461.5h0M207.3 456.7h0M207.9 457.6h0M207.2 459h0M208.9 456.4h0M208.9 458.7h0M209 457.2h0M208.8 457h0M209.2 456.9h0M208.7 456.8h0M209.4 457.6h0M209.4 456.3h0M210.8 459.4h0M212 461.3h0M212.6 460.5h0M210.7 461.8h0M211.7 459.9h0M212.7 459.7h0M212.7 458.7h0M212.6 457.5h0M211.9 456.2h0M211.2 457.8h0M211.8 456.9h0M211.6 457.2h0M210.7 457h0M211.5 458.7h0" stroke="#e7490c" stroke-width="3.0" stroke-linecap="round" fill="none"/><path d="M214.8 461.3h0M212.9 460.5h0M214.6 459.2h0M213.6 460.5h0M214.8 461.6h0M213.7 460.4h0M213.3 459h0M213.7 457.5h0M214.5 458.8h0M212.9 456.9h0M215.3 456.2h0M215.4 458.1h0M213.9 459h0M215.2 457.8h0M214.7 457.4h0M218.7 459.2h0M215.9 460.5h0M216.8 461.8h0M216.6 459.5h0M216.6 462h0M217.3 459.6h0M216.2 461.4h0M216.5 461.4h0M218.7 461h0M216.6 460.3h0M216.2 459.9h0M216 459.4h0M216.7 457.1h0M217.5 458h0M217.4 458.4h0M216.3 458.4h0M217.7 459h0M216.2 458.8h0M216.8 458.6h0M218.8 458.4h0M217.4 457.5h0" stroke="#d02f05" stroke-width="3.0" stroke-linecap="round" fill="none"/><path d="M214.1 472.7h0M214.7 472.5h0M213.2 474.4h0M214.6 474.2h0M215.6 472.9h0M213.1 473.1h0M213.3 472h0M215.3 471.9h0M213 473.5h0M214.6 472.6h0M214.6 473h0M215.7 471.4h0M213.1 472.8h0M215.3 472.6h0M215.4 470.3h0M213.2 471h0M214.8 471.1h0M213.1 471.1h0M215.2 471.2h0M215.4 468.6h0M214.4 470h0M217.8 473.9h0M217 473.6h0M217.3 474h0M217.7 473.1h0M217.9 473.5h0M216.9 472.2h0M217.6 474.4h0M217.3 472.1h0M218 472.9h0M218.4 469.5h0M217.9 471h0M217.7 468.9h0M217 470.9h0M218.1 471.2h0M217.5 468.5h0M216.3 469.6h0" stroke="#c32503" stroke-width="3.0" stroke-linecap="round" fill="none"/><path d="M233.4 498h0M233.4 498.7h0M231.5 496.2h0M233.1 498.6h0M233.5 498.5h0M231.9 496.7h0M232.6 497h0M233.5 496.4h0M232.1 495.6h0M233.9 494.4h0M233.8 494.9h0M232.9 493.6h0M231.8 494.1h0M232.2 494.7h0M234.9 496.5h0M237 498.7h0M236 496.9h0M235.5 497.5h0M236.1 498.4h0M234.7 498.6h0M235.2 497.4h0M234.5 497.8h0M236 496.8h0M236.8 497.9h0M236.6 497h0M234.9 496.8h0M235.7 496.2h0M236.4 498.9h0M235.9 493.9h0M235 494.8h0M234.5 493h0M235.6 494.4h0M236.6 495.2h0M235.5 495.6h0M234.7 493.6h0M236.8 495.6h0M235 494.1h0M235 495.8h0" stroke="#b41b01" stroke-width="3.0" stroke-linecap="round" fill="none"/><path d="M251.4 490h0M251.2 491.4h0M250.7 492h0M250 490.5h0M251 491.2h0M249.7 492.1h0M251.5 492.4h0M251.2 491.8h0M250.5 492.6h0M250.2 492.6h0M251.7 490h0M249.4 491.2h0M249.5 488.8h0M250 488.2h0M252 488h0M251.2 487.8h0M250.2 489h0M252.2 487.8h0M250.4 488.2h0M250.9 487.2h0M250.8 489.3h0M250.9 489.4h0M251.4 488.7h0M250 487.6h0M249.7 486.9h0M250.8 489.6h0M249.3 489.4h0M251.1 488.6h0M253.4 492.9h0M253.1 491h0M254.8 491.1h0M252.3 492.7h0M254.7 487.3h0M252.6 487.8h0M253.6 489.2h0M252.9 488h0M255.2 487.9h0M254.1 489.4h0M253.4 486.9h0" stroke="#a11201" stroke-width="3.0" stroke-linecap="round" fill="none"/><path d="M226.6 497.9h0M227.7 498.1h0M225.9 496.7h0M225.5 498.8h0M227.8 497h0M226.6 497.4h0M227.3 493.2h0M225.7 493.8h0M225.2 494.7h0M227.2 494h0M227.1 494.9h0M227.1 493.3h0M225.1 495.3h0M227.6 493.4h0M226.4 493.4h0M226.5 493.5h0M225.8 493.4h0M227.5 495.5h0M227.3 494.2h0M225.2 494.3h0M226.5 496h0M228.3 497.1h0M228.9 496.4h0M228 498.4h0M230.6 498.2h0M229.9 496.8h0M229.9 498.6h0M228.3 496.9h0M231 496h0M228.9 496.4h0M228.2 497.6h0M229.9 498.1h0M229.6 497.1h0M228.6 498h0M228.5 493.8h0M229 495.4h0M228 493.6h0M231 493.9h0M229.6 493h0M228.9 493.2h0M240 466.8h0M237.3 465.4h0M240.1 468.2h0M239.1 468h0M237.8 466.9h0M240 468.3h0M239.4 467.6h0M239.2 467.6h0M239.4 467.7h0M239.7 465.8h0M237.3 468.1h0M237.9 465.3h0M237.7 464.8h0M238.3 462.6h0M238.7 463.4h0M238.7 463.4h0M239.7 462.6h0M238.3 462.6h0M237.2 464.5h0M238.9 463.2h0M240.1 464.6h0M238.7 464.9h0M241.9 467h0M240.5 466.7h0M241.6 467.2h0M242.3 467.7h0M240.8 468h0M241.7 467.9h0M242.1 465.9h0M241.3 465.4h0M241.3 462.7h0M241.1 462.4h0M243 462.4h0M241.6 464.7h0M241 463.7h0M243.1 463.9h0M240.9 464.3h0M240.6 464.4h0M241.3 465.2h0M241.4 462.5h0" stroke="#8e0a01" stroke-width="3.0" stroke-linecap="round" fill="none"/><path d="M207.8 498.7h0M207.2 497.9h0M207.5 498.8h0M208.9 497.5h0M208.4 496.1h0M209.1 497.5h0M207.3 497.3h0M209.7 497.9h0M209.4 496.6h0M209.6 497.1h0M206.8 498.8h0M208.6 493.9h0M209.5 493h0M208.7 493h0M208.6 495h0M208.6 495.7h0M206.9 495h0M208.1 493.3h0M207.1 493.8h0M208.2 493.8h0M210.6 498.6h0M212.6 497.2h0M212.1 496.2h0M210.5 496.9h0M210.8 498.4h0M211.6 496.7h0M211 497.5h0M211.7 497h0M212.2 498.8h0M211.7 497.6h0M210.2 498.8h0M212 494.1h0M212 493h0M210.1 495h0M211.6 495h0M209.9 493h0M212.4 493.9h0M212.7 494h0M212.2 494.5h0M210.3 494.8h0M212.6 495h0M211.6 493h0" stroke="#7a0403" stroke-width="3.0" stroke-linecap="round" fill="none"/><path d="M206.5 707.0V28.0M305.5 707.0V28.0M405.5 707.0V28.0M505.5 707.0V28.0M605.5 707.0V28.0M704.5 707.0V28.0M106.0 622.5H804.0M106.0 537.5H804.0M106.0 452.5H804.0M106.0 368.5H804.0M106.0 283.5H804.0M106.0 198.5H804.0M106.0 113.5H804.0" stroke="#b0b0b0" stroke-width="1.3" stroke-dasharray="5.14 2.22" fill="none"/><rect x="106.0" y="28.0" width="698.0" height="679.0" fill="none" stroke="#000" stroke-width="2.2"/><path d="M106.0 707.0V716.7M205.71428571428572 707.0V716.7M305.42857142857144 707.0V716.7M405.14285714285717 707.0V716.7M504.85714285714283 707.0V716.7M604.5714285714286 707.0V716.7M704.2857142857143 707.0V716.7M804.0 707.0V716.7M106.0 707.0H96.3M106.0 622.125H96.3M106.0 537.25H96.3M106.0 452.375H96.3M106.0 367.5H96.3M106.0 282.625H96.3M106.0 197.75H96.3M106.0 112.875H96.3M106.0 28.0H96.3" stroke="#000" stroke-width="2.2" fill="none"/><text transform="translate(106.00,741.2) scale(1.28,1)" font-family="&quot;Liberation Serif&quot;, serif" font-weight="bold" font-size="20.5" text-anchor="middle">0</text><text transform="translate(205.71,741.2) scale(1.28,1)" font-family="&quot;Liberation Serif&quot;, serif" font-weight="bold" font-size="20.5" text-anchor="middle">1</text><text transform="translate(305.43,741.2) scale(1.28,1)" font-family="&quot;Liberation Serif&quot;, serif" font-weight="bold" font-size="20.5" text-anchor="middle">2</text><text transform="translate(405.14,741.2) scale(1.28,1)" font-family="&quot;Liberation Serif&quot;, serif" font-weight="bold" font-size="20.5" text-anchor="middle">3</text><text transform="translate(504.86,741.2) scale(1.28,1)" font-family="&quot;Liberation Serif&quot;, serif" font-weight="bold" font-size="20.5" text-anchor="middle">4</text><text transform="translate(604.57,741.2) scale(1.28,1)" font-family="&quot;Liberation Serif&quot;, serif" font-weight="bold" font-size="20.5" text-anchor="middle">5</text><text transform="translate(704.29,741.2) scale(1.28,1)" font-family="&quot;Liberation Serif&quot;, serif" font-weight="bold" font-size="20.5" text-anchor="middle">6</text><text transform="translate(804.00,741.2) scale(1.28,1)" font-family="&quot;Liberation Serif&quot;, serif" font-weight="bold" font-size="20.5" text-anchor="middle">7</text><text transform="translate(85.4,714.10) scale(1.28,1)" font-family="&quot;Liberation Serif&quot;, serif" font-weight="bold" font-size="20.5" text-anchor="end">4</text><text transform="translate(85.4,629.23) scale(1.28,1)" font-family="&quot;Liberation Serif&quot;, serif" font-weight="bold" font-size="20.5" text-anchor="end">6</text><text transform="translate(85.4,544.35) scale(1.28,1)" font-family="&quot;Liberation Serif&quot;, serif" font-weight="bold" font-size="20.5" text-anchor="end">8</text><text transform="translate(85.4,459.48) scale(1.28,1)" font-family="&quot;Liberation Serif&quot;, serif" font-weight="bold" font-size="20.5" text-anchor="end">10</text><text transform="translate(85.4,374.60) scale(1.28,1)" font-family="&quot;Liberation Serif&quot;, serif" font-weight="bold" font-size="20.5" text-anchor="end">12</text><text transform="translate(85.4,289.73) scale(1.28,1)" font-family="&quot;Liberation Serif&quot;, serif" font-weight="bold" font-size="20.5" text-anchor="end">14</text><text transform="translate(85.4,204.85) scale(1.28,1)" font-family="&quot;Liberation Serif&quot;, serif" font-weight="bold" font-size="20.5" text-anchor="end">16</text><text transform="translate(85.4,119.97) scale(1.28,1)" font-family="&quot;Liberation Serif&quot;, serif" font-weight="bold" font-size="20.5" text-anchor="end">18</text><text transform="translate(85.4,35.10) scale(1.28,1)" font-family="&quot;Liberation Serif&quot;, serif" font-weight="bold" font-size="20.5" text-anchor="end">20</text><defs><linearGradient id="cb" x1="0" y1="1" x2="0" y2="0"><stop offset="0.0000" stop-color="#30123b"/><stop offset="0.0312" stop-color="#392a73"/><stop offset="0.0625" stop-color="#4040a2"/><stop offset="0.0938" stop-color="#4456c7"/><stop offset="0.1250" stop-color="#466be3"/><stop offset="0.1562" stop-color="#4680f6"/><stop offset="0.1875" stop-color="#4294ff"/><stop offset="0.2188" stop-color="#37a8fa"/><stop offset="0.2500" stop-color="#28bceb"/><stop offset="0.2812" stop-color="#1ccdd8"/><stop offset="0.3125" stop-color="#18ddc2"/><stop offset="0.3438" stop-color="#1fe9af"/><stop offset="0.3750" stop-color="#32f298"/><stop offset="0.4062" stop-color="#4ef97d"/><stop offset="0.4375" stop-color="#6dfe62"/><stop offset="0.4688" stop-color="#8bff4b"/><stop offset="0.5000" stop-color="#a4fc3c"/><stop offset="0.5312" stop-color="#b9f635"/><stop offset="0.5625" stop-color="#cdec34"/><stop offset="0.5938" stop-color="#dfdf37"/><stop offset="0.6250" stop-color="#eecf3a"/><stop offset="0.6562" stop-color="#f8be39"/><stop offset="0.6875" stop-color="#fdac34"/><stop offset="0.7188" stop-color="#fe962b"/><stop offset="0.7500" stop-color="#fb7e21"/><stop offset="0.7812" stop-color="#f46617"/><stop offset="0.8125" stop-color="#eb500e"/><stop offset="0.8438" stop-color="#df3f08"/><stop offset="0.8750" stop-color="#d02f05"/><stop offset="0.9062" stop-color="#be2102"/><stop offset="0.9375" stop-color="#a91601"/><stop offset="0.9688" stop-color="#920b01"/><stop offset="1.0000" stop-color="#7a0403"/></linearGradient></defs><rect x="848.0" y="28.0" width="34.0" height="678.7" fill="url(#cb)" stroke="#000" stroke-width="2.1"/><path d="M882.0 638.83H891.7M882.0 553.9925000000001H891.7M882.0 469.15500000000003H891.7M882.0 384.31750000000005H891.7M882.0 299.48H891.7M882.0 214.64250000000004H891.7M882.0 129.805H891.7M882.0 44.9675H891.7" stroke="#000" stroke-width="2.2" fill="none"/><text transform="translate(901.6,645.93) scale(1.28,1)" font-family="&quot;Liberation Serif&quot;, serif" font-weight="bold" font-size="20.5">5</text><text transform="translate(901.6,561.09) scale(1.28,1)" font-family="&quot;Liberation Serif&quot;, serif" font-weight="bold" font-size="20.5">10</text><text transform="translate(901.6,476.26) scale(1.28,1)" font-family="&quot;Liberation Serif&quot;, serif" font-weight="bold" font-size="20.5">15</text><text transform="translate(901.6,391.42) scale(1.28,1)" font-family="&quot;Liberation Serif&quot;, serif" font-weight="bold" font-size="20.5">20</text><text transform="translate(901.6,306.58) scale(1.28,1)" font-family="&quot;Liberation Serif&quot;, serif" font-weight="bold" font-size="20.5">25</text><text transform="translate(901.6,221.74) scale(1.28,1)" font-family="&quot;Liberation Serif&quot;, serif" font-weight="bold" font-size="20.5">30</text><text transform="translate(901.6,136.91) scale(1.28,1)" font-family="&quot;Liberation Serif&quot;, serif" font-weight="bold" font-size="20.5">35</text><text transform="translate(901.6,52.07) scale(1.28,1)" font-family="&quot;Liberation Serif&quot;, serif" font-weight="bold" font-size="20.5">40</text><text transform="translate(954,369.25) rotate(-90) scale(1.16,1)" font-family="&quot;Liberation Serif&quot;, serif" font-size="20.8" text-anchor="middle">Density</text><g font-family="&quot;Liberation Sans&quot;, sans-serif" font-weight="bold" stroke="#000" stroke-width="0.8" stroke-linejoin="round"><text transform="translate(420.2,773) scale(1.1,1)" font-style="italic" font-size="22">H</text><text transform="translate(437.4,776) scale(1.04,1)" font-style="italic" font-size="18">s</text><text transform="translate(449,772.4) scale(1.15,1)" font-size="21">[</text><text transform="translate(458.6,772.9) scale(1.12,1)" font-style="italic" font-size="21.5">m</text><text transform="translate(482.2,772.4) scale(1.15,1)" font-size="21">]</text></g><g font-family="&quot;Liberation Sans&quot;, sans-serif" font-weight="bold" stroke="#000" stroke-width="0.8" stroke-linejoin="round" transform="translate(38.2,397) rotate(-90)"><text transform="translate(-2,0) scale(1.15,1)" font-style="italic" font-size="22">T</text><text transform="translate(14,2.8) scale(1.1,1)" font-style="italic" font-size="17">p</text><text transform="translate(26,-1.3) scale(1.1,1)" font-size="20.5">[</text><text transform="translate(35.3,0) scale(1.1,1)" font-style="italic" font-size="21.2">s</text><text transform="translate(50.6,-1.3) scale(1.1,1)" font-size="20.5">]</text></g></svg></body></html>
